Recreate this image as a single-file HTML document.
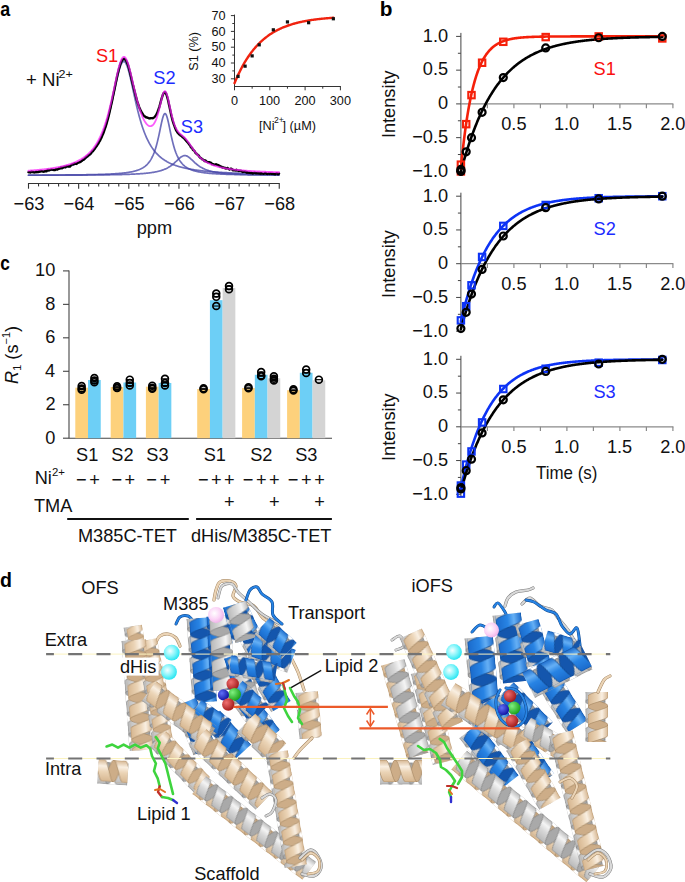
<!DOCTYPE html>
<html><head><meta charset="utf-8"><style>
html,body{margin:0;padding:0;background:#fff;}
svg{display:block;}
text{font-family:"Liberation Sans", sans-serif;}
</style></head><body>
<svg width="685" height="882" viewBox="0 0 685 882">
<rect width="685" height="882" fill="#fff"/>
<text transform="translate(0.16 16.00) scale(0.86 1)" font-size="20.8" fill="#000" font-weight="bold">a</text>
<text transform="translate(379.75 15.80) scale(1.0 1)" font-size="20.8" fill="#000" font-weight="bold">b</text>
<text transform="translate(0.21 270.40) scale(0.83 1)" font-size="20.8" fill="#000" font-weight="bold">c</text>
<text transform="translate(0.12 586.80) scale(0.94 1)" font-size="20.8" fill="#000" font-weight="bold">d</text>
<path d="M28.50,172.27 L29.00,172.24 L29.50,172.21 L30.00,172.18 L30.50,172.14 L31.00,172.11 L31.50,172.07 L32.00,172.04 L32.50,172.00 L33.00,171.97 L33.50,171.93 L34.00,171.89 L34.50,171.85 L35.00,171.82 L35.50,171.78 L36.00,171.74 L36.50,171.70 L37.00,171.65 L37.50,171.61 L38.00,171.57 L38.50,171.53 L39.00,171.48 L39.50,171.44 L40.00,171.39 L40.50,171.34 L41.00,171.30 L41.50,171.25 L42.00,171.20 L42.50,171.15 L43.00,171.10 L43.50,171.05 L44.00,170.99 L44.50,170.94 L45.00,170.89 L45.50,170.83 L46.00,170.77 L46.50,170.72 L47.00,170.66 L47.50,170.60 L48.00,170.54 L48.50,170.48 L49.00,170.41 L49.50,170.35 L50.00,170.28 L50.50,170.22 L51.00,170.15 L51.50,170.08 L52.00,170.01 L52.50,169.93 L53.00,169.86 L53.50,169.79 L54.00,169.71 L54.50,169.63 L55.00,169.55 L55.50,169.47 L56.00,169.39 L56.50,169.30 L57.00,169.21 L57.50,169.13 L58.00,169.04 L58.50,168.94 L59.00,168.85 L59.50,168.75 L60.00,168.65 L60.50,168.55 L61.00,168.45 L61.50,168.35 L62.00,168.24 L62.50,168.13 L63.00,168.02 L63.50,167.90 L64.00,167.78 L64.50,167.66 L65.00,167.54 L65.50,167.42 L66.00,167.29 L66.50,167.15 L67.00,167.02 L67.50,166.88 L68.00,166.74 L68.50,166.59 L69.00,166.45 L69.50,166.29 L70.00,166.14 L70.50,165.98 L71.00,165.81 L71.50,165.64 L72.00,165.47 L72.50,165.29 L73.00,165.11 L73.50,164.93 L74.00,164.73 L74.50,164.54 L75.00,164.33 L75.50,164.13 L76.00,163.91 L76.50,163.69 L77.00,163.47 L77.50,163.24 L78.00,163.00 L78.50,162.76 L79.00,162.50 L79.50,162.25 L80.00,161.98 L80.50,161.70 L81.00,161.42 L81.50,161.13 L82.00,160.83 L82.50,160.52 L83.00,160.21 L83.50,159.88 L84.00,159.54 L84.50,159.19 L85.00,158.83 L85.50,158.46 L86.00,158.08 L86.50,157.68 L87.00,157.28 L87.50,156.86 L88.00,156.42 L88.50,155.97 L89.00,155.51 L89.50,155.03 L90.00,154.53 L90.50,154.02 L91.00,153.49 L91.50,152.94 L92.00,152.37 L92.50,151.78 L93.00,151.17 L93.50,150.54 L94.00,149.89 L94.50,149.21 L95.00,148.51 L95.50,147.79 L96.00,147.03 L96.50,146.25 L97.00,145.44 L97.50,144.61 L98.00,143.73 L98.50,142.83 L99.00,141.90 L99.50,140.92 L100.00,139.92 L100.50,138.87 L101.00,137.78 L101.50,136.66 L102.00,135.49 L102.50,134.28 L103.00,133.02 L103.50,131.72 L104.00,130.37 L104.50,128.96 L105.00,127.51 L105.50,126.01 L106.00,124.45 L106.50,122.84 L107.00,121.18 L107.50,119.46 L108.00,117.68 L108.50,115.85 L109.00,113.97 L109.50,112.02 L110.00,110.03 L110.50,107.98 L111.00,105.89 L111.50,103.75 L112.00,101.56 L112.50,99.34 L113.00,97.08 L113.50,94.80 L114.00,92.50 L114.50,90.19 L115.00,87.88 L115.50,85.57 L116.00,83.29 L116.50,81.04 L117.00,78.84 L117.50,76.70 L118.00,74.64 L118.50,72.67 L119.00,70.81 L119.50,69.08 L120.00,67.49 L120.50,66.05 L121.00,64.79 L121.50,63.71 L122.00,62.82 L122.50,62.15 L123.00,61.68 L123.50,61.44 L124.00,61.42 L124.50,61.62 L125.00,62.04 L125.50,62.67 L126.00,63.52 L126.50,64.56 L127.00,65.78 L127.50,67.19 L128.00,68.75 L128.50,70.46 L129.00,72.29 L129.50,74.24 L130.00,76.28 L130.50,78.41 L131.00,80.60 L131.50,82.84 L132.00,85.11 L132.50,87.41 L133.00,89.73 L133.50,92.04 L134.00,94.34 L134.50,96.63 L135.00,98.89 L135.50,101.12 L136.00,103.31 L136.50,105.46 L137.00,107.57 L137.50,109.62 L138.00,111.63 L138.50,113.58 L139.00,115.48 L139.50,117.32 L140.00,119.11 L140.50,120.84 L141.00,122.52 L141.50,124.14 L142.00,125.70 L142.50,127.22 L143.00,128.68 L143.50,130.09 L144.00,131.45 L144.50,132.76 L145.00,134.03 L145.50,135.25 L146.00,136.43 L146.50,137.56 L147.00,138.66 L147.50,139.71 L148.00,140.72 L148.50,141.70 L149.00,142.65 L149.50,143.56 L150.00,144.43 L150.50,145.28 L151.00,146.09 L151.50,146.88 L152.00,147.64 L152.50,148.37 L153.00,149.08 L153.50,149.76 L154.00,150.41 L154.50,151.05 L155.00,151.66 L155.50,152.25 L156.00,152.83 L156.50,153.38 L157.00,153.91 L157.50,154.43 L158.00,154.93 L158.50,155.41 L159.00,155.88 L159.50,156.33 L160.00,156.77 L160.50,157.19 L161.00,157.60 L161.50,158.00 L162.00,158.39 L162.50,158.76 L163.00,159.12 L163.50,159.47 L164.00,159.81 L164.50,160.14 L165.00,160.46 L165.50,160.77 L166.00,161.07 L166.50,161.36 L167.00,161.65 L167.50,161.92 L168.00,162.19 L168.50,162.45 L169.00,162.71 L169.50,162.95 L170.00,163.19 L170.50,163.42 L171.00,163.65 L171.50,163.87 L172.00,164.09 L172.50,164.29 L173.00,164.50 L173.50,164.69 L174.00,164.89 L174.50,165.07 L175.00,165.26 L175.50,165.44 L176.00,165.61 L176.50,165.78 L177.00,165.94 L177.50,166.10 L178.00,166.26 L178.50,166.42 L179.00,166.56 L179.50,166.71 L180.00,166.85 L180.50,166.99 L181.00,167.13 L181.50,167.26 L182.00,167.39 L182.50,167.52 L183.00,167.64 L183.50,167.76 L184.00,167.88 L184.50,167.99 L185.00,168.11 L185.50,168.22 L186.00,168.32 L186.50,168.43 L187.00,168.53 L187.50,168.63 L188.00,168.73 L188.50,168.83 L189.00,168.92 L189.50,169.02 L190.00,169.11 L190.50,169.20 L191.00,169.28 L191.50,169.37 L192.00,169.45 L192.50,169.53 L193.00,169.61 L193.50,169.69 L194.00,169.77 L194.50,169.85 L195.00,169.92 L195.50,169.99 L196.00,170.06 L196.50,170.13 L197.00,170.20 L197.50,170.27 L198.00,170.33 L198.50,170.40 L199.00,170.46 L199.50,170.53 L200.00,170.59 L200.50,170.65 L201.00,170.70 L201.50,170.76 L202.00,170.82 L202.50,170.88 L203.00,170.93 L203.50,170.98 L204.00,171.04 L204.50,171.09 L205.00,171.14 L205.50,171.19 L206.00,171.24 L206.50,171.29 L207.00,171.33 L207.50,171.38 L208.00,171.43 L208.50,171.47 L209.00,171.52 L209.50,171.56 L210.00,171.60 L210.50,171.65 L211.00,171.69 L211.50,171.73 L212.00,171.77 L212.50,171.81 L213.00,171.85 L213.50,171.88 L214.00,171.92 L214.50,171.96 L215.00,172.00 L215.50,172.03 L216.00,172.07 L216.50,172.10 L217.00,172.14 L217.50,172.17 L218.00,172.20 L218.50,172.24 L219.00,172.27 L219.50,172.30 L220.00,172.33 L220.50,172.36 L221.00,172.39 L221.50,172.42 L222.00,172.45 L222.50,172.48 L223.00,172.51 L223.50,172.54 L224.00,172.57 L224.50,172.59 L225.00,172.62 L225.50,172.65 L226.00,172.67 L226.50,172.70 L227.00,172.72 L227.50,172.75 L228.00,172.77 L228.50,172.80 L229.00,172.82 L229.50,172.85 L230.00,172.87 L230.50,172.89 L231.00,172.92 L231.50,172.94 L232.00,172.96 L232.50,172.98 L233.00,173.00 L233.50,173.03 L234.00,173.05 L234.50,173.07 L235.00,173.09 L235.50,173.11 L236.00,173.13 L236.50,173.15 L237.00,173.17 L237.50,173.19 L238.00,173.21 L238.50,173.22 L239.00,173.24 L239.50,173.26 L240.00,173.28 L240.50,173.30 L241.00,173.31 L241.50,173.33 L242.00,173.35 L242.50,173.37 L243.00,173.38 L243.50,173.40 L244.00,173.42 L244.50,173.43 L245.00,173.45 L245.50,173.46 L246.00,173.48 L246.50,173.49 L247.00,173.51 L247.50,173.52 L248.00,173.54 L248.50,173.55 L249.00,173.57 L249.50,173.58 L250.00,173.60 L250.50,173.61 L251.00,173.62 L251.50,173.64 L252.00,173.65 L252.50,173.66 L253.00,173.68 L253.50,173.69 L254.00,173.70 L254.50,173.72 L255.00,173.73 L255.50,173.74 L256.00,173.75 L256.50,173.77 L257.00,173.78 L257.50,173.79 L258.00,173.80 L258.50,173.81 L259.00,173.83 L259.50,173.84 L260.00,173.85 L260.50,173.86 L261.00,173.87 L261.50,173.88 L262.00,173.89 L262.50,173.90 L263.00,173.91 L263.50,173.92 L264.00,173.93 L264.50,173.94 L265.00,173.95 L265.50,173.96 L266.00,173.97 L266.50,173.98 L267.00,173.99 L267.50,174.00 L268.00,174.01 L268.50,174.02 L269.00,174.03 L269.50,174.04 L270.00,174.05 L270.50,174.06 L271.00,174.07 L271.50,174.08 L272.00,174.09 L272.50,174.10 L273.00,174.10 L273.50,174.11 L274.00,174.12 L274.50,174.13 L275.00,174.14 L275.50,174.15 L276.00,174.15 L276.50,174.16 L277.00,174.17 L277.50,174.18 L278.00,174.19 L278.50,174.19 L279.00,174.20" fill="none" stroke="rgba(70,70,168,0.78)" stroke-width="1.7" stroke-linejoin="round" stroke-linecap="round" />
<path d="M28.50,175.17 L29.00,175.17 L29.50,175.17 L30.00,175.17 L30.50,175.17 L31.00,175.16 L31.50,175.16 L32.00,175.16 L32.50,175.16 L33.00,175.16 L33.50,175.15 L34.00,175.15 L34.50,175.15 L35.00,175.15 L35.50,175.15 L36.00,175.15 L36.50,175.14 L37.00,175.14 L37.50,175.14 L38.00,175.14 L38.50,175.14 L39.00,175.13 L39.50,175.13 L40.00,175.13 L40.50,175.13 L41.00,175.12 L41.50,175.12 L42.00,175.12 L42.50,175.12 L43.00,175.12 L43.50,175.11 L44.00,175.11 L44.50,175.11 L45.00,175.11 L45.50,175.10 L46.00,175.10 L46.50,175.10 L47.00,175.10 L47.50,175.09 L48.00,175.09 L48.50,175.09 L49.00,175.09 L49.50,175.08 L50.00,175.08 L50.50,175.08 L51.00,175.07 L51.50,175.07 L52.00,175.07 L52.50,175.07 L53.00,175.06 L53.50,175.06 L54.00,175.06 L54.50,175.05 L55.00,175.05 L55.50,175.05 L56.00,175.04 L56.50,175.04 L57.00,175.04 L57.50,175.03 L58.00,175.03 L58.50,175.03 L59.00,175.02 L59.50,175.02 L60.00,175.02 L60.50,175.01 L61.00,175.01 L61.50,175.01 L62.00,175.00 L62.50,175.00 L63.00,174.99 L63.50,174.99 L64.00,174.99 L64.50,174.98 L65.00,174.98 L65.50,174.97 L66.00,174.97 L66.50,174.96 L67.00,174.96 L67.50,174.96 L68.00,174.95 L68.50,174.95 L69.00,174.94 L69.50,174.94 L70.00,174.93 L70.50,174.93 L71.00,174.92 L71.50,174.92 L72.00,174.91 L72.50,174.91 L73.00,174.90 L73.50,174.90 L74.00,174.89 L74.50,174.88 L75.00,174.88 L75.50,174.87 L76.00,174.87 L76.50,174.86 L77.00,174.86 L77.50,174.85 L78.00,174.84 L78.50,174.84 L79.00,174.83 L79.50,174.82 L80.00,174.82 L80.50,174.81 L81.00,174.80 L81.50,174.80 L82.00,174.79 L82.50,174.78 L83.00,174.77 L83.50,174.77 L84.00,174.76 L84.50,174.75 L85.00,174.74 L85.50,174.73 L86.00,174.73 L86.50,174.72 L87.00,174.71 L87.50,174.70 L88.00,174.69 L88.50,174.68 L89.00,174.67 L89.50,174.66 L90.00,174.65 L90.50,174.64 L91.00,174.63 L91.50,174.62 L92.00,174.61 L92.50,174.60 L93.00,174.59 L93.50,174.58 L94.00,174.57 L94.50,174.56 L95.00,174.54 L95.50,174.53 L96.00,174.52 L96.50,174.51 L97.00,174.49 L97.50,174.48 L98.00,174.47 L98.50,174.45 L99.00,174.44 L99.50,174.42 L100.00,174.41 L100.50,174.39 L101.00,174.38 L101.50,174.36 L102.00,174.35 L102.50,174.33 L103.00,174.31 L103.50,174.29 L104.00,174.28 L104.50,174.26 L105.00,174.24 L105.50,174.22 L106.00,174.20 L106.50,174.18 L107.00,174.16 L107.50,174.14 L108.00,174.12 L108.50,174.09 L109.00,174.07 L109.50,174.05 L110.00,174.02 L110.50,174.00 L111.00,173.97 L111.50,173.95 L112.00,173.92 L112.50,173.89 L113.00,173.86 L113.50,173.84 L114.00,173.81 L114.50,173.77 L115.00,173.74 L115.50,173.71 L116.00,173.68 L116.50,173.64 L117.00,173.61 L117.50,173.57 L118.00,173.53 L118.50,173.49 L119.00,173.45 L119.50,173.41 L120.00,173.37 L120.50,173.32 L121.00,173.28 L121.50,173.23 L122.00,173.18 L122.50,173.13 L123.00,173.08 L123.50,173.02 L124.00,172.97 L124.50,172.91 L125.00,172.85 L125.50,172.79 L126.00,172.72 L126.50,172.66 L127.00,172.59 L127.50,172.51 L128.00,172.44 L128.50,172.36 L129.00,172.28 L129.50,172.20 L130.00,172.11 L130.50,172.02 L131.00,171.92 L131.50,171.83 L132.00,171.72 L132.50,171.62 L133.00,171.50 L133.50,171.39 L134.00,171.27 L134.50,171.14 L135.00,171.01 L135.50,170.87 L136.00,170.72 L136.50,170.57 L137.00,170.41 L137.50,170.24 L138.00,170.06 L138.50,169.88 L139.00,169.68 L139.50,169.48 L140.00,169.26 L140.50,169.04 L141.00,168.80 L141.50,168.55 L142.00,168.28 L142.50,168.00 L143.00,167.70 L143.50,167.38 L144.00,167.05 L144.50,166.70 L145.00,166.32 L145.50,165.92 L146.00,165.50 L146.50,165.04 L147.00,164.56 L147.50,164.05 L148.00,163.50 L148.50,162.92 L149.00,162.30 L149.50,161.63 L150.00,160.91 L150.50,160.15 L151.00,159.33 L151.50,158.45 L152.00,157.50 L152.50,156.49 L153.00,155.40 L153.50,154.23 L154.00,152.98 L154.50,151.63 L155.00,150.19 L155.50,148.65 L156.00,147.00 L156.50,145.24 L157.00,143.36 L157.50,141.38 L158.00,139.29 L158.50,137.09 L159.00,134.81 L159.50,132.46 L160.00,130.06 L160.50,127.64 L161.00,125.25 L161.50,122.93 L162.00,120.74 L162.50,118.74 L163.00,116.99 L163.50,115.55 L164.00,114.48 L164.50,113.82 L165.00,113.60 L165.50,113.82 L166.00,114.48 L166.50,115.55 L167.00,116.99 L167.50,118.74 L168.00,120.74 L168.50,122.93 L169.00,125.25 L169.50,127.64 L170.00,130.06 L170.50,132.46 L171.00,134.81 L171.50,137.09 L172.00,139.29 L172.50,141.38 L173.00,143.36 L173.50,145.24 L174.00,147.00 L174.50,148.65 L175.00,150.19 L175.50,151.63 L176.00,152.98 L176.50,154.23 L177.00,155.40 L177.50,156.49 L178.00,157.50 L178.50,158.45 L179.00,159.33 L179.50,160.15 L180.00,160.91 L180.50,161.63 L181.00,162.30 L181.50,162.92 L182.00,163.50 L182.50,164.05 L183.00,164.56 L183.50,165.04 L184.00,165.50 L184.50,165.92 L185.00,166.32 L185.50,166.70 L186.00,167.05 L186.50,167.38 L187.00,167.70 L187.50,168.00 L188.00,168.28 L188.50,168.55 L189.00,168.80 L189.50,169.04 L190.00,169.26 L190.50,169.48 L191.00,169.68 L191.50,169.88 L192.00,170.06 L192.50,170.24 L193.00,170.41 L193.50,170.57 L194.00,170.72 L194.50,170.87 L195.00,171.01 L195.50,171.14 L196.00,171.27 L196.50,171.39 L197.00,171.50 L197.50,171.62 L198.00,171.72 L198.50,171.83 L199.00,171.92 L199.50,172.02 L200.00,172.11 L200.50,172.20 L201.00,172.28 L201.50,172.36 L202.00,172.44 L202.50,172.51 L203.00,172.59 L203.50,172.66 L204.00,172.72 L204.50,172.79 L205.00,172.85 L205.50,172.91 L206.00,172.97 L206.50,173.02 L207.00,173.08 L207.50,173.13 L208.00,173.18 L208.50,173.23 L209.00,173.28 L209.50,173.32 L210.00,173.37 L210.50,173.41 L211.00,173.45 L211.50,173.49 L212.00,173.53 L212.50,173.57 L213.00,173.61 L213.50,173.64 L214.00,173.68 L214.50,173.71 L215.00,173.74 L215.50,173.77 L216.00,173.81 L216.50,173.84 L217.00,173.86 L217.50,173.89 L218.00,173.92 L218.50,173.95 L219.00,173.97 L219.50,174.00 L220.00,174.02 L220.50,174.05 L221.00,174.07 L221.50,174.09 L222.00,174.12 L222.50,174.14 L223.00,174.16 L223.50,174.18 L224.00,174.20 L224.50,174.22 L225.00,174.24 L225.50,174.26 L226.00,174.28 L226.50,174.29 L227.00,174.31 L227.50,174.33 L228.00,174.35 L228.50,174.36 L229.00,174.38 L229.50,174.39 L230.00,174.41 L230.50,174.42 L231.00,174.44 L231.50,174.45 L232.00,174.47 L232.50,174.48 L233.00,174.49 L233.50,174.51 L234.00,174.52 L234.50,174.53 L235.00,174.54 L235.50,174.56 L236.00,174.57 L236.50,174.58 L237.00,174.59 L237.50,174.60 L238.00,174.61 L238.50,174.62 L239.00,174.63 L239.50,174.64 L240.00,174.65 L240.50,174.66 L241.00,174.67 L241.50,174.68 L242.00,174.69 L242.50,174.70 L243.00,174.71 L243.50,174.72 L244.00,174.73 L244.50,174.73 L245.00,174.74 L245.50,174.75 L246.00,174.76 L246.50,174.77 L247.00,174.77 L247.50,174.78 L248.00,174.79 L248.50,174.80 L249.00,174.80 L249.50,174.81 L250.00,174.82 L250.50,174.82 L251.00,174.83 L251.50,174.84 L252.00,174.84 L252.50,174.85 L253.00,174.86 L253.50,174.86 L254.00,174.87 L254.50,174.87 L255.00,174.88 L255.50,174.88 L256.00,174.89 L256.50,174.90 L257.00,174.90 L257.50,174.91 L258.00,174.91 L258.50,174.92 L259.00,174.92 L259.50,174.93 L260.00,174.93 L260.50,174.94 L261.00,174.94 L261.50,174.95 L262.00,174.95 L262.50,174.96 L263.00,174.96 L263.50,174.96 L264.00,174.97 L264.50,174.97 L265.00,174.98 L265.50,174.98 L266.00,174.99 L266.50,174.99 L267.00,174.99 L267.50,175.00 L268.00,175.00 L268.50,175.01 L269.00,175.01 L269.50,175.01 L270.00,175.02 L270.50,175.02 L271.00,175.02 L271.50,175.03 L272.00,175.03 L272.50,175.03 L273.00,175.04 L273.50,175.04 L274.00,175.04 L274.50,175.05 L275.00,175.05 L275.50,175.05 L276.00,175.06 L276.50,175.06 L277.00,175.06 L277.50,175.07 L278.00,175.07 L278.50,175.07 L279.00,175.07" fill="none" stroke="rgba(70,70,168,0.78)" stroke-width="1.7" stroke-linejoin="round" stroke-linecap="round" />
<path d="M28.50,175.25 L29.00,175.25 L29.50,175.25 L30.00,175.25 L30.50,175.25 L31.00,175.25 L31.50,175.25 L32.00,175.25 L32.50,175.25 L33.00,175.24 L33.50,175.24 L34.00,175.24 L34.50,175.24 L35.00,175.24 L35.50,175.24 L36.00,175.24 L36.50,175.24 L37.00,175.24 L37.50,175.24 L38.00,175.23 L38.50,175.23 L39.00,175.23 L39.50,175.23 L40.00,175.23 L40.50,175.23 L41.00,175.23 L41.50,175.23 L42.00,175.22 L42.50,175.22 L43.00,175.22 L43.50,175.22 L44.00,175.22 L44.50,175.22 L45.00,175.22 L45.50,175.22 L46.00,175.21 L46.50,175.21 L47.00,175.21 L47.50,175.21 L48.00,175.21 L48.50,175.21 L49.00,175.21 L49.50,175.20 L50.00,175.20 L50.50,175.20 L51.00,175.20 L51.50,175.20 L52.00,175.20 L52.50,175.20 L53.00,175.19 L53.50,175.19 L54.00,175.19 L54.50,175.19 L55.00,175.19 L55.50,175.19 L56.00,175.18 L56.50,175.18 L57.00,175.18 L57.50,175.18 L58.00,175.18 L58.50,175.18 L59.00,175.17 L59.50,175.17 L60.00,175.17 L60.50,175.17 L61.00,175.17 L61.50,175.17 L62.00,175.16 L62.50,175.16 L63.00,175.16 L63.50,175.16 L64.00,175.16 L64.50,175.15 L65.00,175.15 L65.50,175.15 L66.00,175.15 L66.50,175.15 L67.00,175.14 L67.50,175.14 L68.00,175.14 L68.50,175.14 L69.00,175.13 L69.50,175.13 L70.00,175.13 L70.50,175.13 L71.00,175.13 L71.50,175.12 L72.00,175.12 L72.50,175.12 L73.00,175.12 L73.50,175.11 L74.00,175.11 L74.50,175.11 L75.00,175.11 L75.50,175.10 L76.00,175.10 L76.50,175.10 L77.00,175.09 L77.50,175.09 L78.00,175.09 L78.50,175.09 L79.00,175.08 L79.50,175.08 L80.00,175.08 L80.50,175.07 L81.00,175.07 L81.50,175.07 L82.00,175.06 L82.50,175.06 L83.00,175.06 L83.50,175.05 L84.00,175.05 L84.50,175.05 L85.00,175.04 L85.50,175.04 L86.00,175.04 L86.50,175.03 L87.00,175.03 L87.50,175.03 L88.00,175.02 L88.50,175.02 L89.00,175.01 L89.50,175.01 L90.00,175.01 L90.50,175.00 L91.00,175.00 L91.50,174.99 L92.00,174.99 L92.50,174.99 L93.00,174.98 L93.50,174.98 L94.00,174.97 L94.50,174.97 L95.00,174.96 L95.50,174.96 L96.00,174.95 L96.50,174.95 L97.00,174.94 L97.50,174.94 L98.00,174.93 L98.50,174.93 L99.00,174.92 L99.50,174.92 L100.00,174.91 L100.50,174.90 L101.00,174.90 L101.50,174.89 L102.00,174.89 L102.50,174.88 L103.00,174.88 L103.50,174.87 L104.00,174.86 L104.50,174.86 L105.00,174.85 L105.50,174.84 L106.00,174.84 L106.50,174.83 L107.00,174.82 L107.50,174.81 L108.00,174.81 L108.50,174.80 L109.00,174.79 L109.50,174.78 L110.00,174.78 L110.50,174.77 L111.00,174.76 L111.50,174.75 L112.00,174.74 L112.50,174.73 L113.00,174.72 L113.50,174.71 L114.00,174.71 L114.50,174.70 L115.00,174.69 L115.50,174.68 L116.00,174.67 L116.50,174.66 L117.00,174.64 L117.50,174.63 L118.00,174.62 L118.50,174.61 L119.00,174.60 L119.50,174.59 L120.00,174.58 L120.50,174.56 L121.00,174.55 L121.50,174.54 L122.00,174.53 L122.50,174.51 L123.00,174.50 L123.50,174.48 L124.00,174.47 L124.50,174.45 L125.00,174.44 L125.50,174.42 L126.00,174.41 L126.50,174.39 L127.00,174.38 L127.50,174.36 L128.00,174.34 L128.50,174.32 L129.00,174.31 L129.50,174.29 L130.00,174.27 L130.50,174.25 L131.00,174.23 L131.50,174.21 L132.00,174.19 L132.50,174.16 L133.00,174.14 L133.50,174.12 L134.00,174.09 L134.50,174.07 L135.00,174.04 L135.50,174.02 L136.00,173.99 L136.50,173.97 L137.00,173.94 L137.50,173.91 L138.00,173.88 L138.50,173.85 L139.00,173.82 L139.50,173.78 L140.00,173.75 L140.50,173.72 L141.00,173.68 L141.50,173.65 L142.00,173.61 L142.50,173.57 L143.00,173.53 L143.50,173.49 L144.00,173.45 L144.50,173.40 L145.00,173.36 L145.50,173.31 L146.00,173.26 L146.50,173.21 L147.00,173.16 L147.50,173.11 L148.00,173.05 L148.50,172.99 L149.00,172.93 L149.50,172.87 L150.00,172.81 L150.50,172.74 L151.00,172.68 L151.50,172.61 L152.00,172.53 L152.50,172.46 L153.00,172.38 L153.50,172.29 L154.00,172.21 L154.50,172.12 L155.00,172.03 L155.50,171.93 L156.00,171.83 L156.50,171.73 L157.00,171.62 L157.50,171.51 L158.00,171.39 L158.50,171.27 L159.00,171.14 L159.50,171.01 L160.00,170.87 L160.50,170.73 L161.00,170.58 L161.50,170.42 L162.00,170.26 L162.50,170.09 L163.00,169.91 L163.50,169.73 L164.00,169.53 L164.50,169.33 L165.00,169.12 L165.50,168.90 L166.00,168.66 L166.50,168.42 L167.00,168.17 L167.50,167.91 L168.00,167.63 L168.50,167.34 L169.00,167.04 L169.50,166.73 L170.00,166.41 L170.50,166.07 L171.00,165.72 L171.50,165.35 L172.00,164.97 L172.50,164.58 L173.00,164.18 L173.50,163.76 L174.00,163.33 L174.50,162.89 L175.00,162.43 L175.50,161.97 L176.00,161.50 L176.50,161.03 L177.00,160.56 L177.50,160.08 L178.00,159.61 L178.50,159.14 L179.00,158.69 L179.50,158.24 L180.00,157.82 L180.50,157.42 L181.00,157.05 L181.50,156.72 L182.00,156.42 L182.50,156.16 L183.00,155.95 L183.50,155.78 L184.00,155.67 L184.50,155.61 L185.00,155.60 L185.50,155.65 L186.00,155.76 L186.50,155.91 L187.00,156.11 L187.50,156.36 L188.00,156.65 L188.50,156.98 L189.00,157.35 L189.50,157.74 L190.00,158.16 L190.50,158.60 L191.00,159.05 L191.50,159.51 L192.00,159.98 L192.50,160.46 L193.00,160.94 L193.50,161.41 L194.00,161.88 L194.50,162.34 L195.00,162.80 L195.50,163.24 L196.00,163.67 L196.50,164.09 L197.00,164.50 L197.50,164.90 L198.00,165.28 L198.50,165.65 L199.00,166.00 L199.50,166.34 L200.00,166.67 L200.50,166.98 L201.00,167.29 L201.50,167.57 L202.00,167.85 L202.50,168.12 L203.00,168.37 L203.50,168.62 L204.00,168.85 L204.50,169.07 L205.00,169.29 L205.50,169.49 L206.00,169.69 L206.50,169.88 L207.00,170.05 L207.50,170.23 L208.00,170.39 L208.50,170.55 L209.00,170.70 L209.50,170.85 L210.00,170.98 L210.50,171.12 L211.00,171.25 L211.50,171.37 L212.00,171.49 L212.50,171.60 L213.00,171.71 L213.50,171.81 L214.00,171.91 L214.50,172.01 L215.00,172.10 L215.50,172.19 L216.00,172.28 L216.50,172.36 L217.00,172.44 L217.50,172.52 L218.00,172.59 L218.50,172.66 L219.00,172.73 L219.50,172.80 L220.00,172.86 L220.50,172.92 L221.00,172.98 L221.50,173.04 L222.00,173.10 L222.50,173.15 L223.00,173.20 L223.50,173.25 L224.00,173.30 L224.50,173.35 L225.00,173.39 L225.50,173.44 L226.00,173.48 L226.50,173.52 L227.00,173.56 L227.50,173.60 L228.00,173.64 L228.50,173.68 L229.00,173.71 L229.50,173.74 L230.00,173.78 L230.50,173.81 L231.00,173.84 L231.50,173.87 L232.00,173.90 L232.50,173.93 L233.00,173.96 L233.50,173.99 L234.00,174.01 L234.50,174.04 L235.00,174.06 L235.50,174.09 L236.00,174.11 L236.50,174.14 L237.00,174.16 L237.50,174.18 L238.00,174.20 L238.50,174.22 L239.00,174.24 L239.50,174.26 L240.00,174.28 L240.50,174.30 L241.00,174.32 L241.50,174.34 L242.00,174.36 L242.50,174.37 L243.00,174.39 L243.50,174.41 L244.00,174.42 L244.50,174.44 L245.00,174.45 L245.50,174.47 L246.00,174.48 L246.50,174.50 L247.00,174.51 L247.50,174.52 L248.00,174.54 L248.50,174.55 L249.00,174.56 L249.50,174.57 L250.00,174.59 L250.50,174.60 L251.00,174.61 L251.50,174.62 L252.00,174.63 L252.50,174.64 L253.00,174.65 L253.50,174.66 L254.00,174.67 L254.50,174.68 L255.00,174.69 L255.50,174.70 L256.00,174.71 L256.50,174.72 L257.00,174.73 L257.50,174.74 L258.00,174.75 L258.50,174.76 L259.00,174.77 L259.50,174.77 L260.00,174.78 L260.50,174.79 L261.00,174.80 L261.50,174.81 L262.00,174.81 L262.50,174.82 L263.00,174.83 L263.50,174.83 L264.00,174.84 L264.50,174.85 L265.00,174.85 L265.50,174.86 L266.00,174.87 L266.50,174.87 L267.00,174.88 L267.50,174.89 L268.00,174.89 L268.50,174.90 L269.00,174.90 L269.50,174.91 L270.00,174.92 L270.50,174.92 L271.00,174.93 L271.50,174.93 L272.00,174.94 L272.50,174.94 L273.00,174.95 L273.50,174.95 L274.00,174.96 L274.50,174.96 L275.00,174.97 L275.50,174.97 L276.00,174.98 L276.50,174.98 L277.00,174.98 L277.50,174.99 L278.00,174.99 L278.50,175.00 L279.00,175.00" fill="none" stroke="rgba(70,70,168,0.78)" stroke-width="1.7" stroke-linejoin="round" stroke-linecap="round" />
<path d="M28.50,172.21 L29.00,172.34 L29.50,172.21 L30.00,172.37 L30.50,172.48 L31.00,171.92 L31.50,171.51 L32.00,172.14 L32.50,171.88 L33.00,171.68 L33.50,172.36 L34.00,172.19 L34.50,172.46 L35.00,172.21 L35.50,172.22 L36.00,171.68 L36.50,171.86 L37.00,172.20 L37.50,172.01 L38.00,172.11 L38.50,172.07 L39.00,171.37 L39.50,171.68 L40.00,171.66 L40.50,171.31 L41.00,170.78 L41.50,171.34 L42.00,171.23 L42.50,171.40 L43.00,171.65 L43.50,171.59 L44.00,171.75 L44.50,171.25 L45.00,171.36 L45.50,171.01 L46.00,171.29 L46.50,171.37 L47.00,170.55 L47.50,170.06 L48.00,169.82 L48.50,170.45 L49.00,170.22 L49.50,170.25 L50.00,169.88 L50.50,169.85 L51.00,169.66 L51.50,169.47 L52.00,169.57 L52.50,169.60 L53.00,169.92 L53.50,169.83 L54.00,170.01 L54.50,169.99 L55.00,170.09 L55.50,169.76 L56.00,168.98 L56.50,169.22 L57.00,169.44 L57.50,169.46 L58.00,169.07 L58.50,168.95 L59.00,168.30 L59.50,168.53 L60.00,168.35 L60.50,167.89 L61.00,167.33 L61.50,167.81 L62.00,168.19 L62.50,167.41 L63.00,167.66 L63.50,167.35 L64.00,166.83 L64.50,166.63 L65.00,166.97 L65.50,167.25 L66.00,166.46 L66.50,166.56 L67.00,165.95 L67.50,166.26 L68.00,165.97 L68.50,166.34 L69.00,166.61 L69.50,166.20 L70.00,166.42 L70.50,165.75 L71.00,165.04 L71.50,165.10 L72.00,164.46 L72.50,164.19 L73.00,164.18 L73.50,164.32 L74.00,163.83 L74.50,163.34 L75.00,163.85 L75.50,163.48 L76.00,163.86 L76.50,163.94 L77.00,163.33 L77.50,162.96 L78.00,162.70 L78.50,162.58 L79.00,162.35 L79.50,162.06 L80.00,161.84 L80.50,161.94 L81.00,161.41 L81.50,160.89 L82.00,160.76 L82.50,160.03 L83.00,159.53 L83.50,159.82 L84.00,159.36 L84.50,158.96 L85.00,157.99 L85.50,157.69 L86.00,157.52 L86.50,156.65 L87.00,156.59 L87.50,156.40 L88.00,155.49 L88.50,155.36 L89.00,154.92 L89.50,154.69 L90.00,153.99 L90.50,153.75 L91.00,153.42 L91.50,152.22 L92.00,151.32 L92.50,151.21 L93.00,151.22 L93.50,150.20 L94.00,149.56 L94.50,149.07 L95.00,148.31 L95.50,147.62 L96.00,146.90 L96.50,146.19 L97.00,145.55 L97.50,144.73 L98.00,143.94 L98.50,143.27 L99.00,142.23 L99.50,141.44 L100.00,140.64 L100.50,139.59 L101.00,138.49 L101.50,137.61 L102.00,136.39 L102.50,135.14 L103.00,133.97 L103.50,132.81 L104.00,131.32 L104.50,129.91 L105.00,128.44 L105.50,127.10 L106.00,125.46 L106.50,123.92 L107.00,122.00 L107.50,120.14 L108.00,118.35 L108.50,116.55 L109.00,114.46 L109.50,112.25 L110.00,110.00 L110.50,107.90 L111.00,105.58 L111.50,103.48 L112.00,101.27 L112.50,98.73 L113.00,96.27 L113.50,94.01 L114.00,91.61 L114.50,89.25 L115.00,86.69 L115.50,84.12 L116.00,81.69 L116.50,79.51 L117.00,77.12 L117.50,74.85 L118.00,72.71 L118.50,70.66 L119.00,68.72 L119.50,67.10 L120.00,65.26 L120.50,63.59 L121.00,62.51 L121.50,61.49 L122.00,60.65 L122.50,59.76 L123.00,59.34 L123.50,59.08 L124.00,58.75 L124.50,58.93 L125.00,59.34 L125.50,59.87 L126.00,60.56 L126.50,61.39 L127.00,62.47 L127.50,63.70 L128.00,65.05 L128.50,66.79 L129.00,68.48 L129.50,70.48 L130.00,72.22 L130.50,74.43 L131.00,76.53 L131.50,78.73 L132.00,80.90 L132.50,83.06 L133.00,85.08 L133.50,86.91 L134.00,89.11 L134.50,91.00 L135.00,92.95 L135.50,95.00 L136.00,96.89 L136.50,98.67 L137.00,100.57 L137.50,102.21 L138.00,103.66 L138.50,105.04 L139.00,106.60 L139.50,107.85 L140.00,109.15 L140.50,110.15 L141.00,111.05 L141.50,112.04 L142.00,113.03 L142.50,113.63 L143.00,114.46 L143.50,115.20 L144.00,115.78 L144.50,116.28 L145.00,116.41 L145.50,116.84 L146.00,117.28 L146.50,117.32 L147.00,117.51 L147.50,117.68 L148.00,117.93 L148.50,118.08 L149.00,118.23 L149.50,118.45 L150.00,118.31 L150.50,118.24 L151.00,118.21 L151.50,118.16 L152.00,118.06 L152.50,118.26 L153.00,118.23 L153.50,117.78 L154.00,117.49 L154.50,117.03 L155.00,116.48 L155.50,115.86 L156.00,115.22 L156.50,114.40 L157.00,113.33 L157.50,112.09 L158.00,110.80 L158.50,109.30 L159.00,107.87 L159.50,106.34 L160.00,104.54 L160.50,102.59 L161.00,100.72 L161.50,98.97 L162.00,97.37 L162.50,95.94 L163.00,94.51 L163.50,93.54 L164.00,92.79 L164.50,92.32 L165.00,92.27 L165.50,92.70 L166.00,93.60 L166.50,94.74 L167.00,96.35 L167.50,98.11 L168.00,100.04 L168.50,102.29 L169.00,104.67 L169.50,106.84 L170.00,109.21 L170.50,111.53 L171.00,113.95 L171.50,116.22 L172.00,118.12 L172.50,120.14 L173.00,121.95 L173.50,123.42 L174.00,124.90 L174.50,126.14 L175.00,127.58 L175.50,128.78 L176.00,129.93 L176.50,130.90 L177.00,131.72 L177.50,132.49 L178.00,133.11 L178.50,133.52 L179.00,134.14 L179.50,134.46 L180.00,134.87 L180.50,135.50 L181.00,135.76 L181.50,136.09 L182.00,136.44 L182.50,137.10 L183.00,137.39 L183.50,137.69 L184.00,138.35 L184.50,138.67 L185.00,139.35 L185.50,139.90 L186.00,140.53 L186.50,141.19 L187.00,141.69 L187.50,142.34 L188.00,142.71 L188.50,143.48 L189.00,144.12 L189.50,144.87 L190.00,145.36 L190.50,146.27 L191.00,147.39 L191.50,147.40 L192.00,147.96 L192.50,148.82 L193.00,149.89 L193.50,150.15 L194.00,150.50 L194.50,151.02 L195.00,151.96 L195.50,152.91 L196.00,153.30 L196.50,153.72 L197.00,154.21 L197.50,154.65 L198.00,155.17 L198.50,155.30 L199.00,156.00 L199.50,157.10 L200.00,157.31 L200.50,157.95 L201.00,157.85 L201.50,158.50 L202.00,159.09 L202.50,159.49 L203.00,159.68 L203.50,159.87 L204.00,160.27 L204.50,160.90 L205.00,160.57 L205.50,160.42 L206.00,161.12 L206.50,161.83 L207.00,161.90 L207.50,161.96 L208.00,162.38 L208.50,162.13 L209.00,162.15 L209.50,162.17 L210.00,162.67 L210.50,162.75 L211.00,162.79 L211.50,163.37 L212.00,164.07 L212.50,163.85 L213.00,164.23 L213.50,164.21 L214.00,164.73 L214.50,164.82 L215.00,164.59 L215.50,164.47 L216.00,164.24 L216.50,164.66 L217.00,164.87 L217.50,164.82 L218.00,165.06 L218.50,165.22 L219.00,165.86 L219.50,165.63 L220.00,166.46 L220.50,166.46 L221.00,166.65 L221.50,166.68 L222.00,167.15 L222.50,167.48 L223.00,167.44 L223.50,167.40 L224.00,167.68 L224.50,168.06 L225.00,167.84 L225.50,168.13 L226.00,168.60 L226.50,168.41 L227.00,168.09 L227.50,167.95 L228.00,168.45 L228.50,168.75 L229.00,169.29 L229.50,169.55 L230.00,169.10 L230.50,168.82 L231.00,168.78 L231.50,168.72 L232.00,169.30 L232.50,169.86 L233.00,170.28 L233.50,169.89 L234.00,170.35 L234.50,170.08 L235.00,170.08 L235.50,170.46 L236.00,170.03 L236.50,169.82 L237.00,170.53 L237.50,170.42 L238.00,170.46 L238.50,170.76 L239.00,171.08 L239.50,170.59 L240.00,170.68 L240.50,170.88 L241.00,171.09 L241.50,170.95 L242.00,171.30 L242.50,171.94 L243.00,171.75 L243.50,171.82 L244.00,171.44 L244.50,171.41 L245.00,171.83 L245.50,171.52 L246.00,172.19 L246.50,172.65 L247.00,172.06 L247.50,172.65 L248.00,172.41 L248.50,172.72 L249.00,172.91 L249.50,172.55 L250.00,172.76 L250.50,172.88 L251.00,173.14 L251.50,172.73 L252.00,173.03 L252.50,173.45 L253.00,173.40 L253.50,173.25 L254.00,172.71 L254.50,172.82 L255.00,172.74 L255.50,173.11 L256.00,173.30 L256.50,173.30 L257.00,172.91 L257.50,173.18 L258.00,173.34 L258.50,172.96 L259.00,173.52 L259.50,173.61 L260.00,173.10 L260.50,173.67 L261.00,173.18 L261.50,173.10 L262.00,173.48 L262.50,173.58 L263.00,173.61 L263.50,173.74 L264.00,173.62 L264.50,173.40 L265.00,173.13 L265.50,172.86 L266.00,173.41 L266.50,173.78 L267.00,173.79 L267.50,174.02 L268.00,173.75 L268.50,173.49 L269.00,173.48 L269.50,174.00 L270.00,173.43 L270.50,173.59 L271.00,173.42 L271.50,173.88 L272.00,173.72 L272.50,173.61 L273.00,173.63 L273.50,173.79 L274.00,174.15 L274.50,173.91 L275.00,174.31 L275.50,173.77 L276.00,173.61 L276.50,173.35 L277.00,173.20 L277.50,173.85 L278.00,174.18 L278.50,173.80 L279.00,173.58" fill="none" stroke="#000" stroke-width="2.4" stroke-linejoin="round" stroke-linecap="round" />
<path d="M28.50,170.70 L29.00,170.67 L29.50,170.63 L30.00,170.59 L30.50,170.56 L31.00,170.52 L31.50,170.48 L32.00,170.45 L32.50,170.41 L33.00,170.37 L33.50,170.33 L34.00,170.29 L34.50,170.25 L35.00,170.20 L35.50,170.16 L36.00,170.12 L36.50,170.08 L37.00,170.03 L37.50,169.99 L38.00,169.94 L38.50,169.89 L39.00,169.85 L39.50,169.80 L40.00,169.75 L40.50,169.70 L41.00,169.65 L41.50,169.60 L42.00,169.54 L42.50,169.49 L43.00,169.44 L43.50,169.38 L44.00,169.32 L44.50,169.27 L45.00,169.21 L45.50,169.15 L46.00,169.09 L46.50,169.03 L47.00,168.97 L47.50,168.90 L48.00,168.84 L48.50,168.77 L49.00,168.70 L49.50,168.64 L50.00,168.57 L50.50,168.49 L51.00,168.42 L51.50,168.35 L52.00,168.27 L52.50,168.20 L53.00,168.12 L53.50,168.04 L54.00,167.96 L54.50,167.87 L55.00,167.79 L55.50,167.70 L56.00,167.61 L56.50,167.52 L57.00,167.43 L57.50,167.34 L58.00,167.24 L58.50,167.15 L59.00,167.05 L59.50,166.95 L60.00,166.84 L60.50,166.74 L61.00,166.63 L61.50,166.52 L62.00,166.40 L62.50,166.29 L63.00,166.17 L63.50,166.05 L64.00,165.93 L64.50,165.80 L65.00,165.67 L65.50,165.54 L66.00,165.40 L66.50,165.26 L67.00,165.12 L67.50,164.98 L68.00,164.83 L68.50,164.68 L69.00,164.52 L69.50,164.36 L70.00,164.20 L70.50,164.03 L71.00,163.86 L71.50,163.68 L72.00,163.50 L72.50,163.32 L73.00,163.13 L73.50,162.93 L74.00,162.73 L74.50,162.53 L75.00,162.32 L75.50,162.10 L76.00,161.88 L76.50,161.65 L77.00,161.42 L77.50,161.18 L78.00,160.93 L78.50,160.68 L79.00,160.42 L79.50,160.15 L80.00,159.87 L80.50,159.59 L81.00,159.30 L81.50,158.99 L82.00,158.68 L82.50,158.36 L83.00,158.04 L83.50,157.70 L84.00,157.35 L84.50,156.99 L85.00,156.62 L85.50,156.24 L86.00,155.84 L86.50,155.43 L87.00,155.01 L87.50,154.58 L88.00,154.13 L88.50,153.67 L89.00,153.19 L89.50,152.70 L90.00,152.19 L90.50,151.66 L91.00,151.12 L91.50,150.55 L92.00,149.97 L92.50,149.37 L93.00,148.74 L93.50,148.10 L94.00,147.43 L94.50,146.74 L95.00,146.02 L95.50,145.28 L96.00,144.51 L96.50,143.71 L97.00,142.88 L97.50,142.02 L98.00,141.13 L98.50,140.21 L99.00,139.25 L99.50,138.26 L100.00,137.23 L100.50,136.17 L101.00,135.06 L101.50,133.91 L102.00,132.72 L102.50,131.49 L103.00,130.21 L103.50,128.88 L104.00,127.50 L104.50,126.08 L105.00,124.60 L105.50,123.07 L106.00,121.49 L106.50,119.85 L107.00,118.16 L107.50,116.41 L108.00,114.61 L108.50,112.75 L109.00,110.83 L109.50,108.86 L110.00,106.83 L110.50,104.75 L111.00,102.62 L111.50,100.44 L112.00,98.22 L112.50,95.96 L113.00,93.67 L113.50,91.35 L114.00,89.01 L114.50,86.66 L115.00,84.30 L115.50,81.96 L116.00,79.63 L116.50,77.34 L117.00,75.09 L117.50,72.91 L118.00,70.79 L118.50,68.78 L119.00,66.86 L119.50,65.08 L120.00,63.43 L120.50,61.94 L121.00,60.62 L121.50,59.48 L122.00,58.53 L122.50,57.79 L123.00,57.26 L123.50,56.95 L124.00,56.85 L124.50,56.98 L125.00,57.33 L125.50,57.88 L126.00,58.65 L126.50,59.60 L127.00,60.75 L127.50,62.06 L128.00,63.53 L128.50,65.14 L129.00,66.88 L129.50,68.72 L130.00,70.66 L130.50,72.67 L131.00,74.75 L131.50,76.87 L132.00,79.02 L132.50,81.19 L133.00,83.37 L133.50,85.54 L134.00,87.70 L134.50,89.84 L135.00,91.94 L135.50,94.01 L136.00,96.03 L136.50,98.00 L137.00,99.91 L137.50,101.77 L138.00,103.57 L138.50,105.31 L139.00,106.98 L139.50,108.59 L140.00,110.12 L140.50,111.59 L141.00,113.00 L141.50,114.33 L142.00,115.59 L142.50,116.78 L143.00,117.91 L143.50,118.96 L144.00,119.95 L144.50,120.86 L145.00,121.71 L145.50,122.48 L146.00,123.19 L146.50,123.82 L147.00,124.38 L147.50,124.87 L148.00,125.28 L148.50,125.62 L149.00,125.88 L149.50,126.06 L150.00,126.16 L150.50,126.17 L151.00,126.10 L151.50,125.93 L152.00,125.67 L152.50,125.32 L153.00,124.85 L153.50,124.29 L154.00,123.60 L154.50,122.80 L155.00,121.88 L155.50,120.83 L156.00,119.66 L156.50,118.34 L157.00,116.90 L157.50,115.32 L158.00,113.61 L158.50,111.78 L159.00,109.83 L159.50,107.80 L160.00,105.70 L160.50,103.56 L161.00,101.43 L161.50,99.35 L162.00,97.39 L162.50,95.59 L163.00,94.02 L163.50,92.75 L164.00,91.83 L164.50,91.29 L165.00,91.18 L165.50,91.49 L166.00,92.22 L166.50,93.34 L167.00,94.81 L167.50,96.57 L168.00,98.56 L168.50,100.73 L169.00,103.00 L169.50,105.32 L170.00,107.65 L170.50,109.95 L171.00,112.18 L171.50,114.32 L172.00,116.35 L172.50,118.25 L173.00,120.04 L173.50,121.69 L174.00,123.21 L174.50,124.61 L175.00,125.88 L175.50,127.04 L176.00,128.09 L176.50,129.04 L177.00,129.90 L177.50,130.67 L178.00,131.37 L178.50,132.00 L179.00,132.58 L179.50,133.10 L180.00,133.59 L180.50,134.04 L181.00,134.48 L181.50,134.90 L182.00,135.31 L182.50,135.73 L183.00,136.15 L183.50,136.59 L184.00,137.04 L184.50,137.52 L185.00,138.03 L185.50,138.57 L186.00,139.13 L186.50,139.72 L187.00,140.35 L187.50,140.99 L188.00,141.67 L188.50,142.36 L189.00,143.07 L189.50,143.80 L190.00,144.53 L190.50,145.27 L191.00,146.02 L191.50,146.76 L192.00,147.50 L192.50,148.24 L193.00,148.96 L193.50,149.67 L194.00,150.37 L194.50,151.05 L195.00,151.72 L195.50,152.37 L196.00,153.00 L196.50,153.61 L197.00,154.21 L197.50,154.78 L198.00,155.34 L198.50,155.87 L199.00,156.39 L199.50,156.88 L200.00,157.36 L200.50,157.83 L201.00,158.27 L201.50,158.70 L202.00,159.11 L202.50,159.51 L203.00,159.89 L203.50,160.26 L204.00,160.61 L204.50,160.95 L205.00,161.27 L205.50,161.59 L206.00,161.89 L206.50,162.19 L207.00,162.47 L207.50,162.74 L208.00,163.00 L208.50,163.25 L209.00,163.49 L209.50,163.73 L210.00,163.95 L210.50,164.17 L211.00,164.38 L211.50,164.59 L212.00,164.79 L212.50,164.98 L213.00,165.16 L213.50,165.34 L214.00,165.51 L214.50,165.68 L215.00,165.84 L215.50,166.00 L216.00,166.15 L216.50,166.30 L217.00,166.44 L217.50,166.58 L218.00,166.71 L218.50,166.85 L219.00,166.97 L219.50,167.10 L220.00,167.22 L220.50,167.33 L221.00,167.45 L221.50,167.56 L222.00,167.66 L222.50,167.77 L223.00,167.87 L223.50,167.97 L224.00,168.07 L224.50,168.16 L225.00,168.25 L225.50,168.34 L226.00,168.43 L226.50,168.51 L227.00,168.60 L227.50,168.68 L228.00,168.76 L228.50,168.84 L229.00,168.91 L229.50,168.98 L230.00,169.06 L230.50,169.13 L231.00,169.20 L231.50,169.26 L232.00,169.33 L232.50,169.39 L233.00,169.46 L233.50,169.52 L234.00,169.58 L234.50,169.64 L235.00,169.70 L235.50,169.75 L236.00,169.81 L236.50,169.86 L237.00,169.92 L237.50,169.97 L238.00,170.02 L238.50,170.07 L239.00,170.12 L239.50,170.17 L240.00,170.21 L240.50,170.26 L241.00,170.31 L241.50,170.35 L242.00,170.39 L242.50,170.44 L243.00,170.48 L243.50,170.52 L244.00,170.56 L244.50,170.60 L245.00,170.64 L245.50,170.68 L246.00,170.72 L246.50,170.75 L247.00,170.79 L247.50,170.83 L248.00,170.86 L248.50,170.90 L249.00,170.93 L249.50,170.97 L250.00,171.00 L250.50,171.03 L251.00,171.06 L251.50,171.10 L252.00,171.13 L252.50,171.16 L253.00,171.19 L253.50,171.22 L254.00,171.25 L254.50,171.27 L255.00,171.30 L255.50,171.33 L256.00,171.36 L256.50,171.38 L257.00,171.41 L257.50,171.44 L258.00,171.46 L258.50,171.49 L259.00,171.51 L259.50,171.54 L260.00,171.56 L260.50,171.59 L261.00,171.61 L261.50,171.63 L262.00,171.66 L262.50,171.68 L263.00,171.70 L263.50,171.72 L264.00,171.74 L264.50,171.77 L265.00,171.79 L265.50,171.81 L266.00,171.83 L266.50,171.85 L267.00,171.87 L267.50,171.89 L268.00,171.91 L268.50,171.93 L269.00,171.95 L269.50,171.96 L270.00,171.98 L270.50,172.00 L271.00,172.02 L271.50,172.04 L272.00,172.05 L272.50,172.07 L273.00,172.09 L273.50,172.10 L274.00,172.12 L274.50,172.14 L275.00,172.15 L275.50,172.17 L276.00,172.19 L276.50,172.20 L277.00,172.22 L277.50,172.23 L278.00,172.25 L278.50,172.26 L279.00,172.28" fill="none" stroke="rgba(250,30,250,0.72)" stroke-width="1.9" stroke-linejoin="round" stroke-linecap="round" />
<line x1="28.50" y1="183.50" x2="279.30" y2="183.50" stroke="#333" stroke-width="1.1"/>
<line x1="28.50" y1="183.00" x2="28.50" y2="188.70" stroke="#333" stroke-width="1.1"/>
<line x1="38.53" y1="183.00" x2="38.53" y2="186.40" stroke="#333" stroke-width="1.1"/>
<line x1="48.56" y1="183.00" x2="48.56" y2="186.40" stroke="#333" stroke-width="1.1"/>
<line x1="58.59" y1="183.00" x2="58.59" y2="186.40" stroke="#333" stroke-width="1.1"/>
<line x1="68.62" y1="183.00" x2="68.62" y2="186.40" stroke="#333" stroke-width="1.1"/>
<line x1="78.65" y1="183.00" x2="78.65" y2="188.70" stroke="#333" stroke-width="1.1"/>
<line x1="88.68" y1="183.00" x2="88.68" y2="186.40" stroke="#333" stroke-width="1.1"/>
<line x1="98.71" y1="183.00" x2="98.71" y2="186.40" stroke="#333" stroke-width="1.1"/>
<line x1="108.74" y1="183.00" x2="108.74" y2="186.40" stroke="#333" stroke-width="1.1"/>
<line x1="118.77" y1="183.00" x2="118.77" y2="186.40" stroke="#333" stroke-width="1.1"/>
<line x1="128.80" y1="183.00" x2="128.80" y2="188.70" stroke="#333" stroke-width="1.1"/>
<line x1="138.83" y1="183.00" x2="138.83" y2="186.40" stroke="#333" stroke-width="1.1"/>
<line x1="148.86" y1="183.00" x2="148.86" y2="186.40" stroke="#333" stroke-width="1.1"/>
<line x1="158.89" y1="183.00" x2="158.89" y2="186.40" stroke="#333" stroke-width="1.1"/>
<line x1="168.92" y1="183.00" x2="168.92" y2="186.40" stroke="#333" stroke-width="1.1"/>
<line x1="178.95" y1="183.00" x2="178.95" y2="188.70" stroke="#333" stroke-width="1.1"/>
<line x1="188.98" y1="183.00" x2="188.98" y2="186.40" stroke="#333" stroke-width="1.1"/>
<line x1="199.01" y1="183.00" x2="199.01" y2="186.40" stroke="#333" stroke-width="1.1"/>
<line x1="209.04" y1="183.00" x2="209.04" y2="186.40" stroke="#333" stroke-width="1.1"/>
<line x1="219.07" y1="183.00" x2="219.07" y2="186.40" stroke="#333" stroke-width="1.1"/>
<line x1="229.10" y1="183.00" x2="229.10" y2="188.70" stroke="#333" stroke-width="1.1"/>
<line x1="239.13" y1="183.00" x2="239.13" y2="186.40" stroke="#333" stroke-width="1.1"/>
<line x1="249.16" y1="183.00" x2="249.16" y2="186.40" stroke="#333" stroke-width="1.1"/>
<line x1="259.19" y1="183.00" x2="259.19" y2="186.40" stroke="#333" stroke-width="1.1"/>
<line x1="269.22" y1="183.00" x2="269.22" y2="186.40" stroke="#333" stroke-width="1.1"/>
<line x1="279.25" y1="183.00" x2="279.25" y2="188.70" stroke="#333" stroke-width="1.1"/>
<text transform="translate(13.61 209.90) scale(1.0 1)" font-size="18.2" fill="#111">−63</text>
<text transform="translate(63.62 209.90) scale(1.0 1)" font-size="18.2" fill="#111">−64</text>
<text transform="translate(113.88 209.90) scale(1.0 1)" font-size="18.2" fill="#111">−65</text>
<text transform="translate(164.06 209.90) scale(1.0 1)" font-size="18.2" fill="#111">−66</text>
<text transform="translate(214.28 209.90) scale(1.0 1)" font-size="18.2" fill="#111">−67</text>
<text transform="translate(264.36 209.90) scale(1.0 1)" font-size="18.2" fill="#111">−68</text>
<text transform="translate(136.75 234.40) scale(1.0 1)" font-size="18.2" fill="#111">ppm</text>
<text transform="translate(95.90 61.70) scale(1.0 1)" font-size="18.2" fill="#fa1010">S1</text>
<text transform="translate(153.32 83.70) scale(1.0 1)" font-size="18.2" fill="#1c2cff">S2</text>
<text transform="translate(180.85 133.40) scale(1.0 1)" font-size="18.2" fill="#1c2cff">S3</text>
<text transform="translate(26.02 85.90) scale(1.0 1)" font-size="18.6" fill="#111">+ Ni</text>
<text transform="translate(58.57 77.90) scale(1.12 1)" font-size="11.2" fill="#111">2+</text>
<line x1="234.50" y1="14.60" x2="234.50" y2="86.90" stroke="#333" stroke-width="1"/>
<line x1="234.00" y1="86.50" x2="340.90" y2="86.50" stroke="#333" stroke-width="1"/>
<line x1="230.90" y1="78.80" x2="234.50" y2="78.80" stroke="#333" stroke-width="1"/>
<line x1="232.30" y1="70.90" x2="234.50" y2="70.90" stroke="#333" stroke-width="1"/>
<line x1="230.90" y1="63.00" x2="234.50" y2="63.00" stroke="#333" stroke-width="1"/>
<line x1="232.30" y1="55.10" x2="234.50" y2="55.10" stroke="#333" stroke-width="1"/>
<line x1="230.90" y1="47.20" x2="234.50" y2="47.20" stroke="#333" stroke-width="1"/>
<line x1="232.30" y1="39.30" x2="234.50" y2="39.30" stroke="#333" stroke-width="1"/>
<line x1="230.90" y1="31.40" x2="234.50" y2="31.40" stroke="#333" stroke-width="1"/>
<line x1="232.30" y1="23.50" x2="234.50" y2="23.50" stroke="#333" stroke-width="1"/>
<line x1="230.90" y1="15.60" x2="234.50" y2="15.60" stroke="#333" stroke-width="1"/>
<text transform="translate(211.48 82.90) scale(1.0 1)" font-size="12.7" fill="#111">30</text>
<text transform="translate(211.48 67.10) scale(1.0 1)" font-size="12.7" fill="#111">40</text>
<text transform="translate(211.48 51.30) scale(1.0 1)" font-size="12.7" fill="#111">50</text>
<text transform="translate(211.48 35.50) scale(1.0 1)" font-size="12.7" fill="#111">60</text>
<text transform="translate(211.48 19.70) scale(1.0 1)" font-size="12.7" fill="#111">70</text>
<line x1="234.50" y1="86.50" x2="234.50" y2="90.30" stroke="#333" stroke-width="1"/>
<line x1="252.15" y1="86.50" x2="252.15" y2="88.70" stroke="#333" stroke-width="1"/>
<line x1="269.80" y1="86.50" x2="269.80" y2="90.30" stroke="#333" stroke-width="1"/>
<line x1="287.45" y1="86.50" x2="287.45" y2="88.70" stroke="#333" stroke-width="1"/>
<line x1="305.10" y1="86.50" x2="305.10" y2="90.30" stroke="#333" stroke-width="1"/>
<line x1="322.75" y1="86.50" x2="322.75" y2="88.70" stroke="#333" stroke-width="1"/>
<line x1="340.40" y1="86.50" x2="340.40" y2="90.30" stroke="#333" stroke-width="1"/>
<text transform="translate(230.96 104.70) scale(1.0 1)" font-size="12.7" fill="#111">0</text>
<text transform="translate(258.97 104.70) scale(1.0 1)" font-size="12.7" fill="#111">100</text>
<text transform="translate(294.43 104.70) scale(1.0 1)" font-size="12.7" fill="#111">200</text>
<text transform="translate(329.81 104.70) scale(1.0 1)" font-size="12.7" fill="#111">300</text>
<path d="M234.50,83.22 L235.21,81.52 L235.91,79.86 L236.62,78.24 L237.32,76.66 L238.03,75.13 L238.74,73.63 L239.44,72.17 L240.15,70.74 L240.85,69.35 L241.56,68.00 L242.27,66.68 L242.97,65.40 L243.68,64.14 L244.38,62.92 L245.09,61.73 L245.80,60.57 L246.50,59.44 L247.21,58.34 L247.91,57.27 L248.62,56.22 L249.33,55.20 L250.03,54.21 L250.74,53.24 L251.44,52.29 L252.15,51.37 L252.86,50.47 L253.56,49.60 L254.27,48.75 L254.97,47.91 L255.68,47.10 L256.39,46.31 L257.09,45.55 L257.80,44.80 L258.50,44.06 L259.21,43.35 L259.92,42.66 L260.62,41.98 L261.33,41.32 L262.03,40.68 L262.74,40.05 L263.45,39.44 L264.15,38.84 L264.86,38.26 L265.56,37.70 L266.27,37.15 L266.98,36.61 L267.68,36.09 L268.39,35.57 L269.09,35.08 L269.80,34.59 L270.51,34.12 L271.21,33.66 L271.92,33.21 L272.62,32.77 L273.33,32.34 L274.04,31.93 L274.74,31.52 L275.45,31.13 L276.15,30.74 L276.86,30.37 L277.57,30.00 L278.27,29.65 L278.98,29.30 L279.68,28.96 L280.39,28.63 L281.10,28.31 L281.80,27.99 L282.51,27.69 L283.21,27.39 L283.92,27.10 L284.63,26.82 L285.33,26.54 L286.04,26.27 L286.74,26.01 L287.45,25.75 L288.16,25.50 L288.86,25.26 L289.57,25.03 L290.27,24.79 L290.98,24.57 L291.69,24.35 L292.39,24.14 L293.10,23.93 L293.80,23.73 L294.51,23.53 L295.22,23.34 L295.92,23.15 L296.63,22.96 L297.33,22.79 L298.04,22.61 L298.75,22.44 L299.45,22.28 L300.16,22.12 L300.86,21.96 L301.57,21.81 L302.28,21.66 L302.98,21.51 L303.69,21.37 L304.39,21.23 L305.10,21.10 L305.81,20.97 L306.51,20.84 L307.22,20.71 L307.92,20.59 L308.63,20.47 L309.34,20.36 L310.04,20.25 L310.75,20.14 L311.45,20.03 L312.16,19.93 L312.87,19.82 L313.57,19.73 L314.28,19.63 L314.98,19.54 L315.69,19.44 L316.40,19.35 L317.10,19.27 L317.81,19.18 L318.51,19.10 L319.22,19.02 L319.93,18.94 L320.63,18.86 L321.34,18.79 L322.04,18.72 L322.75,18.65 L323.46,18.58 L324.16,18.51 L324.87,18.44 L325.57,18.38 L326.28,18.32 L326.99,18.26 L327.69,18.20 L328.40,18.14 L329.10,18.08 L329.81,18.03 L330.52,17.97 L331.22,17.92 L331.93,17.87 L332.63,17.82 L333.34,17.77" fill="none" stroke="#f0230f" stroke-width="2.4" stroke-linejoin="round" stroke-linecap="round" />
<rect x="236.43" y="74.83" width="3.2" height="3.2" fill="#111"/>
<rect x="243.49" y="64.56" width="3.2" height="3.2" fill="#111"/>
<rect x="250.55" y="54.29" width="3.2" height="3.2" fill="#111"/>
<rect x="257.61" y="43.23" width="3.2" height="3.2" fill="#111"/>
<rect x="271.73" y="28.22" width="3.2" height="3.2" fill="#111"/>
<rect x="285.85" y="20.32" width="3.2" height="3.2" fill="#111"/>
<rect x="307.03" y="21.11" width="3.2" height="3.2" fill="#111"/>
<rect x="331.74" y="17.16" width="3.2" height="3.2" fill="#111"/>
<text transform="translate(197.90 51.40) rotate(-90) scale(1.0 1)" x="-19.30" font-size="12.7" fill="#111">S1 (%)</text>
<text transform="translate(259.01 129.80) scale(1.0 1)" font-size="12.7" fill="#111">[Ni</text>
<text transform="translate(273.97 123.00) scale(1.0 1)" font-size="8.6" fill="#111">2+</text>
<text transform="translate(282.56 129.80) scale(1.0 1)" font-size="12.7" fill="#111">] (µM)</text>
<line x1="460.90" y1="32.90" x2="460.90" y2="173.40" stroke="#444" stroke-width="1"/>
<line x1="456.10" y1="171.40" x2="460.90" y2="171.40" stroke="#444" stroke-width="1"/>
<line x1="457.90" y1="154.53" x2="460.90" y2="154.53" stroke="#444" stroke-width="1"/>
<line x1="456.10" y1="137.65" x2="460.90" y2="137.65" stroke="#444" stroke-width="1"/>
<line x1="457.90" y1="120.78" x2="460.90" y2="120.78" stroke="#444" stroke-width="1"/>
<line x1="456.10" y1="103.90" x2="460.90" y2="103.90" stroke="#444" stroke-width="1"/>
<line x1="457.90" y1="87.03" x2="460.90" y2="87.03" stroke="#444" stroke-width="1"/>
<line x1="456.10" y1="70.15" x2="460.90" y2="70.15" stroke="#444" stroke-width="1"/>
<line x1="457.90" y1="53.28" x2="460.90" y2="53.28" stroke="#444" stroke-width="1"/>
<line x1="456.10" y1="36.40" x2="460.90" y2="36.40" stroke="#444" stroke-width="1"/>
<text transform="translate(422.78 41.70) scale(1.0 1)" font-size="18.2" fill="#111">1.0</text>
<text transform="translate(422.83 75.45) scale(1.0 1)" font-size="18.2" fill="#111">0.5</text>
<text transform="translate(437.98 109.20) scale(1.0 1)" font-size="18.2" fill="#111">0</text>
<text transform="translate(412.23 142.95) scale(1.0 1)" font-size="18.2" fill="#111">−0.5</text>
<text transform="translate(412.18 176.70) scale(1.0 1)" font-size="18.2" fill="#111">−1.0</text>
<line x1="460.90" y1="103.90" x2="673.40" y2="103.90" stroke="#8a8a8a" stroke-width="1.2"/>
<line x1="487.40" y1="103.90" x2="487.40" y2="108.20" stroke="#8a8a8a" stroke-width="1.2"/>
<line x1="513.90" y1="103.90" x2="513.90" y2="108.20" stroke="#8a8a8a" stroke-width="1.2"/>
<line x1="540.40" y1="103.90" x2="540.40" y2="108.20" stroke="#8a8a8a" stroke-width="1.2"/>
<line x1="566.90" y1="103.90" x2="566.90" y2="108.20" stroke="#8a8a8a" stroke-width="1.2"/>
<line x1="593.40" y1="103.90" x2="593.40" y2="108.20" stroke="#8a8a8a" stroke-width="1.2"/>
<line x1="619.90" y1="103.90" x2="619.90" y2="108.20" stroke="#8a8a8a" stroke-width="1.2"/>
<line x1="646.40" y1="103.90" x2="646.40" y2="108.20" stroke="#8a8a8a" stroke-width="1.2"/>
<line x1="672.90" y1="103.90" x2="672.90" y2="108.20" stroke="#8a8a8a" stroke-width="1.2"/>
<text transform="translate(501.25 130.30) scale(1.0 1)" font-size="18.2" fill="#111">0.5</text>
<text transform="translate(553.91 130.30) scale(1.0 1)" font-size="18.2" fill="#111">1.0</text>
<text transform="translate(606.93 130.30) scale(1.0 1)" font-size="18.2" fill="#111">1.5</text>
<text transform="translate(660.14 130.30) scale(1.0 1)" font-size="18.2" fill="#111">2.0</text>
<text transform="translate(593.50 74.80) scale(1.0 1)" font-size="18.2" fill="#fa1010">S1</text>
<text transform="translate(395.30 103.40) rotate(-90) scale(1.0 1)" x="-34.72" font-size="18.2" fill="#111">Intensity</text>
<path d="M460.90,168.03 L461.43,162.67 L461.96,157.54 L462.49,152.62 L463.02,147.89 L463.55,143.36 L464.08,139.01 L464.61,134.84 L465.14,130.84 L465.67,127.00 L466.20,123.32 L466.73,119.78 L467.26,116.39 L467.79,113.14 L468.32,110.02 L468.85,107.03 L469.38,104.16 L469.91,101.40 L470.44,98.76 L470.97,96.23 L471.50,93.79 L472.03,91.46 L472.56,89.22 L473.09,87.08 L473.62,85.02 L474.15,83.04 L474.68,81.14 L475.21,79.33 L475.74,77.58 L476.27,75.91 L476.80,74.30 L477.33,72.76 L477.86,71.28 L478.39,69.86 L478.92,68.50 L479.45,67.20 L479.98,65.95 L480.51,64.75 L481.04,63.59 L481.57,62.49 L482.10,61.43 L482.63,60.41 L483.16,59.43 L483.69,58.50 L484.22,57.60 L484.75,56.74 L485.28,55.91 L485.81,55.12 L486.34,54.36 L486.87,53.63 L487.40,52.93 L487.93,52.25 L488.46,51.61 L488.99,50.99 L489.52,50.40 L490.05,49.83 L490.58,49.28 L491.11,48.76 L491.64,48.26 L492.17,47.78 L492.70,47.31 L493.23,46.87 L493.76,46.44 L494.29,46.04 L494.82,45.64 L495.35,45.27 L495.88,44.91 L496.41,44.56 L496.94,44.23 L497.47,43.91 L498.00,43.61 L498.53,43.31 L499.06,43.03 L499.59,42.76 L500.12,42.50 L500.65,42.26 L501.18,42.02 L501.71,41.79 L502.24,41.57 L502.77,41.36 L503.30,41.16 L503.83,40.97 L504.36,40.78 L504.89,40.60 L505.42,40.43 L505.95,40.27 L506.48,40.11 L507.01,39.96 L507.54,39.81 L508.07,39.68 L508.60,39.54 L509.13,39.41 L509.66,39.29 L510.19,39.17 L510.72,39.06 L511.25,38.95 L511.78,38.85 L512.31,38.75 L512.84,38.65 L513.37,38.56 L513.90,38.47 L514.43,38.39 L514.96,38.31 L515.49,38.23 L516.02,38.16 L516.55,38.09 L517.08,38.02 L517.61,37.95 L518.14,37.89 L518.67,37.83 L519.20,37.77 L519.73,37.71 L520.26,37.66 L520.79,37.61 L521.32,37.56 L521.85,37.51 L522.38,37.47 L522.91,37.42 L523.44,37.38 L523.97,37.34 L524.50,37.30 L525.03,37.27 L525.56,37.23 L526.09,37.20 L526.62,37.17 L527.15,37.14 L527.68,37.11 L528.21,37.08 L528.74,37.05 L529.27,37.02 L529.80,37.00 L530.33,36.97 L530.86,36.95 L531.39,36.93 L531.92,36.91 L532.45,36.89 L532.98,36.87 L533.51,36.85 L534.04,36.83 L534.57,36.81 L535.10,36.79 L535.63,36.78 L536.16,36.76 L536.69,36.75 L537.22,36.73 L537.75,36.72 L538.28,36.71 L538.81,36.70 L539.34,36.68 L539.87,36.67 L540.40,36.66 L540.93,36.65 L541.46,36.64 L541.99,36.63 L542.52,36.62 L543.05,36.61 L543.58,36.60 L544.11,36.59 L544.64,36.59 L545.17,36.58 L545.70,36.57 L546.23,36.57 L546.76,36.56 L547.29,36.55 L547.82,36.55 L548.35,36.54 L548.88,36.53 L549.41,36.53 L549.94,36.52 L550.47,36.52 L551.00,36.51 L551.53,36.51 L552.06,36.50 L552.59,36.50 L553.12,36.50 L553.65,36.49 L554.18,36.49 L554.71,36.48 L555.24,36.48 L555.77,36.48 L556.30,36.48 L556.83,36.47 L557.36,36.47 L557.89,36.47 L558.42,36.46 L558.95,36.46 L559.48,36.46 L560.01,36.46 L560.54,36.45 L561.07,36.45 L561.60,36.45 L562.13,36.45 L562.66,36.45 L563.19,36.44 L563.72,36.44 L564.25,36.44 L564.78,36.44 L565.31,36.44 L565.84,36.44 L566.37,36.43 L566.90,36.43 L567.43,36.43 L567.96,36.43 L568.49,36.43 L569.02,36.43 L569.55,36.43 L570.08,36.43 L570.61,36.42 L571.14,36.42 L571.67,36.42 L572.20,36.42 L572.73,36.42 L573.26,36.42 L573.79,36.42 L574.32,36.42 L574.85,36.42 L575.38,36.42 L575.91,36.42 L576.44,36.42 L576.97,36.41 L577.50,36.41 L578.03,36.41 L578.56,36.41 L579.09,36.41 L579.62,36.41 L580.15,36.41 L580.68,36.41 L581.21,36.41 L581.74,36.41 L582.27,36.41 L582.80,36.41 L583.33,36.41 L583.86,36.41 L584.39,36.41 L584.92,36.41 L585.45,36.41 L585.98,36.41 L586.51,36.41 L587.04,36.41 L587.57,36.41 L588.10,36.41 L588.63,36.41 L589.16,36.41 L589.69,36.41 L590.22,36.41 L590.75,36.41 L591.28,36.40 L591.81,36.40 L592.34,36.40 L592.87,36.40 L593.40,36.40 L593.93,36.40 L594.46,36.40 L594.99,36.40 L595.52,36.40 L596.05,36.40 L596.58,36.40 L597.11,36.40 L597.64,36.40 L598.17,36.40 L598.70,36.40 L599.23,36.40 L599.76,36.40 L600.29,36.40 L600.82,36.40 L601.35,36.40 L601.88,36.40 L602.41,36.40 L602.94,36.40 L603.47,36.40 L604.00,36.40 L604.53,36.40 L605.06,36.40 L605.59,36.40 L606.12,36.40 L606.65,36.40 L607.18,36.40 L607.71,36.40 L608.24,36.40 L608.77,36.40 L609.30,36.40 L609.83,36.40 L610.36,36.40 L610.89,36.40 L611.42,36.40 L611.95,36.40 L612.48,36.40 L613.01,36.40 L613.54,36.40 L614.07,36.40 L614.60,36.40 L615.13,36.40 L615.66,36.40 L616.19,36.40 L616.72,36.40 L617.25,36.40 L617.78,36.40 L618.31,36.40 L618.84,36.40 L619.37,36.40 L619.90,36.40 L620.43,36.40 L620.96,36.40 L621.49,36.40 L622.02,36.40 L622.55,36.40 L623.08,36.40 L623.61,36.40 L624.14,36.40 L624.67,36.40 L625.20,36.40 L625.73,36.40 L626.26,36.40 L626.79,36.40 L627.32,36.40 L627.85,36.40 L628.38,36.40 L628.91,36.40 L629.44,36.40 L629.97,36.40 L630.50,36.40 L631.03,36.40 L631.56,36.40 L632.09,36.40 L632.62,36.40 L633.15,36.40 L633.68,36.40 L634.21,36.40 L634.74,36.40 L635.27,36.40 L635.80,36.40 L636.33,36.40 L636.86,36.40 L637.39,36.40 L637.92,36.40 L638.45,36.40 L638.98,36.40 L639.51,36.40 L640.04,36.40 L640.57,36.40 L641.10,36.40 L641.63,36.40 L642.16,36.40 L642.69,36.40 L643.22,36.40 L643.75,36.40 L644.28,36.40 L644.81,36.40 L645.34,36.40 L645.87,36.40 L646.40,36.40 L646.93,36.40 L647.46,36.40 L647.99,36.40 L648.52,36.40 L649.05,36.40 L649.58,36.40 L650.11,36.40 L650.64,36.40 L651.17,36.40 L651.70,36.40 L652.23,36.40 L652.76,36.40 L653.29,36.40 L653.82,36.40 L654.35,36.40 L654.88,36.40 L655.41,36.40 L655.94,36.40 L656.47,36.40 L657.00,36.40 L657.53,36.40 L658.06,36.40 L658.59,36.40 L659.12,36.40 L659.65,36.40 L660.18,36.40 L660.71,36.40 L661.24,36.40 L661.77,36.40 L662.30,36.40" fill="none" stroke="#f5200a" stroke-width="2.6" stroke-linejoin="round" stroke-linecap="round" />
<path d="M460.90,171.40 L461.43,169.41 L461.96,167.45 L462.49,165.52 L463.02,163.61 L463.55,161.74 L464.08,159.89 L464.61,158.07 L465.14,156.28 L465.67,154.51 L466.20,152.77 L466.73,151.05 L467.26,149.36 L467.79,147.70 L468.32,146.06 L468.85,144.44 L469.38,142.85 L469.91,141.28 L470.44,139.73 L470.97,138.21 L471.50,136.71 L472.03,135.23 L472.56,133.78 L473.09,132.34 L473.62,130.93 L474.15,129.53 L474.68,128.16 L475.21,126.81 L475.74,125.47 L476.27,124.16 L476.80,122.87 L477.33,121.59 L477.86,120.34 L478.39,119.10 L478.92,117.88 L479.45,116.68 L479.98,115.50 L480.51,114.33 L481.04,113.18 L481.57,112.05 L482.10,110.94 L482.63,109.84 L483.16,108.75 L483.69,107.69 L484.22,106.64 L484.75,105.60 L485.28,104.58 L485.81,103.58 L486.34,102.59 L486.87,101.61 L487.40,100.65 L487.93,99.70 L488.46,98.77 L488.99,97.85 L489.52,96.94 L490.05,96.05 L490.58,95.17 L491.11,94.31 L491.64,93.45 L492.17,92.61 L492.70,91.78 L493.23,90.97 L493.76,90.16 L494.29,89.37 L494.82,88.59 L495.35,87.82 L495.88,87.06 L496.41,86.32 L496.94,85.58 L497.47,84.85 L498.00,84.14 L498.53,83.44 L499.06,82.74 L499.59,82.06 L500.12,81.39 L500.65,80.72 L501.18,80.07 L501.71,79.43 L502.24,78.79 L502.77,78.17 L503.30,77.55 L503.83,76.95 L504.36,76.35 L504.89,75.76 L505.42,75.18 L505.95,74.61 L506.48,74.04 L507.01,73.49 L507.54,72.94 L508.07,72.40 L508.60,71.87 L509.13,71.35 L509.66,70.84 L510.19,70.33 L510.72,69.83 L511.25,69.33 L511.78,68.85 L512.31,68.37 L512.84,67.90 L513.37,67.44 L513.90,66.98 L514.43,66.53 L514.96,66.08 L515.49,65.65 L516.02,65.21 L516.55,64.79 L517.08,64.37 L517.61,63.96 L518.14,63.55 L518.67,63.15 L519.20,62.76 L519.73,62.37 L520.26,61.99 L520.79,61.61 L521.32,61.24 L521.85,60.87 L522.38,60.51 L522.91,60.16 L523.44,59.81 L523.97,59.46 L524.50,59.12 L525.03,58.79 L525.56,58.46 L526.09,58.13 L526.62,57.81 L527.15,57.49 L527.68,57.18 L528.21,56.88 L528.74,56.58 L529.27,56.28 L529.80,55.99 L530.33,55.70 L530.86,55.41 L531.39,55.13 L531.92,54.86 L532.45,54.58 L532.98,54.32 L533.51,54.05 L534.04,53.79 L534.57,53.54 L535.10,53.28 L535.63,53.03 L536.16,52.79 L536.69,52.55 L537.22,52.31 L537.75,52.07 L538.28,51.84 L538.81,51.62 L539.34,51.39 L539.87,51.17 L540.40,50.95 L540.93,50.74 L541.46,50.53 L541.99,50.32 L542.52,50.11 L543.05,49.91 L543.58,49.71 L544.11,49.52 L544.64,49.32 L545.17,49.13 L545.70,48.94 L546.23,48.76 L546.76,48.58 L547.29,48.40 L547.82,48.22 L548.35,48.05 L548.88,47.88 L549.41,47.71 L549.94,47.54 L550.47,47.38 L551.00,47.21 L551.53,47.05 L552.06,46.90 L552.59,46.74 L553.12,46.59 L553.65,46.44 L554.18,46.29 L554.71,46.15 L555.24,46.00 L555.77,45.86 L556.30,45.72 L556.83,45.58 L557.36,45.45 L557.89,45.31 L558.42,45.18 L558.95,45.05 L559.48,44.93 L560.01,44.80 L560.54,44.68 L561.07,44.55 L561.60,44.43 L562.13,44.32 L562.66,44.20 L563.19,44.08 L563.72,43.97 L564.25,43.86 L564.78,43.75 L565.31,43.64 L565.84,43.53 L566.37,43.43 L566.90,43.33 L567.43,43.22 L567.96,43.12 L568.49,43.02 L569.02,42.93 L569.55,42.83 L570.08,42.74 L570.61,42.64 L571.14,42.55 L571.67,42.46 L572.20,42.37 L572.73,42.28 L573.26,42.20 L573.79,42.11 L574.32,42.03 L574.85,41.94 L575.38,41.86 L575.91,41.78 L576.44,41.70 L576.97,41.62 L577.50,41.55 L578.03,41.47 L578.56,41.40 L579.09,41.32 L579.62,41.25 L580.15,41.18 L580.68,41.11 L581.21,41.04 L581.74,40.97 L582.27,40.90 L582.80,40.84 L583.33,40.77 L583.86,40.71 L584.39,40.64 L584.92,40.58 L585.45,40.52 L585.98,40.46 L586.51,40.40 L587.04,40.34 L587.57,40.28 L588.10,40.22 L588.63,40.17 L589.16,40.11 L589.69,40.06 L590.22,40.00 L590.75,39.95 L591.28,39.90 L591.81,39.85 L592.34,39.80 L592.87,39.75 L593.40,39.70 L593.93,39.65 L594.46,39.60 L594.99,39.55 L595.52,39.51 L596.05,39.46 L596.58,39.42 L597.11,39.37 L597.64,39.33 L598.17,39.28 L598.70,39.24 L599.23,39.20 L599.76,39.16 L600.29,39.12 L600.82,39.08 L601.35,39.04 L601.88,39.00 L602.41,38.96 L602.94,38.92 L603.47,38.89 L604.00,38.85 L604.53,38.81 L605.06,38.78 L605.59,38.74 L606.12,38.71 L606.65,38.67 L607.18,38.64 L607.71,38.61 L608.24,38.57 L608.77,38.54 L609.30,38.51 L609.83,38.48 L610.36,38.45 L610.89,38.42 L611.42,38.39 L611.95,38.36 L612.48,38.33 L613.01,38.30 L613.54,38.27 L614.07,38.25 L614.60,38.22 L615.13,38.19 L615.66,38.17 L616.19,38.14 L616.72,38.11 L617.25,38.09 L617.78,38.06 L618.31,38.04 L618.84,38.02 L619.37,37.99 L619.90,37.97 L620.43,37.95 L620.96,37.92 L621.49,37.90 L622.02,37.88 L622.55,37.86 L623.08,37.84 L623.61,37.81 L624.14,37.79 L624.67,37.77 L625.20,37.75 L625.73,37.73 L626.26,37.71 L626.79,37.69 L627.32,37.67 L627.85,37.66 L628.38,37.64 L628.91,37.62 L629.44,37.60 L629.97,37.58 L630.50,37.57 L631.03,37.55 L631.56,37.53 L632.09,37.51 L632.62,37.50 L633.15,37.48 L633.68,37.47 L634.21,37.45 L634.74,37.44 L635.27,37.42 L635.80,37.40 L636.33,37.39 L636.86,37.38 L637.39,37.36 L637.92,37.35 L638.45,37.33 L638.98,37.32 L639.51,37.31 L640.04,37.29 L640.57,37.28 L641.10,37.27 L641.63,37.25 L642.16,37.24 L642.69,37.23 L643.22,37.22 L643.75,37.20 L644.28,37.19 L644.81,37.18 L645.34,37.17 L645.87,37.16 L646.40,37.15 L646.93,37.14 L647.46,37.12 L647.99,37.11 L648.52,37.10 L649.05,37.09 L649.58,37.08 L650.11,37.07 L650.64,37.06 L651.17,37.05 L651.70,37.04 L652.23,37.03 L652.76,37.02 L653.29,37.02 L653.82,37.01 L654.35,37.00 L654.88,36.99 L655.41,36.98 L655.94,36.97 L656.47,36.96 L657.00,36.95 L657.53,36.95 L658.06,36.94 L658.59,36.93 L659.12,36.92 L659.65,36.92 L660.18,36.91 L660.71,36.90 L661.24,36.89 L661.77,36.89 L662.30,36.88" fill="none" stroke="#000" stroke-width="2.6" stroke-linejoin="round" stroke-linecap="round" />
<rect x="457.70" y="161.45" width="6.4" height="6.4" fill="none" stroke="#f5200a" stroke-width="2.1"/>
<rect x="457.70" y="168.20" width="6.4" height="6.4" fill="none" stroke="#f5200a" stroke-width="2.1"/>
<rect x="463.00" y="120.95" width="6.4" height="6.4" fill="none" stroke="#f5200a" stroke-width="2.1"/>
<rect x="468.30" y="91.92" width="6.4" height="6.4" fill="none" stroke="#f5200a" stroke-width="2.1"/>
<rect x="478.90" y="59.53" width="6.4" height="6.4" fill="none" stroke="#f5200a" stroke-width="2.1"/>
<rect x="500.10" y="38.60" width="6.4" height="6.4" fill="none" stroke="#f5200a" stroke-width="2.1"/>
<rect x="542.50" y="33.88" width="6.4" height="6.4" fill="none" stroke="#f5200a" stroke-width="2.1"/>
<rect x="595.50" y="33.20" width="6.4" height="6.4" fill="none" stroke="#f5200a" stroke-width="2.1"/>
<rect x="659.10" y="35.23" width="6.4" height="6.4" fill="none" stroke="#f5200a" stroke-width="2.1"/>
<circle cx="460.90" cy="171.40" r="3.5" fill="none" stroke="#000" stroke-width="2.2"/>
<circle cx="460.90" cy="169.38" r="3.5" fill="none" stroke="#000" stroke-width="2.2"/>
<circle cx="460.90" cy="170.73" r="3.5" fill="none" stroke="#000" stroke-width="2.2"/>
<circle cx="466.20" cy="151.82" r="3.5" fill="none" stroke="#000" stroke-width="2.2"/>
<circle cx="471.50" cy="137.65" r="3.5" fill="none" stroke="#000" stroke-width="2.2"/>
<circle cx="482.10" cy="112.34" r="3.5" fill="none" stroke="#000" stroke-width="2.2"/>
<circle cx="503.30" cy="77.58" r="3.5" fill="none" stroke="#000" stroke-width="2.2"/>
<circle cx="545.70" cy="47.88" r="3.5" fill="none" stroke="#000" stroke-width="2.2"/>
<circle cx="598.70" cy="37.75" r="3.5" fill="none" stroke="#000" stroke-width="2.2"/>
<circle cx="662.30" cy="36.40" r="3.5" fill="none" stroke="#000" stroke-width="2.2"/>
<line x1="460.90" y1="192.70" x2="460.90" y2="333.20" stroke="#444" stroke-width="1"/>
<line x1="456.10" y1="331.20" x2="460.90" y2="331.20" stroke="#444" stroke-width="1"/>
<line x1="457.90" y1="314.32" x2="460.90" y2="314.32" stroke="#444" stroke-width="1"/>
<line x1="456.10" y1="297.45" x2="460.90" y2="297.45" stroke="#444" stroke-width="1"/>
<line x1="457.90" y1="280.57" x2="460.90" y2="280.57" stroke="#444" stroke-width="1"/>
<line x1="456.10" y1="263.70" x2="460.90" y2="263.70" stroke="#444" stroke-width="1"/>
<line x1="457.90" y1="246.82" x2="460.90" y2="246.82" stroke="#444" stroke-width="1"/>
<line x1="456.10" y1="229.95" x2="460.90" y2="229.95" stroke="#444" stroke-width="1"/>
<line x1="457.90" y1="213.07" x2="460.90" y2="213.07" stroke="#444" stroke-width="1"/>
<line x1="456.10" y1="196.20" x2="460.90" y2="196.20" stroke="#444" stroke-width="1"/>
<text transform="translate(422.78 201.50) scale(1.0 1)" font-size="18.2" fill="#111">1.0</text>
<text transform="translate(422.83 235.25) scale(1.0 1)" font-size="18.2" fill="#111">0.5</text>
<text transform="translate(437.98 269.00) scale(1.0 1)" font-size="18.2" fill="#111">0</text>
<text transform="translate(412.23 302.75) scale(1.0 1)" font-size="18.2" fill="#111">−0.5</text>
<text transform="translate(412.18 336.50) scale(1.0 1)" font-size="18.2" fill="#111">−1.0</text>
<line x1="460.90" y1="263.70" x2="673.40" y2="263.70" stroke="#8a8a8a" stroke-width="1.2"/>
<line x1="487.40" y1="263.70" x2="487.40" y2="268.00" stroke="#8a8a8a" stroke-width="1.2"/>
<line x1="513.90" y1="263.70" x2="513.90" y2="268.00" stroke="#8a8a8a" stroke-width="1.2"/>
<line x1="540.40" y1="263.70" x2="540.40" y2="268.00" stroke="#8a8a8a" stroke-width="1.2"/>
<line x1="566.90" y1="263.70" x2="566.90" y2="268.00" stroke="#8a8a8a" stroke-width="1.2"/>
<line x1="593.40" y1="263.70" x2="593.40" y2="268.00" stroke="#8a8a8a" stroke-width="1.2"/>
<line x1="619.90" y1="263.70" x2="619.90" y2="268.00" stroke="#8a8a8a" stroke-width="1.2"/>
<line x1="646.40" y1="263.70" x2="646.40" y2="268.00" stroke="#8a8a8a" stroke-width="1.2"/>
<line x1="672.90" y1="263.70" x2="672.90" y2="268.00" stroke="#8a8a8a" stroke-width="1.2"/>
<text transform="translate(501.25 290.10) scale(1.0 1)" font-size="18.2" fill="#111">0.5</text>
<text transform="translate(553.91 290.10) scale(1.0 1)" font-size="18.2" fill="#111">1.0</text>
<text transform="translate(606.93 290.10) scale(1.0 1)" font-size="18.2" fill="#111">1.5</text>
<text transform="translate(660.14 290.10) scale(1.0 1)" font-size="18.2" fill="#111">2.0</text>
<text transform="translate(593.52 234.60) scale(1.0 1)" font-size="18.2" fill="#1c2cff">S2</text>
<text transform="translate(395.30 263.20) rotate(-90) scale(1.0 1)" x="-34.72" font-size="18.2" fill="#111">Intensity</text>
<path d="M460.90,321.07 L461.43,318.85 L461.96,316.66 L462.49,314.51 L463.02,312.40 L463.55,310.33 L464.08,308.29 L464.61,306.29 L465.14,304.33 L465.67,302.40 L466.20,300.50 L466.73,298.64 L467.26,296.82 L467.79,295.02 L468.32,293.26 L468.85,291.53 L469.38,289.83 L469.91,288.16 L470.44,286.52 L470.97,284.90 L471.50,283.32 L472.03,281.77 L472.56,280.24 L473.09,278.74 L473.62,277.27 L474.15,275.82 L474.68,274.40 L475.21,273.01 L475.74,271.64 L476.27,270.29 L476.80,268.97 L477.33,267.67 L477.86,266.40 L478.39,265.15 L478.92,263.92 L479.45,262.71 L479.98,261.52 L480.51,260.36 L481.04,259.21 L481.57,258.09 L482.10,256.98 L482.63,255.90 L483.16,254.83 L483.69,253.79 L484.22,252.76 L484.75,251.75 L485.28,250.76 L485.81,249.79 L486.34,248.83 L486.87,247.89 L487.40,246.97 L487.93,246.06 L488.46,245.18 L488.99,244.30 L489.52,243.44 L490.05,242.60 L490.58,241.77 L491.11,240.96 L491.64,240.16 L492.17,239.38 L492.70,238.61 L493.23,237.85 L493.76,237.11 L494.29,236.38 L494.82,235.66 L495.35,234.96 L495.88,234.27 L496.41,233.59 L496.94,232.92 L497.47,232.26 L498.00,231.62 L498.53,230.99 L499.06,230.37 L499.59,229.76 L500.12,229.16 L500.65,228.57 L501.18,228.00 L501.71,227.43 L502.24,226.87 L502.77,226.32 L503.30,225.79 L503.83,225.26 L504.36,224.74 L504.89,224.23 L505.42,223.73 L505.95,223.24 L506.48,222.76 L507.01,222.28 L507.54,221.82 L508.07,221.36 L508.60,220.91 L509.13,220.47 L509.66,220.04 L510.19,219.61 L510.72,219.20 L511.25,218.79 L511.78,218.38 L512.31,217.99 L512.84,217.60 L513.37,217.22 L513.90,216.84 L514.43,216.47 L514.96,216.11 L515.49,215.76 L516.02,215.41 L516.55,215.07 L517.08,214.73 L517.61,214.40 L518.14,214.07 L518.67,213.75 L519.20,213.44 L519.73,213.13 L520.26,212.83 L520.79,212.54 L521.32,212.24 L521.85,211.96 L522.38,211.68 L522.91,211.40 L523.44,211.13 L523.97,210.86 L524.50,210.60 L525.03,210.34 L525.56,210.09 L526.09,209.84 L526.62,209.60 L527.15,209.36 L527.68,209.13 L528.21,208.90 L528.74,208.67 L529.27,208.45 L529.80,208.23 L530.33,208.01 L530.86,207.80 L531.39,207.60 L531.92,207.39 L532.45,207.19 L532.98,207.00 L533.51,206.80 L534.04,206.62 L534.57,206.43 L535.10,206.25 L535.63,206.07 L536.16,205.89 L536.69,205.72 L537.22,205.55 L537.75,205.38 L538.28,205.22 L538.81,205.06 L539.34,204.90 L539.87,204.74 L540.40,204.59 L540.93,204.44 L541.46,204.30 L541.99,204.15 L542.52,204.01 L543.05,203.87 L543.58,203.73 L544.11,203.60 L544.64,203.47 L545.17,203.34 L545.70,203.21 L546.23,203.08 L546.76,202.96 L547.29,202.84 L547.82,202.72 L548.35,202.61 L548.88,202.49 L549.41,202.38 L549.94,202.27 L550.47,202.16 L551.00,202.06 L551.53,201.95 L552.06,201.85 L552.59,201.75 L553.12,201.65 L553.65,201.55 L554.18,201.46 L554.71,201.36 L555.24,201.27 L555.77,201.18 L556.30,201.09 L556.83,201.00 L557.36,200.92 L557.89,200.83 L558.42,200.75 L558.95,200.67 L559.48,200.59 L560.01,200.51 L560.54,200.43 L561.07,200.36 L561.60,200.28 L562.13,200.21 L562.66,200.14 L563.19,200.07 L563.72,200.00 L564.25,199.93 L564.78,199.87 L565.31,199.80 L565.84,199.74 L566.37,199.67 L566.90,199.61 L567.43,199.55 L567.96,199.49 L568.49,199.43 L569.02,199.38 L569.55,199.32 L570.08,199.26 L570.61,199.21 L571.14,199.15 L571.67,199.10 L572.20,199.05 L572.73,199.00 L573.26,198.95 L573.79,198.90 L574.32,198.85 L574.85,198.80 L575.38,198.76 L575.91,198.71 L576.44,198.67 L576.97,198.62 L577.50,198.58 L578.03,198.54 L578.56,198.50 L579.09,198.46 L579.62,198.42 L580.15,198.38 L580.68,198.34 L581.21,198.30 L581.74,198.26 L582.27,198.22 L582.80,198.19 L583.33,198.15 L583.86,198.12 L584.39,198.08 L584.92,198.05 L585.45,198.02 L585.98,197.98 L586.51,197.95 L587.04,197.92 L587.57,197.89 L588.10,197.86 L588.63,197.83 L589.16,197.80 L589.69,197.77 L590.22,197.75 L590.75,197.72 L591.28,197.69 L591.81,197.66 L592.34,197.64 L592.87,197.61 L593.40,197.59 L593.93,197.56 L594.46,197.54 L594.99,197.51 L595.52,197.49 L596.05,197.47 L596.58,197.45 L597.11,197.42 L597.64,197.40 L598.17,197.38 L598.70,197.36 L599.23,197.34 L599.76,197.32 L600.29,197.30 L600.82,197.28 L601.35,197.26 L601.88,197.24 L602.41,197.22 L602.94,197.20 L603.47,197.19 L604.00,197.17 L604.53,197.15 L605.06,197.13 L605.59,197.12 L606.12,197.10 L606.65,197.08 L607.18,197.07 L607.71,197.05 L608.24,197.04 L608.77,197.02 L609.30,197.01 L609.83,196.99 L610.36,196.98 L610.89,196.97 L611.42,196.95 L611.95,196.94 L612.48,196.93 L613.01,196.91 L613.54,196.90 L614.07,196.89 L614.60,196.88 L615.13,196.86 L615.66,196.85 L616.19,196.84 L616.72,196.83 L617.25,196.82 L617.78,196.81 L618.31,196.80 L618.84,196.78 L619.37,196.77 L619.90,196.76 L620.43,196.75 L620.96,196.74 L621.49,196.73 L622.02,196.72 L622.55,196.72 L623.08,196.71 L623.61,196.70 L624.14,196.69 L624.67,196.68 L625.20,196.67 L625.73,196.66 L626.26,196.65 L626.79,196.65 L627.32,196.64 L627.85,196.63 L628.38,196.62 L628.91,196.62 L629.44,196.61 L629.97,196.60 L630.50,196.59 L631.03,196.59 L631.56,196.58 L632.09,196.57 L632.62,196.57 L633.15,196.56 L633.68,196.55 L634.21,196.55 L634.74,196.54 L635.27,196.53 L635.80,196.53 L636.33,196.52 L636.86,196.52 L637.39,196.51 L637.92,196.51 L638.45,196.50 L638.98,196.50 L639.51,196.49 L640.04,196.48 L640.57,196.48 L641.10,196.47 L641.63,196.47 L642.16,196.46 L642.69,196.46 L643.22,196.46 L643.75,196.45 L644.28,196.45 L644.81,196.44 L645.34,196.44 L645.87,196.43 L646.40,196.43 L646.93,196.43 L647.46,196.42 L647.99,196.42 L648.52,196.41 L649.05,196.41 L649.58,196.41 L650.11,196.40 L650.64,196.40 L651.17,196.40 L651.70,196.39 L652.23,196.39 L652.76,196.38 L653.29,196.38 L653.82,196.38 L654.35,196.38 L654.88,196.37 L655.41,196.37 L655.94,196.37 L656.47,196.36 L657.00,196.36 L657.53,196.36 L658.06,196.35 L658.59,196.35 L659.12,196.35 L659.65,196.35 L660.18,196.34 L660.71,196.34 L661.24,196.34 L661.77,196.34 L662.30,196.33" fill="none" stroke="#0d33f5" stroke-width="2.6" stroke-linejoin="round" stroke-linecap="round" />
<path d="M460.90,329.17 L461.43,327.20 L461.96,325.24 L462.49,323.32 L463.02,321.43 L463.55,319.57 L464.08,317.73 L464.61,315.92 L465.14,314.14 L465.67,312.38 L466.20,310.65 L466.73,308.95 L467.26,307.27 L467.79,305.62 L468.32,303.99 L468.85,302.38 L469.38,300.80 L469.91,299.24 L470.44,297.71 L470.97,296.20 L471.50,294.71 L472.03,293.24 L472.56,291.80 L473.09,290.38 L473.62,288.97 L474.15,287.59 L474.68,286.23 L475.21,284.89 L475.74,283.57 L476.27,282.27 L476.80,280.99 L477.33,279.73 L477.86,278.48 L478.39,277.26 L478.92,276.05 L479.45,274.86 L479.98,273.69 L480.51,272.54 L481.04,271.40 L481.57,270.28 L482.10,269.18 L482.63,268.09 L483.16,267.02 L483.69,265.97 L484.22,264.93 L484.75,263.91 L485.28,262.90 L485.81,261.90 L486.34,260.93 L486.87,259.96 L487.40,259.01 L487.93,258.08 L488.46,257.16 L488.99,256.25 L489.52,255.36 L490.05,254.47 L490.58,253.61 L491.11,252.75 L491.64,251.91 L492.17,251.08 L492.70,250.26 L493.23,249.46 L493.76,248.67 L494.29,247.88 L494.82,247.12 L495.35,246.36 L495.88,245.61 L496.41,244.87 L496.94,244.15 L497.47,243.44 L498.00,242.73 L498.53,242.04 L499.06,241.36 L499.59,240.69 L500.12,240.02 L500.65,239.37 L501.18,238.73 L501.71,238.09 L502.24,237.47 L502.77,236.86 L503.30,236.25 L503.83,235.66 L504.36,235.07 L504.89,234.49 L505.42,233.92 L505.95,233.36 L506.48,232.80 L507.01,232.26 L507.54,231.72 L508.07,231.19 L508.60,230.67 L509.13,230.16 L509.66,229.65 L510.19,229.16 L510.72,228.66 L511.25,228.18 L511.78,227.71 L512.31,227.24 L512.84,226.77 L513.37,226.32 L513.90,225.87 L514.43,225.43 L514.96,224.99 L515.49,224.57 L516.02,224.14 L516.55,223.73 L517.08,223.32 L517.61,222.91 L518.14,222.52 L518.67,222.12 L519.20,221.74 L519.73,221.36 L520.26,220.98 L520.79,220.61 L521.32,220.25 L521.85,219.89 L522.38,219.54 L522.91,219.19 L523.44,218.85 L523.97,218.51 L524.50,218.18 L525.03,217.85 L525.56,217.53 L526.09,217.21 L526.62,216.90 L527.15,216.59 L527.68,216.29 L528.21,215.99 L528.74,215.70 L529.27,215.40 L529.80,215.12 L530.33,214.84 L530.86,214.56 L531.39,214.29 L531.92,214.02 L532.45,213.75 L532.98,213.49 L533.51,213.23 L534.04,212.98 L534.57,212.73 L535.10,212.48 L535.63,212.24 L536.16,212.00 L536.69,211.77 L537.22,211.54 L537.75,211.31 L538.28,211.08 L538.81,210.86 L539.34,210.64 L539.87,210.43 L540.40,210.22 L540.93,210.01 L541.46,209.80 L541.99,209.60 L542.52,209.40 L543.05,209.20 L543.58,209.01 L544.11,208.82 L544.64,208.63 L545.17,208.45 L545.70,208.26 L546.23,208.08 L546.76,207.91 L547.29,207.73 L547.82,207.56 L548.35,207.39 L548.88,207.22 L549.41,207.06 L549.94,206.90 L550.47,206.74 L551.00,206.58 L551.53,206.43 L552.06,206.28 L552.59,206.13 L553.12,205.98 L553.65,205.83 L554.18,205.69 L554.71,205.55 L555.24,205.41 L555.77,205.27 L556.30,205.14 L556.83,205.00 L557.36,204.87 L557.89,204.74 L558.42,204.62 L558.95,204.49 L559.48,204.37 L560.01,204.25 L560.54,204.13 L561.07,204.01 L561.60,203.89 L562.13,203.78 L562.66,203.66 L563.19,203.55 L563.72,203.44 L564.25,203.34 L564.78,203.23 L565.31,203.13 L565.84,203.02 L566.37,202.92 L566.90,202.82 L567.43,202.72 L567.96,202.62 L568.49,202.53 L569.02,202.43 L569.55,202.34 L570.08,202.25 L570.61,202.16 L571.14,202.07 L571.67,201.98 L572.20,201.90 L572.73,201.81 L573.26,201.73 L573.79,201.65 L574.32,201.57 L574.85,201.49 L575.38,201.41 L575.91,201.33 L576.44,201.25 L576.97,201.18 L577.50,201.10 L578.03,201.03 L578.56,200.96 L579.09,200.89 L579.62,200.82 L580.15,200.75 L580.68,200.68 L581.21,200.62 L581.74,200.55 L582.27,200.49 L582.80,200.42 L583.33,200.36 L583.86,200.30 L584.39,200.24 L584.92,200.18 L585.45,200.12 L585.98,200.06 L586.51,200.00 L587.04,199.94 L587.57,199.89 L588.10,199.83 L588.63,199.78 L589.16,199.73 L589.69,199.67 L590.22,199.62 L590.75,199.57 L591.28,199.52 L591.81,199.47 L592.34,199.42 L592.87,199.37 L593.40,199.33 L593.93,199.28 L594.46,199.23 L594.99,199.19 L595.52,199.15 L596.05,199.10 L596.58,199.06 L597.11,199.02 L597.64,198.97 L598.17,198.93 L598.70,198.89 L599.23,198.85 L599.76,198.81 L600.29,198.77 L600.82,198.73 L601.35,198.70 L601.88,198.66 L602.41,198.62 L602.94,198.59 L603.47,198.55 L604.00,198.52 L604.53,198.48 L605.06,198.45 L605.59,198.41 L606.12,198.38 L606.65,198.35 L607.18,198.32 L607.71,198.29 L608.24,198.25 L608.77,198.22 L609.30,198.19 L609.83,198.16 L610.36,198.14 L610.89,198.11 L611.42,198.08 L611.95,198.05 L612.48,198.02 L613.01,198.00 L613.54,197.97 L614.07,197.94 L614.60,197.92 L615.13,197.89 L615.66,197.87 L616.19,197.84 L616.72,197.82 L617.25,197.79 L617.78,197.77 L618.31,197.75 L618.84,197.72 L619.37,197.70 L619.90,197.68 L620.43,197.66 L620.96,197.63 L621.49,197.61 L622.02,197.59 L622.55,197.57 L623.08,197.55 L623.61,197.53 L624.14,197.51 L624.67,197.49 L625.20,197.47 L625.73,197.45 L626.26,197.43 L626.79,197.42 L627.32,197.40 L627.85,197.38 L628.38,197.36 L628.91,197.34 L629.44,197.33 L629.97,197.31 L630.50,197.29 L631.03,197.28 L631.56,197.26 L632.09,197.25 L632.62,197.23 L633.15,197.22 L633.68,197.20 L634.21,197.19 L634.74,197.17 L635.27,197.16 L635.80,197.14 L636.33,197.13 L636.86,197.11 L637.39,197.10 L637.92,197.09 L638.45,197.07 L638.98,197.06 L639.51,197.05 L640.04,197.04 L640.57,197.02 L641.10,197.01 L641.63,197.00 L642.16,196.99 L642.69,196.98 L643.22,196.96 L643.75,196.95 L644.28,196.94 L644.81,196.93 L645.34,196.92 L645.87,196.91 L646.40,196.90 L646.93,196.89 L647.46,196.88 L647.99,196.87 L648.52,196.86 L649.05,196.85 L649.58,196.84 L650.11,196.83 L650.64,196.82 L651.17,196.81 L651.70,196.80 L652.23,196.79 L652.76,196.78 L653.29,196.77 L653.82,196.77 L654.35,196.76 L654.88,196.75 L655.41,196.74 L655.94,196.73 L656.47,196.72 L657.00,196.72 L657.53,196.71 L658.06,196.70 L658.59,196.69 L659.12,196.69 L659.65,196.68 L660.18,196.67 L660.71,196.67 L661.24,196.66 L661.77,196.65 L662.30,196.64" fill="none" stroke="#000" stroke-width="2.6" stroke-linejoin="round" stroke-linecap="round" />
<rect x="457.70" y="317.20" width="6.4" height="6.4" fill="none" stroke="#0d33f5" stroke-width="2.1"/>
<rect x="463.00" y="303.02" width="6.4" height="6.4" fill="none" stroke="#0d33f5" stroke-width="2.1"/>
<rect x="468.30" y="282.10" width="6.4" height="6.4" fill="none" stroke="#0d33f5" stroke-width="2.1"/>
<rect x="478.90" y="253.75" width="6.4" height="6.4" fill="none" stroke="#0d33f5" stroke-width="2.1"/>
<rect x="500.10" y="222.70" width="6.4" height="6.4" fill="none" stroke="#0d33f5" stroke-width="2.1"/>
<rect x="542.50" y="201.78" width="6.4" height="6.4" fill="none" stroke="#0d33f5" stroke-width="2.1"/>
<rect x="595.50" y="195.03" width="6.4" height="6.4" fill="none" stroke="#0d33f5" stroke-width="2.1"/>
<rect x="659.10" y="193.00" width="6.4" height="6.4" fill="none" stroke="#0d33f5" stroke-width="2.1"/>
<circle cx="460.90" cy="328.50" r="3.5" fill="none" stroke="#000" stroke-width="2.2"/>
<circle cx="466.20" cy="312.30" r="3.5" fill="none" stroke="#000" stroke-width="2.2"/>
<circle cx="471.50" cy="294.07" r="3.5" fill="none" stroke="#000" stroke-width="2.2"/>
<circle cx="482.10" cy="269.44" r="3.5" fill="none" stroke="#000" stroke-width="2.2"/>
<circle cx="503.30" cy="236.02" r="3.5" fill="none" stroke="#000" stroke-width="2.2"/>
<circle cx="545.70" cy="207.67" r="3.5" fill="none" stroke="#000" stroke-width="2.2"/>
<circle cx="598.70" cy="198.90" r="3.5" fill="none" stroke="#000" stroke-width="2.2"/>
<circle cx="662.30" cy="196.20" r="3.5" fill="none" stroke="#000" stroke-width="2.2"/>
<line x1="460.90" y1="355.80" x2="460.90" y2="496.30" stroke="#444" stroke-width="1"/>
<line x1="456.10" y1="494.30" x2="460.90" y2="494.30" stroke="#444" stroke-width="1"/>
<line x1="457.90" y1="477.43" x2="460.90" y2="477.43" stroke="#444" stroke-width="1"/>
<line x1="456.10" y1="460.55" x2="460.90" y2="460.55" stroke="#444" stroke-width="1"/>
<line x1="457.90" y1="443.68" x2="460.90" y2="443.68" stroke="#444" stroke-width="1"/>
<line x1="456.10" y1="426.80" x2="460.90" y2="426.80" stroke="#444" stroke-width="1"/>
<line x1="457.90" y1="409.93" x2="460.90" y2="409.93" stroke="#444" stroke-width="1"/>
<line x1="456.10" y1="393.05" x2="460.90" y2="393.05" stroke="#444" stroke-width="1"/>
<line x1="457.90" y1="376.18" x2="460.90" y2="376.18" stroke="#444" stroke-width="1"/>
<line x1="456.10" y1="359.30" x2="460.90" y2="359.30" stroke="#444" stroke-width="1"/>
<text transform="translate(422.78 364.60) scale(1.0 1)" font-size="18.2" fill="#111">1.0</text>
<text transform="translate(422.83 398.35) scale(1.0 1)" font-size="18.2" fill="#111">0.5</text>
<text transform="translate(437.98 432.10) scale(1.0 1)" font-size="18.2" fill="#111">0</text>
<text transform="translate(412.23 465.85) scale(1.0 1)" font-size="18.2" fill="#111">−0.5</text>
<text transform="translate(412.18 499.60) scale(1.0 1)" font-size="18.2" fill="#111">−1.0</text>
<line x1="460.90" y1="426.80" x2="673.40" y2="426.80" stroke="#8a8a8a" stroke-width="1.2"/>
<line x1="487.40" y1="426.80" x2="487.40" y2="431.10" stroke="#8a8a8a" stroke-width="1.2"/>
<line x1="513.90" y1="426.80" x2="513.90" y2="431.10" stroke="#8a8a8a" stroke-width="1.2"/>
<line x1="540.40" y1="426.80" x2="540.40" y2="431.10" stroke="#8a8a8a" stroke-width="1.2"/>
<line x1="566.90" y1="426.80" x2="566.90" y2="431.10" stroke="#8a8a8a" stroke-width="1.2"/>
<line x1="593.40" y1="426.80" x2="593.40" y2="431.10" stroke="#8a8a8a" stroke-width="1.2"/>
<line x1="619.90" y1="426.80" x2="619.90" y2="431.10" stroke="#8a8a8a" stroke-width="1.2"/>
<line x1="646.40" y1="426.80" x2="646.40" y2="431.10" stroke="#8a8a8a" stroke-width="1.2"/>
<line x1="672.90" y1="426.80" x2="672.90" y2="431.10" stroke="#8a8a8a" stroke-width="1.2"/>
<text transform="translate(501.25 453.20) scale(1.0 1)" font-size="18.2" fill="#111">0.5</text>
<text transform="translate(553.91 453.20) scale(1.0 1)" font-size="18.2" fill="#111">1.0</text>
<text transform="translate(606.93 453.20) scale(1.0 1)" font-size="18.2" fill="#111">1.5</text>
<text transform="translate(660.14 453.20) scale(1.0 1)" font-size="18.2" fill="#111">2.0</text>
<text transform="translate(593.45 397.70) scale(1.0 1)" font-size="18.2" fill="#1c2cff">S3</text>
<text transform="translate(395.30 426.30) rotate(-90) scale(1.0 1)" x="-34.72" font-size="18.2" fill="#111">Intensity</text>
<path d="M460.90,487.55 L461.43,485.20 L461.96,482.89 L462.49,480.63 L463.02,478.40 L463.55,476.22 L464.08,474.08 L464.61,471.97 L465.14,469.91 L465.67,467.88 L466.20,465.89 L466.73,463.94 L467.26,462.02 L467.79,460.13 L468.32,458.29 L468.85,456.47 L469.38,454.69 L469.91,452.94 L470.44,451.23 L470.97,449.54 L471.50,447.89 L472.03,446.26 L472.56,444.67 L473.09,443.10 L473.62,441.57 L474.15,440.06 L474.68,438.58 L475.21,437.13 L475.74,435.70 L476.27,434.30 L476.80,432.92 L477.33,431.58 L477.86,430.25 L478.39,428.95 L478.92,427.67 L479.45,426.42 L479.98,425.19 L480.51,423.98 L481.04,422.80 L481.57,421.63 L482.10,420.49 L482.63,419.37 L483.16,418.27 L483.69,417.19 L484.22,416.13 L484.75,415.08 L485.28,414.06 L485.81,413.06 L486.34,412.07 L486.87,411.10 L487.40,410.16 L487.93,409.22 L488.46,408.31 L488.99,407.41 L489.52,406.53 L490.05,405.66 L490.58,404.81 L491.11,403.98 L491.64,403.16 L492.17,402.36 L492.70,401.57 L493.23,400.79 L493.76,400.03 L494.29,399.28 L494.82,398.55 L495.35,397.83 L495.88,397.13 L496.41,396.43 L496.94,395.75 L497.47,395.08 L498.00,394.43 L498.53,393.78 L499.06,393.15 L499.59,392.53 L500.12,391.92 L500.65,391.32 L501.18,390.74 L501.71,390.16 L502.24,389.59 L502.77,389.04 L503.30,388.49 L503.83,387.96 L504.36,387.43 L504.89,386.92 L505.42,386.41 L505.95,385.92 L506.48,385.43 L507.01,384.95 L507.54,384.48 L508.07,384.02 L508.60,383.56 L509.13,383.12 L509.66,382.68 L510.19,382.25 L510.72,381.83 L511.25,381.42 L511.78,381.01 L512.31,380.62 L512.84,380.23 L513.37,379.84 L513.90,379.47 L514.43,379.10 L514.96,378.73 L515.49,378.38 L516.02,378.03 L516.55,377.68 L517.08,377.35 L517.61,377.02 L518.14,376.69 L518.67,376.37 L519.20,376.06 L519.73,375.75 L520.26,375.45 L520.79,375.15 L521.32,374.86 L521.85,374.58 L522.38,374.30 L522.91,374.02 L523.44,373.75 L523.97,373.49 L524.50,373.23 L525.03,372.97 L525.56,372.72 L526.09,372.48 L526.62,372.24 L527.15,372.00 L527.68,371.77 L528.21,371.54 L528.74,371.31 L529.27,371.09 L529.80,370.88 L530.33,370.66 L530.86,370.46 L531.39,370.25 L531.92,370.05 L532.45,369.85 L532.98,369.66 L533.51,369.47 L534.04,369.28 L534.57,369.10 L535.10,368.92 L535.63,368.74 L536.16,368.57 L536.69,368.40 L537.22,368.24 L537.75,368.07 L538.28,367.91 L538.81,367.75 L539.34,367.60 L539.87,367.45 L540.40,367.30 L540.93,367.15 L541.46,367.01 L541.99,366.86 L542.52,366.73 L543.05,366.59 L543.58,366.46 L544.11,366.33 L544.64,366.20 L545.17,366.07 L545.70,365.95 L546.23,365.82 L546.76,365.70 L547.29,365.59 L547.82,365.47 L548.35,365.36 L548.88,365.25 L549.41,365.14 L549.94,365.03 L550.47,364.93 L551.00,364.82 L551.53,364.72 L552.06,364.62 L552.59,364.53 L553.12,364.43 L553.65,364.34 L554.18,364.24 L554.71,364.15 L555.24,364.06 L555.77,363.98 L556.30,363.89 L556.83,363.81 L557.36,363.72 L557.89,363.64 L558.42,363.56 L558.95,363.48 L559.48,363.41 L560.01,363.33 L560.54,363.26 L561.07,363.19 L561.60,363.12 L562.13,363.05 L562.66,362.98 L563.19,362.91 L563.72,362.84 L564.25,362.78 L564.78,362.71 L565.31,362.65 L565.84,362.59 L566.37,362.53 L566.90,362.47 L567.43,362.41 L567.96,362.36 L568.49,362.30 L569.02,362.24 L569.55,362.19 L570.08,362.14 L570.61,362.09 L571.14,362.03 L571.67,361.98 L572.20,361.94 L572.73,361.89 L573.26,361.84 L573.79,361.79 L574.32,361.75 L574.85,361.70 L575.38,361.66 L575.91,361.62 L576.44,361.57 L576.97,361.53 L577.50,361.49 L578.03,361.45 L578.56,361.41 L579.09,361.37 L579.62,361.33 L580.15,361.30 L580.68,361.26 L581.21,361.22 L581.74,361.19 L582.27,361.15 L582.80,361.12 L583.33,361.09 L583.86,361.05 L584.39,361.02 L584.92,360.99 L585.45,360.96 L585.98,360.93 L586.51,360.90 L587.04,360.87 L587.57,360.84 L588.10,360.81 L588.63,360.79 L589.16,360.76 L589.69,360.73 L590.22,360.70 L590.75,360.68 L591.28,360.65 L591.81,360.63 L592.34,360.60 L592.87,360.58 L593.40,360.56 L593.93,360.53 L594.46,360.51 L594.99,360.49 L595.52,360.47 L596.05,360.45 L596.58,360.43 L597.11,360.40 L597.64,360.38 L598.17,360.36 L598.70,360.34 L599.23,360.33 L599.76,360.31 L600.29,360.29 L600.82,360.27 L601.35,360.25 L601.88,360.24 L602.41,360.22 L602.94,360.20 L603.47,360.18 L604.00,360.17 L604.53,360.15 L605.06,360.14 L605.59,360.12 L606.12,360.11 L606.65,360.09 L607.18,360.08 L607.71,360.06 L608.24,360.05 L608.77,360.04 L609.30,360.02 L609.83,360.01 L610.36,360.00 L610.89,359.98 L611.42,359.97 L611.95,359.96 L612.48,359.95 L613.01,359.93 L613.54,359.92 L614.07,359.91 L614.60,359.90 L615.13,359.89 L615.66,359.88 L616.19,359.87 L616.72,359.86 L617.25,359.85 L617.78,359.84 L618.31,359.83 L618.84,359.82 L619.37,359.81 L619.90,359.80 L620.43,359.79 L620.96,359.78 L621.49,359.77 L622.02,359.76 L622.55,359.75 L623.08,359.75 L623.61,359.74 L624.14,359.73 L624.67,359.72 L625.20,359.71 L625.73,359.71 L626.26,359.70 L626.79,359.69 L627.32,359.68 L627.85,359.68 L628.38,359.67 L628.91,359.66 L629.44,359.66 L629.97,359.65 L630.50,359.64 L631.03,359.64 L631.56,359.63 L632.09,359.63 L632.62,359.62 L633.15,359.61 L633.68,359.61 L634.21,359.60 L634.74,359.60 L635.27,359.59 L635.80,359.59 L636.33,359.58 L636.86,359.58 L637.39,359.57 L637.92,359.57 L638.45,359.56 L638.98,359.56 L639.51,359.55 L640.04,359.55 L640.57,359.54 L641.10,359.54 L641.63,359.53 L642.16,359.53 L642.69,359.53 L643.22,359.52 L643.75,359.52 L644.28,359.51 L644.81,359.51 L645.34,359.51 L645.87,359.50 L646.40,359.50 L646.93,359.49 L647.46,359.49 L647.99,359.49 L648.52,359.48 L649.05,359.48 L649.58,359.48 L650.11,359.47 L650.64,359.47 L651.17,359.47 L651.70,359.46 L652.23,359.46 L652.76,359.46 L653.29,359.46 L653.82,359.45 L654.35,359.45 L654.88,359.45 L655.41,359.44 L655.94,359.44 L656.47,359.44 L657.00,359.44 L657.53,359.43 L658.06,359.43 L658.59,359.43 L659.12,359.43 L659.65,359.42 L660.18,359.42 L660.71,359.42 L661.24,359.42 L661.77,359.42 L662.30,359.41" fill="none" stroke="#0d33f5" stroke-width="2.6" stroke-linejoin="round" stroke-linecap="round" />
<path d="M460.90,490.93 L461.43,489.00 L461.96,487.10 L462.49,485.23 L463.02,483.38 L463.55,481.57 L464.08,479.78 L464.61,478.01 L465.14,476.27 L465.67,474.56 L466.20,472.87 L466.73,471.21 L467.26,469.57 L467.79,467.96 L468.32,466.37 L468.85,464.80 L469.38,463.25 L469.91,461.73 L470.44,460.23 L470.97,458.76 L471.50,457.30 L472.03,455.86 L472.56,454.45 L473.09,453.06 L473.62,451.68 L474.15,450.33 L474.68,449.00 L475.21,447.69 L475.74,446.39 L476.27,445.12 L476.80,443.86 L477.33,442.62 L477.86,441.40 L478.39,440.20 L478.92,439.01 L479.45,437.85 L479.98,436.70 L480.51,435.56 L481.04,434.45 L481.57,433.35 L482.10,432.26 L482.63,431.20 L483.16,430.14 L483.69,429.11 L484.22,428.08 L484.75,427.08 L485.28,426.08 L485.81,425.11 L486.34,424.14 L486.87,423.19 L487.40,422.26 L487.93,421.34 L488.46,420.43 L488.99,419.53 L489.52,418.65 L490.05,417.78 L490.58,416.93 L491.11,416.08 L491.64,415.25 L492.17,414.43 L492.70,413.62 L493.23,412.83 L493.76,412.04 L494.29,411.27 L494.82,410.51 L495.35,409.76 L495.88,409.02 L496.41,408.29 L496.94,407.58 L497.47,406.87 L498.00,406.17 L498.53,405.49 L499.06,404.81 L499.59,404.14 L500.12,403.49 L500.65,402.84 L501.18,402.20 L501.71,401.58 L502.24,400.96 L502.77,400.35 L503.30,399.75 L503.83,399.15 L504.36,398.57 L504.89,397.99 L505.42,397.43 L505.95,396.87 L506.48,396.32 L507.01,395.78 L507.54,395.24 L508.07,394.72 L508.60,394.20 L509.13,393.69 L509.66,393.18 L510.19,392.69 L510.72,392.20 L511.25,391.72 L511.78,391.24 L512.31,390.78 L512.84,390.31 L513.37,389.86 L513.90,389.41 L514.43,388.97 L514.96,388.54 L515.49,388.11 L516.02,387.69 L516.55,387.27 L517.08,386.86 L517.61,386.46 L518.14,386.06 L518.67,385.67 L519.20,385.28 L519.73,384.90 L520.26,384.53 L520.79,384.16 L521.32,383.79 L521.85,383.44 L522.38,383.08 L522.91,382.73 L523.44,382.39 L523.97,382.05 L524.50,381.72 L525.03,381.39 L525.56,381.07 L526.09,380.75 L526.62,380.44 L527.15,380.13 L527.68,379.82 L528.21,379.52 L528.74,379.22 L529.27,378.93 L529.80,378.65 L530.33,378.36 L530.86,378.08 L531.39,377.81 L531.92,377.54 L532.45,377.27 L532.98,377.01 L533.51,376.75 L534.04,376.49 L534.57,376.24 L535.10,375.99 L535.63,375.75 L536.16,375.51 L536.69,375.27 L537.22,375.04 L537.75,374.81 L538.28,374.58 L538.81,374.35 L539.34,374.13 L539.87,373.92 L540.40,373.70 L540.93,373.49 L541.46,373.28 L541.99,373.08 L542.52,372.88 L543.05,372.68 L543.58,372.48 L544.11,372.29 L544.64,372.10 L545.17,371.91 L545.70,371.73 L546.23,371.55 L546.76,371.37 L547.29,371.19 L547.82,371.02 L548.35,370.84 L548.88,370.68 L549.41,370.51 L549.94,370.34 L550.47,370.18 L551.00,370.02 L551.53,369.87 L552.06,369.71 L552.59,369.56 L553.12,369.41 L553.65,369.26 L554.18,369.12 L554.71,368.97 L555.24,368.83 L555.77,368.69 L556.30,368.55 L556.83,368.42 L557.36,368.28 L557.89,368.15 L558.42,368.02 L558.95,367.90 L559.48,367.77 L560.01,367.65 L560.54,367.52 L561.07,367.40 L561.60,367.28 L562.13,367.17 L562.66,367.05 L563.19,366.94 L563.72,366.83 L564.25,366.72 L564.78,366.61 L565.31,366.50 L565.84,366.40 L566.37,366.29 L566.90,366.19 L567.43,366.09 L567.96,365.99 L568.49,365.89 L569.02,365.79 L569.55,365.70 L570.08,365.61 L570.61,365.51 L571.14,365.42 L571.67,365.33 L572.20,365.24 L572.73,365.16 L573.26,365.07 L573.79,364.99 L574.32,364.90 L574.85,364.82 L575.38,364.74 L575.91,364.66 L576.44,364.58 L576.97,364.51 L577.50,364.43 L578.03,364.35 L578.56,364.28 L579.09,364.21 L579.62,364.14 L580.15,364.06 L580.68,363.99 L581.21,363.93 L581.74,363.86 L582.27,363.79 L582.80,363.73 L583.33,363.66 L583.86,363.60 L584.39,363.53 L584.92,363.47 L585.45,363.41 L585.98,363.35 L586.51,363.29 L587.04,363.23 L587.57,363.18 L588.10,363.12 L588.63,363.06 L589.16,363.01 L589.69,362.95 L590.22,362.90 L590.75,362.85 L591.28,362.80 L591.81,362.74 L592.34,362.69 L592.87,362.64 L593.40,362.60 L593.93,362.55 L594.46,362.50 L594.99,362.45 L595.52,362.41 L596.05,362.36 L596.58,362.32 L597.11,362.27 L597.64,362.23 L598.17,362.19 L598.70,362.14 L599.23,362.10 L599.76,362.06 L600.29,362.02 L600.82,361.98 L601.35,361.94 L601.88,361.90 L602.41,361.86 L602.94,361.83 L603.47,361.79 L604.00,361.75 L604.53,361.72 L605.06,361.68 L605.59,361.65 L606.12,361.61 L606.65,361.58 L607.18,361.55 L607.71,361.51 L608.24,361.48 L608.77,361.45 L609.30,361.42 L609.83,361.39 L610.36,361.36 L610.89,361.33 L611.42,361.30 L611.95,361.27 L612.48,361.24 L613.01,361.21 L613.54,361.18 L614.07,361.15 L614.60,361.13 L615.13,361.10 L615.66,361.07 L616.19,361.05 L616.72,361.02 L617.25,361.00 L617.78,360.97 L618.31,360.95 L618.84,360.92 L619.37,360.90 L619.90,360.88 L620.43,360.85 L620.96,360.83 L621.49,360.81 L622.02,360.79 L622.55,360.76 L623.08,360.74 L623.61,360.72 L624.14,360.70 L624.67,360.68 L625.20,360.66 L625.73,360.64 L626.26,360.62 L626.79,360.60 L627.32,360.58 L627.85,360.56 L628.38,360.54 L628.91,360.53 L629.44,360.51 L629.97,360.49 L630.50,360.47 L631.03,360.46 L631.56,360.44 L632.09,360.42 L632.62,360.41 L633.15,360.39 L633.68,360.37 L634.21,360.36 L634.74,360.34 L635.27,360.33 L635.80,360.31 L636.33,360.30 L636.86,360.28 L637.39,360.27 L637.92,360.25 L638.45,360.24 L638.98,360.23 L639.51,360.21 L640.04,360.20 L640.57,360.19 L641.10,360.17 L641.63,360.16 L642.16,360.15 L642.69,360.14 L643.22,360.12 L643.75,360.11 L644.28,360.10 L644.81,360.09 L645.34,360.08 L645.87,360.07 L646.40,360.05 L646.93,360.04 L647.46,360.03 L647.99,360.02 L648.52,360.01 L649.05,360.00 L649.58,359.99 L650.11,359.98 L650.64,359.97 L651.17,359.96 L651.70,359.95 L652.23,359.94 L652.76,359.93 L653.29,359.92 L653.82,359.91 L654.35,359.90 L654.88,359.90 L655.41,359.89 L655.94,359.88 L656.47,359.87 L657.00,359.86 L657.53,359.85 L658.06,359.84 L658.59,359.84 L659.12,359.83 L659.65,359.82 L660.18,359.81 L660.71,359.81 L661.24,359.80 L661.77,359.79 L662.30,359.78" fill="none" stroke="#000" stroke-width="2.6" stroke-linejoin="round" stroke-linecap="round" />
<rect x="457.70" y="490.43" width="6.4" height="6.4" fill="none" stroke="#0d33f5" stroke-width="2.1"/>
<rect x="457.70" y="482.33" width="6.4" height="6.4" fill="none" stroke="#0d33f5" stroke-width="2.1"/>
<rect x="463.00" y="461.40" width="6.4" height="6.4" fill="none" stroke="#0d33f5" stroke-width="2.1"/>
<rect x="468.30" y="448.24" width="6.4" height="6.4" fill="none" stroke="#0d33f5" stroke-width="2.1"/>
<rect x="478.90" y="419.21" width="6.4" height="6.4" fill="none" stroke="#0d33f5" stroke-width="2.1"/>
<rect x="500.10" y="385.80" width="6.4" height="6.4" fill="none" stroke="#0d33f5" stroke-width="2.1"/>
<rect x="542.50" y="365.55" width="6.4" height="6.4" fill="none" stroke="#0d33f5" stroke-width="2.1"/>
<rect x="595.50" y="359.48" width="6.4" height="6.4" fill="none" stroke="#0d33f5" stroke-width="2.1"/>
<rect x="659.10" y="356.78" width="6.4" height="6.4" fill="none" stroke="#0d33f5" stroke-width="2.1"/>
<circle cx="460.90" cy="488.90" r="3.5" fill="none" stroke="#000" stroke-width="2.2"/>
<circle cx="460.90" cy="487.55" r="3.5" fill="none" stroke="#000" stroke-width="2.2"/>
<circle cx="466.20" cy="470.68" r="3.5" fill="none" stroke="#000" stroke-width="2.2"/>
<circle cx="471.50" cy="459.20" r="3.5" fill="none" stroke="#000" stroke-width="2.2"/>
<circle cx="482.10" cy="432.88" r="3.5" fill="none" stroke="#000" stroke-width="2.2"/>
<circle cx="503.30" cy="399.80" r="3.5" fill="none" stroke="#000" stroke-width="2.2"/>
<circle cx="545.70" cy="371.45" r="3.5" fill="none" stroke="#000" stroke-width="2.2"/>
<circle cx="598.70" cy="364.02" r="3.5" fill="none" stroke="#000" stroke-width="2.2"/>
<circle cx="662.30" cy="359.30" r="3.5" fill="none" stroke="#000" stroke-width="2.2"/>
<text transform="translate(536.07 478.80) scale(0.93 1)" font-size="18.2" fill="#111">Time (s)</text>
<line x1="69.00" y1="270.40" x2="69.00" y2="438.20" stroke="#444" stroke-width="1.1"/>
<line x1="69.00" y1="438.20" x2="332.00" y2="438.20" stroke="#444" stroke-width="1.1"/>
<line x1="63.00" y1="438.20" x2="69.00" y2="438.20" stroke="#444" stroke-width="1.1"/>
<text transform="translate(45.18 443.60) scale(1.0 1)" font-size="18.2" fill="#111">0</text>
<line x1="63.00" y1="404.74" x2="69.00" y2="404.74" stroke="#444" stroke-width="1.1"/>
<text transform="translate(45.41 410.14) scale(1.0 1)" font-size="18.2" fill="#111">2</text>
<line x1="63.00" y1="371.28" x2="69.00" y2="371.28" stroke="#444" stroke-width="1.1"/>
<text transform="translate(45.00 376.68) scale(1.0 1)" font-size="18.2" fill="#111">4</text>
<line x1="63.00" y1="337.82" x2="69.00" y2="337.82" stroke="#444" stroke-width="1.1"/>
<text transform="translate(45.27 343.22) scale(1.0 1)" font-size="18.2" fill="#111">6</text>
<line x1="63.00" y1="304.36" x2="69.00" y2="304.36" stroke="#444" stroke-width="1.1"/>
<text transform="translate(45.27 309.76) scale(1.0 1)" font-size="18.2" fill="#111">8</text>
<line x1="63.00" y1="270.90" x2="69.00" y2="270.90" stroke="#444" stroke-width="1.1"/>
<text transform="translate(35.08 276.30) scale(1.0 1)" font-size="18.2" fill="#111">10</text>
<rect x="75.30" y="387.68" width="12.72" height="50.52" fill="#fdd17c"/>
<rect x="88.02" y="379.98" width="12.72" height="58.22" fill="#6dcff6"/>
<rect x="110.70" y="387.01" width="12.72" height="51.19" fill="#fdd17c"/>
<rect x="123.42" y="382.49" width="12.72" height="55.71" fill="#6dcff6"/>
<rect x="145.90" y="386.67" width="12.72" height="51.53" fill="#fdd17c"/>
<rect x="158.62" y="382.99" width="12.72" height="55.21" fill="#6dcff6"/>
<rect x="197.20" y="389.01" width="12.72" height="49.19" fill="#fdd17c"/>
<rect x="209.92" y="300.18" width="12.72" height="138.02" fill="#6dcff6"/>
<rect x="222.64" y="287.96" width="12.72" height="150.24" fill="#d4d4d4"/>
<rect x="242.10" y="388.01" width="12.72" height="50.19" fill="#fdd17c"/>
<rect x="254.82" y="374.79" width="12.72" height="63.41" fill="#6dcff6"/>
<rect x="267.54" y="378.31" width="12.72" height="59.89" fill="#d4d4d4"/>
<rect x="287.10" y="390.18" width="12.72" height="48.02" fill="#fdd17c"/>
<rect x="299.82" y="372.79" width="12.72" height="65.41" fill="#6dcff6"/>
<rect x="312.54" y="380.31" width="12.72" height="57.89" fill="#d4d4d4"/>
<circle cx="81.66" cy="386.00" r="3.4" fill="none" stroke="#000" stroke-width="1.7"/>
<line x1="78.66" y1="386.00" x2="84.66" y2="386.00" stroke="#000" stroke-width="1.1"/>
<circle cx="81.66" cy="388.51" r="3.4" fill="none" stroke="#000" stroke-width="1.7"/>
<line x1="78.66" y1="388.51" x2="84.66" y2="388.51" stroke="#000" stroke-width="1.1"/>
<circle cx="81.66" cy="389.68" r="3.4" fill="none" stroke="#000" stroke-width="1.7"/>
<line x1="78.66" y1="389.68" x2="84.66" y2="389.68" stroke="#000" stroke-width="1.1"/>
<circle cx="94.38" cy="377.97" r="3.4" fill="none" stroke="#000" stroke-width="1.7"/>
<line x1="91.38" y1="377.97" x2="97.38" y2="377.97" stroke="#000" stroke-width="1.1"/>
<circle cx="94.38" cy="380.48" r="3.4" fill="none" stroke="#000" stroke-width="1.7"/>
<line x1="91.38" y1="380.48" x2="97.38" y2="380.48" stroke="#000" stroke-width="1.1"/>
<circle cx="94.38" cy="382.15" r="3.4" fill="none" stroke="#000" stroke-width="1.7"/>
<line x1="91.38" y1="382.15" x2="97.38" y2="382.15" stroke="#000" stroke-width="1.1"/>
<circle cx="117.06" cy="386.34" r="3.4" fill="none" stroke="#000" stroke-width="1.7"/>
<line x1="114.06" y1="386.34" x2="120.06" y2="386.34" stroke="#000" stroke-width="1.1"/>
<circle cx="117.06" cy="387.68" r="3.4" fill="none" stroke="#000" stroke-width="1.7"/>
<line x1="114.06" y1="387.68" x2="120.06" y2="387.68" stroke="#000" stroke-width="1.1"/>
<circle cx="117.06" cy="388.01" r="3.4" fill="none" stroke="#000" stroke-width="1.7"/>
<line x1="114.06" y1="388.01" x2="120.06" y2="388.01" stroke="#000" stroke-width="1.1"/>
<circle cx="129.78" cy="379.64" r="3.4" fill="none" stroke="#000" stroke-width="1.7"/>
<line x1="126.78" y1="379.64" x2="132.78" y2="379.64" stroke="#000" stroke-width="1.1"/>
<circle cx="129.78" cy="382.99" r="3.4" fill="none" stroke="#000" stroke-width="1.7"/>
<line x1="126.78" y1="382.99" x2="132.78" y2="382.99" stroke="#000" stroke-width="1.1"/>
<circle cx="129.78" cy="385.50" r="3.4" fill="none" stroke="#000" stroke-width="1.7"/>
<line x1="126.78" y1="385.50" x2="132.78" y2="385.50" stroke="#000" stroke-width="1.1"/>
<circle cx="152.26" cy="385.67" r="3.4" fill="none" stroke="#000" stroke-width="1.7"/>
<line x1="149.26" y1="385.67" x2="155.26" y2="385.67" stroke="#000" stroke-width="1.1"/>
<circle cx="152.26" cy="387.68" r="3.4" fill="none" stroke="#000" stroke-width="1.7"/>
<line x1="149.26" y1="387.68" x2="155.26" y2="387.68" stroke="#000" stroke-width="1.1"/>
<circle cx="152.26" cy="388.68" r="3.4" fill="none" stroke="#000" stroke-width="1.7"/>
<line x1="149.26" y1="388.68" x2="155.26" y2="388.68" stroke="#000" stroke-width="1.1"/>
<circle cx="164.98" cy="378.81" r="3.4" fill="none" stroke="#000" stroke-width="1.7"/>
<line x1="161.98" y1="378.81" x2="167.98" y2="378.81" stroke="#000" stroke-width="1.1"/>
<circle cx="164.98" cy="382.99" r="3.4" fill="none" stroke="#000" stroke-width="1.7"/>
<line x1="161.98" y1="382.99" x2="167.98" y2="382.99" stroke="#000" stroke-width="1.1"/>
<circle cx="164.98" cy="385.50" r="3.4" fill="none" stroke="#000" stroke-width="1.7"/>
<line x1="161.98" y1="385.50" x2="167.98" y2="385.50" stroke="#000" stroke-width="1.1"/>
<circle cx="203.56" cy="388.34" r="3.4" fill="none" stroke="#000" stroke-width="1.7"/>
<line x1="200.56" y1="388.34" x2="206.56" y2="388.34" stroke="#000" stroke-width="1.1"/>
<circle cx="203.56" cy="389.35" r="3.4" fill="none" stroke="#000" stroke-width="1.7"/>
<line x1="200.56" y1="389.35" x2="206.56" y2="389.35" stroke="#000" stroke-width="1.1"/>
<circle cx="216.28" cy="293.49" r="3.4" fill="none" stroke="#000" stroke-width="1.7"/>
<line x1="213.28" y1="293.49" x2="219.28" y2="293.49" stroke="#000" stroke-width="1.1"/>
<circle cx="216.28" cy="296.83" r="3.4" fill="none" stroke="#000" stroke-width="1.7"/>
<line x1="213.28" y1="296.83" x2="219.28" y2="296.83" stroke="#000" stroke-width="1.1"/>
<circle cx="216.28" cy="306.03" r="3.4" fill="none" stroke="#000" stroke-width="1.7"/>
<line x1="213.28" y1="306.03" x2="219.28" y2="306.03" stroke="#000" stroke-width="1.1"/>
<circle cx="229.00" cy="285.96" r="3.4" fill="none" stroke="#000" stroke-width="1.7"/>
<line x1="226.00" y1="285.96" x2="232.00" y2="285.96" stroke="#000" stroke-width="1.1"/>
<circle cx="229.00" cy="289.30" r="3.4" fill="none" stroke="#000" stroke-width="1.7"/>
<line x1="226.00" y1="289.30" x2="232.00" y2="289.30" stroke="#000" stroke-width="1.1"/>
<circle cx="248.46" cy="387.17" r="3.4" fill="none" stroke="#000" stroke-width="1.7"/>
<line x1="245.46" y1="387.17" x2="251.46" y2="387.17" stroke="#000" stroke-width="1.1"/>
<circle cx="248.46" cy="388.34" r="3.4" fill="none" stroke="#000" stroke-width="1.7"/>
<line x1="245.46" y1="388.34" x2="251.46" y2="388.34" stroke="#000" stroke-width="1.1"/>
<circle cx="261.18" cy="372.12" r="3.4" fill="none" stroke="#000" stroke-width="1.7"/>
<line x1="258.18" y1="372.12" x2="264.18" y2="372.12" stroke="#000" stroke-width="1.1"/>
<circle cx="261.18" cy="375.46" r="3.4" fill="none" stroke="#000" stroke-width="1.7"/>
<line x1="258.18" y1="375.46" x2="264.18" y2="375.46" stroke="#000" stroke-width="1.1"/>
<circle cx="261.18" cy="376.30" r="3.4" fill="none" stroke="#000" stroke-width="1.7"/>
<line x1="258.18" y1="376.30" x2="264.18" y2="376.30" stroke="#000" stroke-width="1.1"/>
<circle cx="273.90" cy="376.30" r="3.4" fill="none" stroke="#000" stroke-width="1.7"/>
<line x1="270.90" y1="376.30" x2="276.90" y2="376.30" stroke="#000" stroke-width="1.1"/>
<circle cx="273.90" cy="378.81" r="3.4" fill="none" stroke="#000" stroke-width="1.7"/>
<line x1="270.90" y1="378.81" x2="276.90" y2="378.81" stroke="#000" stroke-width="1.1"/>
<circle cx="273.90" cy="380.48" r="3.4" fill="none" stroke="#000" stroke-width="1.7"/>
<line x1="270.90" y1="380.48" x2="276.90" y2="380.48" stroke="#000" stroke-width="1.1"/>
<circle cx="293.46" cy="389.18" r="3.4" fill="none" stroke="#000" stroke-width="1.7"/>
<line x1="290.46" y1="389.18" x2="296.46" y2="389.18" stroke="#000" stroke-width="1.1"/>
<circle cx="293.46" cy="390.52" r="3.4" fill="none" stroke="#000" stroke-width="1.7"/>
<line x1="290.46" y1="390.52" x2="296.46" y2="390.52" stroke="#000" stroke-width="1.1"/>
<circle cx="306.18" cy="369.61" r="3.4" fill="none" stroke="#000" stroke-width="1.7"/>
<line x1="303.18" y1="369.61" x2="309.18" y2="369.61" stroke="#000" stroke-width="1.1"/>
<circle cx="306.18" cy="372.95" r="3.4" fill="none" stroke="#000" stroke-width="1.7"/>
<line x1="303.18" y1="372.95" x2="309.18" y2="372.95" stroke="#000" stroke-width="1.1"/>
<circle cx="318.90" cy="379.64" r="3.4" fill="none" stroke="#000" stroke-width="1.7"/>
<line x1="315.90" y1="379.64" x2="321.90" y2="379.64" stroke="#000" stroke-width="1.1"/>
<text transform="translate(17.6 354.9) rotate(-90)" font-size="18.2" text-anchor="middle" fill="#111"><tspan font-style="italic">R</tspan><tspan font-size="11" dy="3.5">1</tspan><tspan dy="-3.5"> (s</tspan><tspan font-size="11" dy="-8">−1</tspan><tspan dy="8">)</tspan></text>
<text transform="translate(76.00 460.60) scale(1.0 1)" font-size="18.2" fill="#111">S1</text>
<text transform="translate(111.27 460.60) scale(1.0 1)" font-size="18.2" fill="#111">S2</text>
<text transform="translate(146.25 460.60) scale(1.0 1)" font-size="18.2" fill="#111">S3</text>
<text transform="translate(203.65 460.60) scale(1.0 1)" font-size="18.2" fill="#111">S1</text>
<text transform="translate(250.17 460.60) scale(1.0 1)" font-size="18.2" fill="#111">S2</text>
<text transform="translate(295.20 460.60) scale(1.0 1)" font-size="18.2" fill="#111">S3</text>
<text transform="translate(34.70 483.90) scale(1.0 1)" font-size="18.2" fill="#111">Ni</text>
<text transform="translate(52.03 475.60) scale(1.0 1)" font-size="11.4" fill="#111">2+</text>
<text transform="translate(75.88 485.60) scale(1.0 1)" font-size="18.2" fill="#111">−</text>
<text transform="translate(111.58 485.60) scale(1.0 1)" font-size="18.2" fill="#111">−</text>
<text transform="translate(146.28 485.60) scale(1.0 1)" font-size="18.2" fill="#111">−</text>
<text transform="translate(197.88 485.60) scale(1.0 1)" font-size="18.2" fill="#111">−</text>
<text transform="translate(242.68 485.60) scale(1.0 1)" font-size="18.2" fill="#111">−</text>
<text transform="translate(287.78 485.60) scale(1.0 1)" font-size="18.2" fill="#111">−</text>
<text transform="translate(89.20 485.60) scale(1.0 1)" font-size="18.2" fill="#111">+</text>
<text transform="translate(124.40 485.60) scale(1.0 1)" font-size="18.2" fill="#111">+</text>
<text transform="translate(159.70 485.60) scale(1.0 1)" font-size="18.2" fill="#111">+</text>
<text transform="translate(211.00 485.60) scale(1.0 1)" font-size="18.2" fill="#111">+</text>
<text transform="translate(224.10 485.60) scale(1.0 1)" font-size="18.2" fill="#111">+</text>
<text transform="translate(255.90 485.60) scale(1.0 1)" font-size="18.2" fill="#111">+</text>
<text transform="translate(269.00 485.60) scale(1.0 1)" font-size="18.2" fill="#111">+</text>
<text transform="translate(301.00 485.60) scale(1.0 1)" font-size="18.2" fill="#111">+</text>
<text transform="translate(314.20 485.60) scale(1.0 1)" font-size="18.2" fill="#111">+</text>
<text transform="translate(33.99 511.80) scale(1.0 1)" font-size="18.2" fill="#111">TMA</text>
<text transform="translate(224.10 508.00) scale(1.0 1)" font-size="18.2" fill="#111">+</text>
<text transform="translate(269.00 508.00) scale(1.0 1)" font-size="18.2" fill="#111">+</text>
<text transform="translate(314.20 508.00) scale(1.0 1)" font-size="18.2" fill="#111">+</text>
<line x1="67.20" y1="518.90" x2="188.80" y2="518.90" stroke="#111" stroke-width="2"/>
<line x1="196.10" y1="518.90" x2="331.90" y2="518.90" stroke="#111" stroke-width="2"/>
<text transform="translate(77.90 542.40) scale(1.0 1)" font-size="18.2" fill="#111">M385C-TET</text>
<text transform="translate(190.94 542.40) scale(1.0 1)" font-size="18.2" fill="#111">dHis/M385C-TET</text>
<defs><linearGradient id="gf_tan" x1="0" y1="0" x2="0" y2="1"><stop offset="0" stop-color="#d6b690"/><stop offset="0.3" stop-color="#f9efe2"/><stop offset="0.55" stop-color="#ebd4b6"/><stop offset="1" stop-color="#d6b690"/></linearGradient><pattern id="hp_tan" patternUnits="userSpaceOnUse" x="0" y="-10" width="19.0" height="20"><g transform="translate(0 10)"><path d="M-14.75,10.0 C-11.33,10.0 -8.67,-10.0 -5.25,-10.0 L5.25,-10.0 C1.83,-10.0 -0.83,10.0 -4.25,10.0 Z" fill="#cdad88" stroke="#a3845f" stroke-width="0.6"/><path d="M4.25,10.0 C7.67,10.0 10.33,-10.0 13.75,-10.0 L24.25,-10.0 C20.83,-10.0 18.17,10.0 14.75,10.0 Z" fill="#cdad88" stroke="#a3845f" stroke-width="0.6"/><path d="M23.25,10.0 C26.67,10.0 29.33,-10.0 32.75,-10.0 L43.25,-10.0 C39.83,-10.0 37.17,10.0 33.75,10.0 Z" fill="#cdad88" stroke="#a3845f" stroke-width="0.6"/><path d="M-24.25,-10.0 C-20.83,-10.0 -18.17,10.0 -14.75,10.0 L-4.25,10.0 C-7.67,10.0 -10.33,-10.0 -13.75,-10.0 Z" fill="url(#gf_tan)" stroke="#a3845f" stroke-width="0.6"/><path d="M-5.25,-10.0 C-1.83,-10.0 0.83,10.0 4.25,10.0 L14.75,10.0 C11.33,10.0 8.67,-10.0 5.25,-10.0 Z" fill="url(#gf_tan)" stroke="#a3845f" stroke-width="0.6"/><path d="M13.75,-10.0 C17.17,-10.0 19.83,10.0 23.25,10.0 L33.75,10.0 C30.33,10.0 27.67,-10.0 24.25,-10.0 Z" fill="url(#gf_tan)" stroke="#a3845f" stroke-width="0.6"/></g></pattern><linearGradient id="gf_grey" x1="0" y1="0" x2="0" y2="1"><stop offset="0" stop-color="#b8b8b8"/><stop offset="0.3" stop-color="#f5f5f5"/><stop offset="0.55" stop-color="#d9d9d9"/><stop offset="1" stop-color="#b8b8b8"/></linearGradient><pattern id="hp_grey" patternUnits="userSpaceOnUse" x="0" y="-10" width="19.0" height="20"><g transform="translate(0 10)"><path d="M-14.75,10.0 C-11.33,10.0 -8.67,-10.0 -5.25,-10.0 L5.25,-10.0 C1.83,-10.0 -0.83,10.0 -4.25,10.0 Z" fill="#a9a9a9" stroke="#7c7c7c" stroke-width="0.6"/><path d="M4.25,10.0 C7.67,10.0 10.33,-10.0 13.75,-10.0 L24.25,-10.0 C20.83,-10.0 18.17,10.0 14.75,10.0 Z" fill="#a9a9a9" stroke="#7c7c7c" stroke-width="0.6"/><path d="M23.25,10.0 C26.67,10.0 29.33,-10.0 32.75,-10.0 L43.25,-10.0 C39.83,-10.0 37.17,10.0 33.75,10.0 Z" fill="#a9a9a9" stroke="#7c7c7c" stroke-width="0.6"/><path d="M-24.25,-10.0 C-20.83,-10.0 -18.17,10.0 -14.75,10.0 L-4.25,10.0 C-7.67,10.0 -10.33,-10.0 -13.75,-10.0 Z" fill="url(#gf_grey)" stroke="#7c7c7c" stroke-width="0.6"/><path d="M-5.25,-10.0 C-1.83,-10.0 0.83,10.0 4.25,10.0 L14.75,10.0 C11.33,10.0 8.67,-10.0 5.25,-10.0 Z" fill="url(#gf_grey)" stroke="#7c7c7c" stroke-width="0.6"/><path d="M13.75,-10.0 C17.17,-10.0 19.83,10.0 23.25,10.0 L33.75,10.0 C30.33,10.0 27.67,-10.0 24.25,-10.0 Z" fill="url(#gf_grey)" stroke="#7c7c7c" stroke-width="0.6"/></g></pattern><linearGradient id="gf_blue" x1="0" y1="0" x2="0" y2="1"><stop offset="0" stop-color="#1a6acb"/><stop offset="0.3" stop-color="#66b0f5"/><stop offset="0.55" stop-color="#2884e4"/><stop offset="1" stop-color="#1a6acb"/></linearGradient><pattern id="hp_blue" patternUnits="userSpaceOnUse" x="0" y="-10" width="19.0" height="20"><g transform="translate(0 10)"><path d="M-14.75,10.0 C-11.33,10.0 -8.67,-10.0 -5.25,-10.0 L5.25,-10.0 C1.83,-10.0 -0.83,10.0 -4.25,10.0 Z" fill="#1456ad" stroke="#0b4288" stroke-width="0.6"/><path d="M4.25,10.0 C7.67,10.0 10.33,-10.0 13.75,-10.0 L24.25,-10.0 C20.83,-10.0 18.17,10.0 14.75,10.0 Z" fill="#1456ad" stroke="#0b4288" stroke-width="0.6"/><path d="M23.25,10.0 C26.67,10.0 29.33,-10.0 32.75,-10.0 L43.25,-10.0 C39.83,-10.0 37.17,10.0 33.75,10.0 Z" fill="#1456ad" stroke="#0b4288" stroke-width="0.6"/><path d="M-24.25,-10.0 C-20.83,-10.0 -18.17,10.0 -14.75,10.0 L-4.25,10.0 C-7.67,10.0 -10.33,-10.0 -13.75,-10.0 Z" fill="url(#gf_blue)" stroke="#0b4288" stroke-width="0.6"/><path d="M-5.25,-10.0 C-1.83,-10.0 0.83,10.0 4.25,10.0 L14.75,10.0 C11.33,10.0 8.67,-10.0 5.25,-10.0 Z" fill="url(#gf_blue)" stroke="#0b4288" stroke-width="0.6"/><path d="M13.75,-10.0 C17.17,-10.0 19.83,10.0 23.25,10.0 L33.75,10.0 C30.33,10.0 27.67,-10.0 24.25,-10.0 Z" fill="url(#gf_blue)" stroke="#0b4288" stroke-width="0.6"/></g></pattern></defs>
<defs>
<radialGradient id="gcy" cx="0.4" cy="0.4" r="0.65"><stop offset="0" stop-color="#f4ffff"/><stop offset="0.55" stop-color="#7ff4fa"/><stop offset="1" stop-color="#1ee3f0"/></radialGradient>
<radialGradient id="gpk" cx="0.4" cy="0.4" r="0.65"><stop offset="0" stop-color="#ffffff"/><stop offset="0.6" stop-color="#fbd3f6"/><stop offset="1" stop-color="#eeaee6"/></radialGradient>
<radialGradient id="grd" cx="0.35" cy="0.35" r="0.7"><stop offset="0" stop-color="#f07070"/><stop offset="1" stop-color="#a01818"/></radialGradient>
<radialGradient id="ggr" cx="0.35" cy="0.35" r="0.7"><stop offset="0" stop-color="#80f080"/><stop offset="1" stop-color="#18a018"/></radialGradient>
<radialGradient id="gbl" cx="0.35" cy="0.35" r="0.7"><stop offset="0" stop-color="#6070f8"/><stop offset="1" stop-color="#1010a0"/></radialGradient>
</defs>
<path d="M214.0,600.0 C214.3,598.3 215.0,593.0 216.0,590.0 C217.0,587.0 217.7,583.5 220.0,582.0 C222.3,580.5 227.3,580.3 230.0,581.0 C232.7,581.7 235.5,583.5 236.0,586.0 C236.5,588.5 232.3,593.3 233.0,596.0 C233.7,598.7 236.5,600.3 240.0,602.0 C243.5,603.7 250.2,603.3 254.0,606.0 C257.8,608.7 259.0,614.3 263.0,618.0 C267.0,621.7 274.2,624.3 278.0,628.0 C281.8,631.7 284.0,635.5 286.0,640.0 C288.0,644.5 288.0,649.7 290.0,655.0 C292.0,660.3 295.7,666.2 298.0,672.0 C300.3,677.8 303.0,687.0 304.0,690.0" fill="none" stroke="#a3845f" stroke-width="3.2" stroke-linejoin="round" stroke-linecap="round"/>
<path d="M214.0,600.0 C214.3,598.3 215.0,593.0 216.0,590.0 C217.0,587.0 217.7,583.5 220.0,582.0 C222.3,580.5 227.3,580.3 230.0,581.0 C232.7,581.7 235.5,583.5 236.0,586.0 C236.5,588.5 232.3,593.3 233.0,596.0 C233.7,598.7 236.5,600.3 240.0,602.0 C243.5,603.7 250.2,603.3 254.0,606.0 C257.8,608.7 259.0,614.3 263.0,618.0 C267.0,621.7 274.2,624.3 278.0,628.0 C281.8,631.7 284.0,635.5 286.0,640.0 C288.0,644.5 288.0,649.7 290.0,655.0 C292.0,660.3 295.7,666.2 298.0,672.0 C300.3,677.8 303.0,687.0 304.0,690.0" fill="none" stroke="#ebd4b6" stroke-width="2.2" stroke-linejoin="round" stroke-linecap="round"/>
<path d="M218.0,598.0 C218.7,596.0 219.7,588.3 222.0,586.0 C224.3,583.7 229.3,583.0 232.0,584.0 C234.7,585.0 235.0,588.8 238.0,592.0 C241.0,595.2 246.0,599.3 250.0,603.0 C254.0,606.7 257.0,610.5 262.0,614.0 C267.0,617.5 277.0,622.3 280.0,624.0" fill="none" stroke="#7c7c7c" stroke-width="2.9" stroke-linejoin="round" stroke-linecap="round"/>
<path d="M218.0,598.0 C218.7,596.0 219.7,588.3 222.0,586.0 C224.3,583.7 229.3,583.0 232.0,584.0 C234.7,585.0 235.0,588.8 238.0,592.0 C241.0,595.2 246.0,599.3 250.0,603.0 C254.0,606.7 257.0,610.5 262.0,614.0 C267.0,617.5 277.0,622.3 280.0,624.0" fill="none" stroke="#d9d9d9" stroke-width="1.9" stroke-linejoin="round" stroke-linecap="round"/>
<path d="M246.0,600.0 C246.7,598.3 248.2,592.2 250.0,590.0 C251.8,587.8 255.0,586.3 257.0,587.0 C259.0,587.7 259.5,591.5 262.0,594.0 C264.5,596.5 270.2,598.5 272.0,602.0 C273.8,605.5 271.3,611.3 273.0,615.0 C274.7,618.7 280.5,622.5 282.0,624.0" fill="none" stroke="#0b4288" stroke-width="3.0" stroke-linejoin="round" stroke-linecap="round"/>
<path d="M246.0,600.0 C246.7,598.3 248.2,592.2 250.0,590.0 C251.8,587.8 255.0,586.3 257.0,587.0 C259.0,587.7 259.5,591.5 262.0,594.0 C264.5,596.5 270.2,598.5 272.0,602.0 C273.8,605.5 271.3,611.3 273.0,615.0 C274.7,618.7 280.5,622.5 282.0,624.0" fill="none" stroke="#2884e4" stroke-width="2.0" stroke-linejoin="round" stroke-linecap="round"/>
<path d="M176.0,624.0 C176.7,622.8 178.0,618.3 180.0,617.0 C182.0,615.7 185.7,615.2 188.0,616.0 C190.3,616.8 193.0,621.0 194.0,622.0" fill="none" stroke="#0b4288" stroke-width="3.0" stroke-linejoin="round" stroke-linecap="round"/>
<path d="M176.0,624.0 C176.7,622.8 178.0,618.3 180.0,617.0 C182.0,615.7 185.7,615.2 188.0,616.0 C190.3,616.8 193.0,621.0 194.0,622.0" fill="none" stroke="#2884e4" stroke-width="2.0" stroke-linejoin="round" stroke-linecap="round"/>
<path d="M156.0,642.0 C156.7,641.0 158.0,637.3 160.0,636.0 C162.0,634.7 165.3,633.7 168.0,634.0 C170.7,634.3 174.0,636.0 176.0,638.0 C178.0,640.0 179.3,644.7 180.0,646.0" fill="none" stroke="#a3845f" stroke-width="3.2" stroke-linejoin="round" stroke-linecap="round"/>
<path d="M156.0,642.0 C156.7,641.0 158.0,637.3 160.0,636.0 C162.0,634.7 165.3,633.7 168.0,634.0 C170.7,634.3 174.0,636.0 176.0,638.0 C178.0,640.0 179.3,644.7 180.0,646.0" fill="none" stroke="#ebd4b6" stroke-width="2.2" stroke-linejoin="round" stroke-linecap="round"/>
<g transform="translate(197.4 618.2) rotate(85.9) scale(1.100) translate(-5.0 0)"><rect x="5.0" y="-10" width="76.6" height="20" fill="url(#hp_grey)"/></g>
<g transform="translate(200.0 618.0) rotate(85.9) scale(1.100) translate(-0.0 0)"><rect x="0.0" y="-10" width="76.6" height="20" fill="url(#hp_blue)"/></g>
<g transform="translate(217.4 616.1) rotate(86.9) scale(1.100) translate(-5.0 0)"><rect x="5.0" y="-10" width="67.4" height="20" fill="url(#hp_blue)"/></g>
<g transform="translate(220.0 616.0) rotate(86.9) scale(1.100) translate(-0.0 0)"><rect x="0.0" y="-10" width="67.4" height="20" fill="url(#hp_grey)"/></g>
<g transform="translate(235.7 609.1) rotate(64.5) scale(1.000) translate(-5.0 0)"><rect x="5.0" y="-10" width="46.5" height="20" fill="url(#hp_grey)"/></g>
<g transform="translate(238.0 608.0) rotate(64.5) scale(1.000) translate(-0.0 0)"><rect x="0.0" y="-10" width="46.5" height="20" fill="url(#hp_blue)"/></g>
<g transform="translate(233.5 604.7) rotate(74.5) scale(1.100) translate(-5.0 0)"><rect x="5.0" y="-10" width="34.0" height="20" fill="url(#hp_blue)"/></g>
<g transform="translate(236.0 604.0) rotate(74.5) scale(1.100) translate(-0.0 0)"><rect x="0.0" y="-10" width="34.0" height="20" fill="url(#hp_grey)"/></g>
<g transform="translate(251.1 647.4) rotate(20.6) scale(1.100) translate(-5.0 0)"><rect x="5.0" y="-10" width="38.8" height="20" fill="url(#hp_grey)"/></g>
<g transform="translate(252.0 645.0) rotate(20.6) scale(1.100) translate(-0.0 0)"><rect x="0.0" y="-10" width="38.8" height="20" fill="url(#hp_blue)"/></g>
<g transform="translate(261.2 626.9) rotate(42.8) scale(1.000) translate(-5.0 0)"><rect x="5.0" y="-10" width="36.8" height="20" fill="url(#hp_grey)"/></g>
<g transform="translate(263.0 625.0) rotate(42.8) scale(1.000) translate(-0.0 0)"><rect x="0.0" y="-10" width="36.8" height="20" fill="url(#hp_blue)"/></g>
<g transform="translate(257.7 669.3) rotate(59.9) scale(1.000) translate(-5.0 0)"><rect x="5.0" y="-10" width="43.9" height="20" fill="url(#hp_grey)"/></g>
<g transform="translate(260.0 668.0) rotate(59.9) scale(1.000) translate(-0.0 0)"><rect x="0.0" y="-10" width="43.9" height="20" fill="url(#hp_blue)"/></g>
<g transform="translate(233.5 655.8) rotate(72.7) scale(1.000) translate(-5.0 0)"><rect x="5.0" y="-10" width="47.1" height="20" fill="url(#hp_blue)"/></g>
<g transform="translate(236.0 655.0) rotate(72.7) scale(1.000) translate(-0.0 0)"><rect x="0.0" y="-10" width="47.1" height="20" fill="url(#hp_grey)"/></g>
<g transform="translate(229.6 666.6) rotate(9.9) scale(0.900) translate(-5.0 0)"><rect x="5.0" y="-10" width="51.9" height="20" fill="url(#hp_grey)"/></g>
<g transform="translate(230.0 664.0) rotate(9.9) scale(0.900) translate(-0.0 0)"><rect x="0.0" y="-10" width="51.9" height="20" fill="url(#hp_blue)"/></g>
<g transform="translate(183.6 703.0) rotate(67.4) scale(1.100) translate(-5.0 0)"><rect x="5.0" y="-10" width="47.3" height="20" fill="url(#hp_grey)"/></g>
<g transform="translate(186.0 702.0) rotate(67.4) scale(1.100) translate(-0.0 0)"><rect x="0.0" y="-10" width="47.3" height="20" fill="url(#hp_blue)"/></g>
<g transform="translate(210.1 719.8) rotate(47.6) scale(1.100) translate(-5.0 0)"><rect x="5.0" y="-10" width="41.8" height="20" fill="url(#hp_grey)"/></g>
<g transform="translate(212.0 718.0) rotate(47.6) scale(1.100) translate(-0.0 0)"><rect x="0.0" y="-10" width="41.8" height="20" fill="url(#hp_blue)"/></g>
<g transform="translate(242.9 701.6) rotate(53.1) scale(1.000) translate(-5.0 0)"><rect x="5.0" y="-10" width="45.0" height="20" fill="url(#hp_grey)"/></g>
<g transform="translate(245.0 700.0) rotate(53.1) scale(1.000) translate(-0.0 0)"><rect x="0.0" y="-10" width="45.0" height="20" fill="url(#hp_blue)"/></g>
<g transform="translate(234.2 689.9) rotate(42.7) scale(1.000) translate(-5.0 0)"><rect x="5.0" y="-10" width="35.4" height="20" fill="url(#hp_grey)"/></g>
<g transform="translate(236.0 688.0) rotate(42.7) scale(1.000) translate(-0.0 0)"><rect x="0.0" y="-10" width="35.4" height="20" fill="url(#hp_blue)"/></g>
<g transform="translate(194.6 710.2) rotate(33.7) scale(1.000) translate(-5.0 0)"><rect x="5.0" y="-10" width="36.1" height="20" fill="url(#hp_grey)"/></g>
<g transform="translate(196.0 708.0) rotate(33.7) scale(1.000) translate(-0.0 0)"><rect x="0.0" y="-10" width="36.1" height="20" fill="url(#hp_blue)"/></g>
<g transform="translate(131.4 626.4) rotate(80.5) scale(0.800) translate(-5.0 0)"><rect x="5.0" y="-10" width="30.4" height="20" fill="url(#hp_grey)"/></g>
<g transform="translate(134.0 626.0) rotate(80.5) scale(0.800) translate(-0.0 0)"><rect x="0.0" y="-10" width="30.4" height="20" fill="url(#hp_tan)"/></g>
<g transform="translate(145.5 640.5) rotate(78.7) scale(0.900) translate(-5.0 0)"><rect x="5.0" y="-10" width="68.0" height="20" fill="url(#hp_grey)"/></g>
<g transform="translate(148.0 640.0) rotate(78.7) scale(0.900) translate(-0.0 0)"><rect x="0.0" y="-10" width="68.0" height="20" fill="url(#hp_tan)"/></g>
<g transform="translate(132.4 640.2) rotate(85.8) scale(1.100) translate(-5.0 0)"><rect x="5.0" y="-10" width="100.3" height="20" fill="url(#hp_grey)"/></g>
<g transform="translate(135.0 640.0) rotate(85.8) scale(1.100) translate(-0.0 0)"><rect x="0.0" y="-10" width="100.3" height="20" fill="url(#hp_tan)"/></g>
<g transform="translate(149.4 665.4) rotate(81.1) scale(0.900) translate(-5.0 0)"><rect x="5.0" y="-10" width="93.3" height="20" fill="url(#hp_grey)"/></g>
<g transform="translate(152.0 665.0) rotate(81.1) scale(0.900) translate(-0.0 0)"><rect x="0.0" y="-10" width="93.3" height="20" fill="url(#hp_tan)"/></g>
<g transform="translate(148.4 692.1) rotate(36.9) scale(1.100) translate(-5.0 0)"><rect x="5.0" y="-10" width="68.2" height="20" fill="url(#hp_grey)"/></g>
<g transform="translate(150.0 690.0) rotate(36.9) scale(1.100) translate(-0.0 0)"><rect x="0.0" y="-10" width="68.2" height="20" fill="url(#hp_tan)"/></g>
<g transform="translate(245.2 723.9) rotate(44.1) scale(1.200) translate(-5.0 0)"><rect x="5.0" y="-10" width="35.9" height="20" fill="url(#hp_grey)"/></g>
<g transform="translate(247.0 722.0) rotate(44.1) scale(1.200) translate(-0.0 0)"><rect x="0.0" y="-10" width="35.9" height="20" fill="url(#hp_tan)"/></g>
<g transform="translate(197.2 738.9) rotate(43.7) scale(1.100) translate(-5.0 0)"><rect x="5.0" y="-10" width="82.9" height="20" fill="url(#hp_grey)"/></g>
<g transform="translate(199.0 737.0) rotate(43.7) scale(1.100) translate(-0.0 0)"><rect x="0.0" y="-10" width="82.9" height="20" fill="url(#hp_tan)"/></g>
<g transform="translate(157.1 739.8) rotate(46.3) scale(1.000) translate(-5.0 0)"><rect x="5.0" y="-10" width="63.7" height="20" fill="url(#hp_grey)"/></g>
<g transform="translate(159.0 738.0) rotate(46.3) scale(1.000) translate(-0.0 0)"><rect x="0.0" y="-10" width="63.7" height="20" fill="url(#hp_tan)"/></g>
<g transform="translate(198.4 786.0) rotate(38.0) scale(1.000) translate(-5.0 0)"><rect x="5.0" y="-10" width="139.6" height="20" fill="url(#hp_tan)"/></g>
<g transform="translate(200.0 784.0) rotate(38.0) scale(1.000) translate(-0.0 0)"><rect x="0.0" y="-10" width="139.6" height="20" fill="url(#hp_grey)"/></g>
<g transform="translate(275.4 752.4) rotate(80.5) scale(1.000) translate(-5.0 0)"><rect x="5.0" y="-10" width="115.6" height="20" fill="url(#hp_grey)"/></g>
<g transform="translate(278.0 752.0) rotate(80.5) scale(1.000) translate(-0.0 0)"><rect x="0.0" y="-10" width="115.6" height="20" fill="url(#hp_tan)"/></g>
<g transform="translate(305.4 692.2) rotate(85.0) scale(1.000) translate(-5.0 0)"><rect x="5.0" y="-10" width="46.2" height="20" fill="url(#hp_grey)"/></g>
<g transform="translate(308.0 692.0) rotate(85.0) scale(1.000) translate(-0.0 0)"><rect x="0.0" y="-10" width="46.2" height="20" fill="url(#hp_tan)"/></g>
<g transform="translate(97.8 772.6) rotate(3.8) scale(1.100) translate(-5.0 0)"><rect x="5.0" y="-10" width="27.3" height="20" fill="url(#hp_grey)"/></g>
<g transform="translate(98.0 770.0) rotate(3.8) scale(1.100) translate(-0.0 0)"><rect x="0.0" y="-10" width="27.3" height="20" fill="url(#hp_tan)"/></g>
<path d="M312.0,738.0 C310.0,740.0 303.0,746.7 300.0,750.0 C297.0,753.3 295.0,756.7 294.0,758.0" fill="none" stroke="#a3845f" stroke-width="3.2" stroke-linejoin="round" stroke-linecap="round"/>
<path d="M312.0,738.0 C310.0,740.0 303.0,746.7 300.0,750.0 C297.0,753.3 295.0,756.7 294.0,758.0" fill="none" stroke="#ebd4b6" stroke-width="2.2" stroke-linejoin="round" stroke-linecap="round"/>
<path d="M300.0,858.0 C301.7,856.7 307.0,850.3 310.0,850.0 C313.0,849.7 316.2,853.0 318.0,856.0 C319.8,859.0 321.7,864.7 321.0,868.0 C320.3,871.3 317.2,875.0 314.0,876.0 C310.8,877.0 304.0,874.3 302.0,874.0" fill="none" stroke="#7c7c7c" stroke-width="3.2" stroke-linejoin="round" stroke-linecap="round"/>
<path d="M300.0,858.0 C301.7,856.7 307.0,850.3 310.0,850.0 C313.0,849.7 316.2,853.0 318.0,856.0 C319.8,859.0 321.7,864.7 321.0,868.0 C320.3,871.3 317.2,875.0 314.0,876.0 C310.8,877.0 304.0,874.3 302.0,874.0" fill="none" stroke="#d9d9d9" stroke-width="2.2" stroke-linejoin="round" stroke-linecap="round"/>
<path d="M302.0,860.0 C303.5,858.8 308.2,853.0 311.0,853.0 C313.8,853.0 317.8,857.0 319.0,860.0 C320.2,863.0 319.8,868.7 318.0,871.0 C316.2,873.3 309.7,873.5 308.0,874.0" fill="none" stroke="#a3845f" stroke-width="2.8" stroke-linejoin="round" stroke-linecap="round"/>
<path d="M302.0,860.0 C303.5,858.8 308.2,853.0 311.0,853.0 C313.8,853.0 317.8,857.0 319.0,860.0 C320.2,863.0 319.8,868.7 318.0,871.0 C316.2,873.3 309.7,873.5 308.0,874.0" fill="none" stroke="#ebd4b6" stroke-width="1.8" stroke-linejoin="round" stroke-linecap="round"/>
<path d="M262.0,798.0 C263.3,797.3 267.7,793.7 270.0,794.0 C272.3,794.3 275.7,797.0 276.0,800.0 C276.3,803.0 273.7,809.3 272.0,812.0 C270.3,814.7 267.0,815.3 266.0,816.0" fill="none" stroke="#7c7c7c" stroke-width="3.0" stroke-linejoin="round" stroke-linecap="round"/>
<path d="M262.0,798.0 C263.3,797.3 267.7,793.7 270.0,794.0 C272.3,794.3 275.7,797.0 276.0,800.0 C276.3,803.0 273.7,809.3 272.0,812.0 C270.3,814.7 267.0,815.3 266.0,816.0" fill="none" stroke="#d9d9d9" stroke-width="2.0" stroke-linejoin="round" stroke-linecap="round"/>
<path d="M392.0,640.0 C393.3,639.3 398.0,635.0 400.0,636.0 C402.0,637.0 404.7,643.7 404.0,646.0 C403.3,648.3 397.3,649.3 396.0,650.0" fill="none" stroke="#7c7c7c" stroke-width="3.0" stroke-linejoin="round" stroke-linecap="round"/>
<path d="M392.0,640.0 C393.3,639.3 398.0,635.0 400.0,636.0 C402.0,637.0 404.7,643.7 404.0,646.0 C403.3,648.3 397.3,649.3 396.0,650.0" fill="none" stroke="#d9d9d9" stroke-width="2.0" stroke-linejoin="round" stroke-linecap="round"/>
<path d="M505.0,606.0 C505.5,604.7 506.2,600.3 508.0,598.0 C509.8,595.7 512.7,593.3 516.0,592.0 C519.3,590.7 525.2,590.7 528.0,590.0 C530.8,589.3 532.2,588.3 533.0,588.0" fill="none" stroke="#7c7c7c" stroke-width="3.2" stroke-linejoin="round" stroke-linecap="round"/>
<path d="M505.0,606.0 C505.5,604.7 506.2,600.3 508.0,598.0 C509.8,595.7 512.7,593.3 516.0,592.0 C519.3,590.7 525.2,590.7 528.0,590.0 C530.8,589.3 532.2,588.3 533.0,588.0" fill="none" stroke="#d9d9d9" stroke-width="2.2" stroke-linejoin="round" stroke-linecap="round"/>
<path d="M522.0,604.0 C523.3,603.0 527.0,597.7 530.0,598.0 C533.0,598.3 536.3,604.0 540.0,606.0 C543.7,608.0 549.0,608.0 552.0,610.0 C555.0,612.0 555.3,614.7 558.0,618.0 C560.7,621.3 565.3,626.3 568.0,630.0 C570.7,633.7 572.0,637.0 574.0,640.0 C576.0,643.0 579.0,646.7 580.0,648.0" fill="none" stroke="#7c7c7c" stroke-width="3.2" stroke-linejoin="round" stroke-linecap="round"/>
<path d="M522.0,604.0 C523.3,603.0 527.0,597.7 530.0,598.0 C533.0,598.3 536.3,604.0 540.0,606.0 C543.7,608.0 549.0,608.0 552.0,610.0 C555.0,612.0 555.3,614.7 558.0,618.0 C560.7,621.3 565.3,626.3 568.0,630.0 C570.7,633.7 572.0,637.0 574.0,640.0 C576.0,643.0 579.0,646.7 580.0,648.0" fill="none" stroke="#d9d9d9" stroke-width="2.2" stroke-linejoin="round" stroke-linecap="round"/>
<path d="M494.0,607.0 C494.7,606.3 496.2,602.2 498.0,603.0 C499.8,603.8 503.3,609.2 505.0,612.0 C506.7,614.8 507.5,618.7 508.0,620.0" fill="none" stroke="#0b4288" stroke-width="3.0" stroke-linejoin="round" stroke-linecap="round"/>
<path d="M494.0,607.0 C494.7,606.3 496.2,602.2 498.0,603.0 C499.8,603.8 503.3,609.2 505.0,612.0 C506.7,614.8 507.5,618.7 508.0,620.0" fill="none" stroke="#2884e4" stroke-width="2.0" stroke-linejoin="round" stroke-linecap="round"/>
<path d="M526.0,600.0 C527.3,600.3 530.7,600.3 534.0,602.0 C537.3,603.7 542.3,608.0 546.0,610.0 C549.7,612.0 553.3,611.3 556.0,614.0 C558.7,616.7 559.7,622.7 562.0,626.0 C564.3,629.3 567.5,633.7 570.0,634.0 C572.5,634.3 575.3,626.2 577.0,628.0 C578.7,629.8 579.5,642.2 580.0,645.0" fill="none" stroke="#0b4288" stroke-width="3.0" stroke-linejoin="round" stroke-linecap="round"/>
<path d="M526.0,600.0 C527.3,600.3 530.7,600.3 534.0,602.0 C537.3,603.7 542.3,608.0 546.0,610.0 C549.7,612.0 553.3,611.3 556.0,614.0 C558.7,616.7 559.7,622.7 562.0,626.0 C564.3,629.3 567.5,633.7 570.0,634.0 C572.5,634.3 575.3,626.2 577.0,628.0 C578.7,629.8 579.5,642.2 580.0,645.0" fill="none" stroke="#2884e4" stroke-width="2.0" stroke-linejoin="round" stroke-linecap="round"/>
<path d="M472.0,632.0 C473.3,630.8 477.0,625.3 480.0,625.0 C483.0,624.7 488.3,629.2 490.0,630.0" fill="none" stroke="#0b4288" stroke-width="3.0" stroke-linejoin="round" stroke-linecap="round"/>
<path d="M472.0,632.0 C473.3,630.8 477.0,625.3 480.0,625.0 C483.0,624.7 488.3,629.2 490.0,630.0" fill="none" stroke="#2884e4" stroke-width="2.0" stroke-linejoin="round" stroke-linecap="round"/>
<g transform="translate(477.4 637.2) rotate(84.8) scale(1.300) translate(-5.0 0)"><rect x="5.0" y="-10" width="75.7" height="20" fill="url(#hp_grey)"/></g>
<g transform="translate(480.0 637.0) rotate(84.8) scale(1.300) translate(-0.0 0)"><rect x="0.0" y="-10" width="75.7" height="20" fill="url(#hp_blue)"/></g>
<g transform="translate(505.4 614.3) rotate(83.3) scale(1.300) translate(-5.0 0)"><rect x="5.0" y="-10" width="52.7" height="20" fill="url(#hp_grey)"/></g>
<g transform="translate(508.0 614.0) rotate(83.3) scale(1.300) translate(-0.0 0)"><rect x="0.0" y="-10" width="52.7" height="20" fill="url(#hp_blue)"/></g>
<g transform="translate(525.5 622.7) rotate(74.1) scale(1.100) translate(-5.0 0)"><rect x="5.0" y="-10" width="39.7" height="20" fill="url(#hp_grey)"/></g>
<g transform="translate(528.0 622.0) rotate(74.1) scale(1.100) translate(-0.0 0)"><rect x="0.0" y="-10" width="39.7" height="20" fill="url(#hp_blue)"/></g>
<g transform="translate(544.2 642.5) rotate(16.9) scale(1.000) translate(-5.0 0)"><rect x="5.0" y="-10" width="34.5" height="20" fill="url(#hp_grey)"/></g>
<g transform="translate(545.0 640.0) rotate(16.9) scale(1.000) translate(-0.0 0)"><rect x="0.0" y="-10" width="34.5" height="20" fill="url(#hp_blue)"/></g>
<g transform="translate(487.7 701.2) rotate(63.4) scale(1.100) translate(-5.0 0)"><rect x="5.0" y="-10" width="40.7" height="20" fill="url(#hp_grey)"/></g>
<g transform="translate(490.0 700.0) rotate(63.4) scale(1.100) translate(-0.0 0)"><rect x="0.0" y="-10" width="40.7" height="20" fill="url(#hp_blue)"/></g>
<g transform="translate(504.1 691.8) rotate(45.7) scale(1.100) translate(-5.0 0)"><rect x="5.0" y="-10" width="50.8" height="20" fill="url(#hp_grey)"/></g>
<g transform="translate(506.0 690.0) rotate(45.7) scale(1.100) translate(-0.0 0)"><rect x="0.0" y="-10" width="50.8" height="20" fill="url(#hp_blue)"/></g>
<g transform="translate(549.8 685.4) rotate(58.2) scale(1.100) translate(-5.0 0)"><rect x="5.0" y="-10" width="44.9" height="20" fill="url(#hp_grey)"/></g>
<g transform="translate(552.0 684.0) rotate(58.2) scale(1.100) translate(-0.0 0)"><rect x="0.0" y="-10" width="44.9" height="20" fill="url(#hp_blue)"/></g>
<g transform="translate(529.2 686.3) rotate(-26.6) scale(1.300) translate(-5.0 0)"><rect x="5.0" y="-10" width="49.9" height="20" fill="url(#hp_grey)"/></g>
<g transform="translate(528.0 684.0) rotate(-26.6) scale(1.300) translate(-0.0 0)"><rect x="0.0" y="-10" width="49.9" height="20" fill="url(#hp_blue)"/></g>
<g transform="translate(467.9 731.6) rotate(52.4) scale(1.100) translate(-5.0 0)"><rect x="5.0" y="-10" width="59.6" height="20" fill="url(#hp_grey)"/></g>
<g transform="translate(470.0 730.0) rotate(52.4) scale(1.100) translate(-0.0 0)"><rect x="0.0" y="-10" width="59.6" height="20" fill="url(#hp_blue)"/></g>
<g transform="translate(512.8 736.4) rotate(56.3) scale(1.100) translate(-5.0 0)"><rect x="5.0" y="-10" width="49.2" height="20" fill="url(#hp_grey)"/></g>
<g transform="translate(515.0 735.0) rotate(56.3) scale(1.100) translate(-0.0 0)"><rect x="0.0" y="-10" width="49.2" height="20" fill="url(#hp_blue)"/></g>
<g transform="translate(391.5 662.7) rotate(74.4) scale(1.100) translate(-5.0 0)"><rect x="5.0" y="-10" width="87.8" height="20" fill="url(#hp_tan)"/></g>
<g transform="translate(394.0 662.0) rotate(74.4) scale(1.100) translate(-0.0 0)"><rect x="0.0" y="-10" width="87.8" height="20" fill="url(#hp_grey)"/></g>
<g transform="translate(420.5 671.6) rotate(76.4) scale(1.000) translate(-5.0 0)"><rect x="5.0" y="-10" width="93.6" height="20" fill="url(#hp_grey)"/></g>
<g transform="translate(423.0 671.0) rotate(76.4) scale(1.000) translate(-0.0 0)"><rect x="0.0" y="-10" width="93.6" height="20" fill="url(#hp_tan)"/></g>
<g transform="translate(409.6 634.0) rotate(66.2) scale(1.100) translate(-5.0 0)"><rect x="5.0" y="-10" width="92.4" height="20" fill="url(#hp_grey)"/></g>
<g transform="translate(412.0 633.0) rotate(66.2) scale(1.100) translate(-0.0 0)"><rect x="0.0" y="-10" width="92.4" height="20" fill="url(#hp_tan)"/></g>
<g transform="translate(447.6 695.2) rotate(33.5) scale(1.200) translate(-5.0 0)"><rect x="5.0" y="-10" width="77.0" height="20" fill="url(#hp_grey)"/></g>
<g transform="translate(449.0 693.0) rotate(33.5) scale(1.200) translate(-0.0 0)"><rect x="0.0" y="-10" width="77.0" height="20" fill="url(#hp_tan)"/></g>
<g transform="translate(524.7 728.2) rotate(31.2) scale(1.000) translate(-5.0 0)"><rect x="5.0" y="-10" width="50.2" height="20" fill="url(#hp_tan)"/></g>
<g transform="translate(526.0 726.0) rotate(31.2) scale(1.000) translate(-0.0 0)"><rect x="0.0" y="-10" width="50.2" height="20" fill="url(#hp_grey)"/></g>
<g transform="translate(458.3 761.0) rotate(39.9) scale(1.100) translate(-5.0 0)"><rect x="5.0" y="-10" width="160.0" height="20" fill="url(#hp_tan)"/></g>
<g transform="translate(460.0 759.0) rotate(39.9) scale(1.100) translate(-0.0 0)"><rect x="0.0" y="-10" width="160.0" height="20" fill="url(#hp_grey)"/></g>
<g transform="translate(559.5 733.6) rotate(76.3) scale(1.100) translate(-5.0 0)"><rect x="5.0" y="-10" width="126.3" height="20" fill="url(#hp_grey)"/></g>
<g transform="translate(562.0 733.0) rotate(76.3) scale(1.100) translate(-0.0 0)"><rect x="0.0" y="-10" width="126.3" height="20" fill="url(#hp_tan)"/></g>
<g transform="translate(515.7 745.3) rotate(60.8) scale(1.100) translate(-5.0 0)"><rect x="5.0" y="-10" width="61.5" height="20" fill="url(#hp_grey)"/></g>
<g transform="translate(518.0 744.0) rotate(60.8) scale(1.100) translate(-0.0 0)"><rect x="0.0" y="-10" width="61.5" height="20" fill="url(#hp_tan)"/></g>
<g transform="translate(380.0 773.6) rotate(0.0) scale(1.100) translate(-5.0 0)"><rect x="5.0" y="-10" width="38.2" height="20" fill="url(#hp_grey)"/></g>
<g transform="translate(380.0 771.0) rotate(0.0) scale(1.100) translate(-0.0 0)"><rect x="0.0" y="-10" width="38.2" height="20" fill="url(#hp_tan)"/></g>
<g transform="translate(595.4 692.0) rotate(90.0) scale(1.000) translate(-5.0 0)"><rect x="5.0" y="-10" width="50.0" height="20" fill="url(#hp_grey)"/></g>
<g transform="translate(598.0 692.0) rotate(90.0) scale(1.000) translate(-0.0 0)"><rect x="0.0" y="-10" width="50.0" height="20" fill="url(#hp_tan)"/></g>
<path d="M598.0,692.0 C599.0,690.0 602.0,682.7 604.0,680.0 C606.0,677.3 609.0,676.7 610.0,676.0" fill="none" stroke="#a3845f" stroke-width="3.2" stroke-linejoin="round" stroke-linecap="round"/>
<path d="M598.0,692.0 C599.0,690.0 602.0,682.7 604.0,680.0 C606.0,677.3 609.0,676.7 610.0,676.0" fill="none" stroke="#ebd4b6" stroke-width="2.2" stroke-linejoin="round" stroke-linecap="round"/>
<path d="M585.0,858.0 C587.0,856.7 593.3,850.5 597.0,850.0 C600.7,849.5 604.7,852.0 607.0,855.0 C609.3,858.0 611.7,864.3 611.0,868.0 C610.3,871.7 606.5,876.0 603.0,877.0 C599.5,878.0 592.2,874.5 590.0,874.0" fill="none" stroke="#7c7c7c" stroke-width="3.2" stroke-linejoin="round" stroke-linecap="round"/>
<path d="M585.0,858.0 C587.0,856.7 593.3,850.5 597.0,850.0 C600.7,849.5 604.7,852.0 607.0,855.0 C609.3,858.0 611.7,864.3 611.0,868.0 C610.3,871.7 606.5,876.0 603.0,877.0 C599.5,878.0 592.2,874.5 590.0,874.0" fill="none" stroke="#d9d9d9" stroke-width="2.2" stroke-linejoin="round" stroke-linecap="round"/>
<path d="M588.0,860.0 C589.7,858.8 595.0,853.0 598.0,853.0 C601.0,853.0 604.8,857.0 606.0,860.0 C607.2,863.0 606.8,868.7 605.0,871.0 C603.2,873.3 596.7,873.5 595.0,874.0" fill="none" stroke="#a3845f" stroke-width="2.8" stroke-linejoin="round" stroke-linecap="round"/>
<path d="M588.0,860.0 C589.7,858.8 595.0,853.0 598.0,853.0 C601.0,853.0 604.8,857.0 606.0,860.0 C607.2,863.0 606.8,868.7 605.0,871.0 C603.2,873.3 596.7,873.5 595.0,874.0" fill="none" stroke="#ebd4b6" stroke-width="1.8" stroke-linejoin="round" stroke-linecap="round"/>
<path d="M560.0,782.0 C561.7,781.3 567.2,777.3 570.0,778.0 C572.8,778.7 576.7,782.7 577.0,786.0 C577.3,789.3 572.8,796.0 572.0,798.0" fill="none" stroke="#a3845f" stroke-width="3.0" stroke-linejoin="round" stroke-linecap="round"/>
<path d="M560.0,782.0 C561.7,781.3 567.2,777.3 570.0,778.0 C572.8,778.7 576.7,782.7 577.0,786.0 C577.3,789.3 572.8,796.0 572.0,798.0" fill="none" stroke="#ebd4b6" stroke-width="2.0" stroke-linejoin="round" stroke-linecap="round"/>
<line x1="46.1" y1="654.1" x2="610.3" y2="654.1" stroke="#fbf3c0" stroke-width="1"/>
<line x1="46.1" y1="654.1" x2="610.3" y2="654.1" stroke="#747474" stroke-width="2.2" stroke-dasharray="14 14.3" stroke-dashoffset="6.2"/>
<line x1="46.1" y1="758.5" x2="610.3" y2="758.5" stroke="#fbf3c0" stroke-width="1"/>
<line x1="46.1" y1="758.5" x2="610.3" y2="758.5" stroke="#747474" stroke-width="2.2" stroke-dasharray="14 14.3" stroke-dashoffset="6.2"/>
<circle cx="171.7" cy="652.6" r="7.9" fill="url(#gcy)"/>
<circle cx="169" cy="671.8" r="7.9" fill="url(#gcy)"/>
<circle cx="216" cy="614.9" r="8" fill="url(#gpk)"/>
<circle cx="454" cy="652" r="7.9" fill="url(#gcy)"/>
<circle cx="451" cy="672" r="7.9" fill="url(#gcy)"/>
<circle cx="491.5" cy="630" r="7.5" fill="url(#gpk)"/>
<path d="M500.0,690.0 C499.3,691.7 496.3,696.0 496.0,700.0 C495.7,704.0 496.3,710.0 498.0,714.0 C499.7,718.0 502.7,722.0 506.0,724.0 C509.3,726.0 514.7,727.3 518.0,726.0 C521.3,724.7 525.0,720.3 526.0,716.0 C527.0,711.7 525.7,704.3 524.0,700.0 C522.3,695.7 519.0,692.0 516.0,690.0 C513.0,688.0 507.7,688.3 506.0,688.0" fill="none" stroke="#0b4288" stroke-width="3.0" stroke-linejoin="round" stroke-linecap="round"/>
<path d="M500.0,690.0 C499.3,691.7 496.3,696.0 496.0,700.0 C495.7,704.0 496.3,710.0 498.0,714.0 C499.7,718.0 502.7,722.0 506.0,724.0 C509.3,726.0 514.7,727.3 518.0,726.0 C521.3,724.7 525.0,720.3 526.0,716.0 C527.0,711.7 525.7,704.3 524.0,700.0 C522.3,695.7 519.0,692.0 516.0,690.0 C513.0,688.0 507.7,688.3 506.0,688.0" fill="none" stroke="#2884e4" stroke-width="2.0" stroke-linejoin="round" stroke-linecap="round"/>
<circle cx="232.7" cy="684" r="6.2" fill="url(#grd)"/>
<circle cx="234.5" cy="694.3" r="6.4" fill="url(#ggr)"/>
<circle cx="223.4" cy="694.9" r="5.6" fill="url(#gbl)"/>
<circle cx="228.3" cy="704.5" r="6.2" fill="url(#grd)"/>
<circle cx="510" cy="696" r="6.2" fill="url(#grd)"/>
<circle cx="512" cy="721" r="6.2" fill="url(#grd)"/>
<circle cx="514" cy="708" r="6.4" fill="url(#ggr)"/>
<circle cx="503.5" cy="709.5" r="5.6" fill="url(#gbl)"/>
<path d="M106.6,746.5 L112.3,744.6 L118.0,747.6 L123.6,744.6 L129.3,747.6 L135.0,744.6 L140.7,747.6 L146.4,745.3 L150.2,748.4 L152.0,756.0 L155.9,763.5 L154.0,771.0 L157.8,778.7 L159.7,786.3" fill="none" stroke="#3ed43e" stroke-width="2.6" stroke-linejoin="round" stroke-linecap="round"/>
<path d="M155.9,737.0 L159.7,742.7 L157.8,748.4 L161.6,756.0 L165.4,763.5 L167.3,771.0 L169.2,778.7 L171.1,786.3 L173.0,793.9" fill="none" stroke="#3ed43e" stroke-width="2.6" stroke-linejoin="round" stroke-linecap="round"/>
<path d="M159.7,786.3 L158.0,792.0 L162.0,797.0" fill="none" stroke="#c0302a" stroke-width="2.4" stroke-linejoin="round" stroke-linecap="round"/>
<path d="M155.0,790.0 L160.0,789.0 L165.0,792.0" fill="none" stroke="#e07020" stroke-width="2.0" stroke-linejoin="round" stroke-linecap="round"/>
<path d="M162.0,797.0 L168.0,798.0 L173.0,800.0" fill="none" stroke="#3ed43e" stroke-width="2.6" stroke-linejoin="round" stroke-linecap="round"/>
<path d="M173.0,800.0 L177.0,803.0" fill="none" stroke="#3030d0" stroke-width="2.4" stroke-linejoin="round" stroke-linecap="round"/>
<path d="M283.0,683.0 L285.0,692.0 L287.0,700.0 L284.0,708.0 L288.0,716.0 L292.0,722.0" fill="none" stroke="#3ed43e" stroke-width="2.6" stroke-linejoin="round" stroke-linecap="round"/>
<path d="M290.0,688.0 L294.0,696.0 L298.0,702.0 L300.0,710.0 L298.0,718.0 L302.0,724.0" fill="none" stroke="#3ed43e" stroke-width="2.6" stroke-linejoin="round" stroke-linecap="round"/>
<path d="M276.0,684.0 L283.0,683.0 L289.0,680.0" fill="none" stroke="#e07020" stroke-width="2.0" stroke-linejoin="round" stroke-linecap="round"/>
<path d="M283.0,683.0 L285.0,689.0" fill="none" stroke="#d03030" stroke-width="2.0" stroke-linejoin="round" stroke-linecap="round"/>
<path d="M418.0,746.0 L424.0,750.0 L430.0,749.0 L436.0,753.0 L440.0,760.0 L441.0,767.0 L446.0,770.0 L451.0,775.0 L455.0,781.0 L452.0,786.0" fill="none" stroke="#3ed43e" stroke-width="2.6" stroke-linejoin="round" stroke-linecap="round"/>
<path d="M439.7,738.9 L444.0,742.0 L447.0,748.0 L451.0,754.0 L455.0,760.0 L459.0,766.0 L462.0,771.0 L462.0,777.0 L458.0,784.0" fill="none" stroke="#3ed43e" stroke-width="2.6" stroke-linejoin="round" stroke-linecap="round"/>
<path d="M452.0,786.0 L449.0,792.0 L451.0,797.0" fill="none" stroke="#3ed43e" stroke-width="2.4" stroke-linejoin="round" stroke-linecap="round"/>
<path d="M447.0,786.0 L452.0,786.0 L457.0,788.0" fill="none" stroke="#c0302a" stroke-width="2.2" stroke-linejoin="round" stroke-linecap="round"/>
<path d="M449.0,790.0 L452.0,794.0" fill="none" stroke="#e07020" stroke-width="2.0" stroke-linejoin="round" stroke-linecap="round"/>
<path d="M451.0,797.0 L451.0,802.0" fill="none" stroke="#3030d0" stroke-width="2.4" stroke-linejoin="round" stroke-linecap="round"/>
<line x1="233.5" y1="706.8" x2="387.9" y2="706.8" stroke="#ec5a2a" stroke-width="2.2"/>
<line x1="359.4" y1="728.3" x2="519.6" y2="728.3" stroke="#ec5a2a" stroke-width="2.2"/>
<line x1="370.4" y1="709" x2="370.4" y2="726" stroke="#ec5a2a" stroke-width="1.5"/>
<path d="M366.6,714.5 L370.4,708.6 L374.2,714.5 M366.6,720.5 L370.4,726.4 L374.2,720.5" fill="none" stroke="#ec5a2a" stroke-width="1.5"/>
<line x1="321.2" y1="670.4" x2="291.1" y2="687.6" stroke="#111" stroke-width="1.3"/>
<rect x="118.8" y="657.6" width="39.8" height="18" fill="#fff"/>
<text transform="translate(81.23 594.20) scale(1.0 1)" font-size="18.2" fill="#111">OFS</text>
<text transform="translate(411.52 591.70) scale(1.0 1)" font-size="18.2" fill="#111">iOFS</text>
<text transform="translate(163.10 609.80) scale(1.0 1)" font-size="18.2" fill="#111">M385</text>
<text transform="translate(287.99 619.20) scale(1.0 1)" font-size="18.2" fill="#111">Transport</text>
<text transform="translate(44.70 645.90) scale(1.0 1)" font-size="18.2" fill="#111">Extra</text>
<text transform="translate(44.92 774.70) scale(1.0 1)" font-size="18.2" fill="#111">Intra</text>
<text transform="translate(119.93 673.30) scale(1.0 1)" font-size="18.2" fill="#111">dHis</text>
<text transform="translate(324.80 672.30) scale(1.0 1)" font-size="18.2" fill="#111">Lipid 2</text>
<text transform="translate(137.10 820.40) scale(1.0 1)" font-size="18.2" fill="#111">Lipid 1</text>
<text transform="translate(194.18 879.70) scale(1.0 1)" font-size="18.2" fill="#111">Scaffold</text>
</svg></body></html>
